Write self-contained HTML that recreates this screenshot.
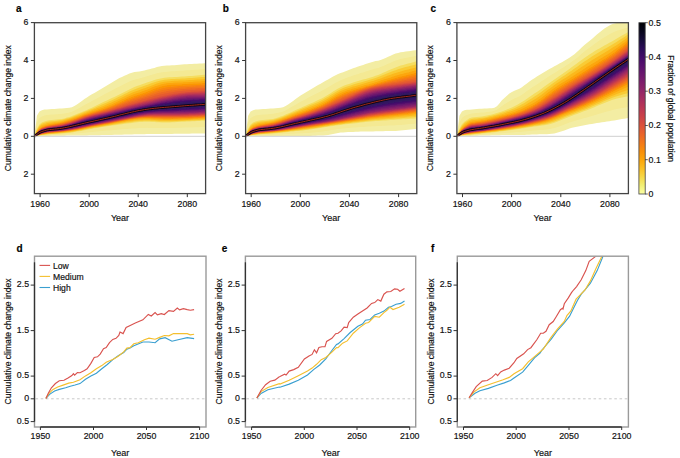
<!DOCTYPE html>
<html><head><meta charset="utf-8"><style>
html,body{margin:0;padding:0;background:#fff;width:680px;height:458px;overflow:hidden}
svg{display:block}
text{font-family:"Liberation Sans", sans-serif;stroke:#111;stroke-width:0.18px;paint-order:normal}
</style></head><body>
<svg width="680" height="458" viewBox="0 0 680 458">
<rect width="680" height="458" fill="#fff"/>
<defs><linearGradient id="cbar" x1="0" y1="1" x2="0" y2="0"><stop offset="0.000" stop-color="#fcffa4"/><stop offset="0.050" stop-color="#f1ef75"/><stop offset="0.100" stop-color="#f6d746"/><stop offset="0.150" stop-color="#fbbe23"/><stop offset="0.200" stop-color="#fca50a"/><stop offset="0.250" stop-color="#f98e09"/><stop offset="0.300" stop-color="#f37819"/><stop offset="0.350" stop-color="#ea632a"/><stop offset="0.400" stop-color="#dd513a"/><stop offset="0.450" stop-color="#cc4248"/><stop offset="0.500" stop-color="#bc3754"/><stop offset="0.550" stop-color="#a82e5f"/><stop offset="0.600" stop-color="#932667"/><stop offset="0.650" stop-color="#7f1e6c"/><stop offset="0.700" stop-color="#6a176e"/><stop offset="0.750" stop-color="#57106e"/><stop offset="0.800" stop-color="#420a68"/><stop offset="0.850" stop-color="#2b0b57"/><stop offset="0.900" stop-color="#160b39"/><stop offset="0.950" stop-color="#07051b"/><stop offset="1.000" stop-color="#000004"/></linearGradient><filter id="blur" x="-5%" y="-5%" width="110%" height="110%"><feGaussianBlur stdDeviation="0.7"/></filter><clipPath id="clipa"><rect x="34.4" y="22.7" width="171.2" height="170.9"/></clipPath><clipPath id="clipb"><rect x="245.6" y="22.7" width="171.2" height="170.9"/></clipPath><clipPath id="clipc"><rect x="456.9" y="22.7" width="171.5" height="170.9"/></clipPath><clipPath id="clipd"><rect x="34.5" y="256.2" width="171.5" height="170.8"/></clipPath><clipPath id="clipe"><rect x="245.4" y="256.2" width="170.3" height="170.8"/></clipPath><clipPath id="clipf"><rect x="457.3" y="256.2" width="171.1" height="170.8"/></clipPath></defs>
<g clip-path="url(#clipa)">
<path d="M34.4,136.3 36.9,115.8 39.4,111.6 41.9,110.3 44.4,109.6 46.9,109.4 49.4,109.2 51.9,109.1 54.4,108.9 56.9,108.8 59.4,108.6 61.9,108.4 64.4,108.2 66.9,108.1 69.4,107.8 71.9,107.2 74.4,106.1 76.9,104.4 79.4,102.7 81.9,100.9 84.4,99.1 86.9,97.4 89.4,95.8 91.9,94.3 94.4,92.9 96.9,91.4 99.4,89.9 101.9,88.4 104.4,86.9 106.9,85.4 109.4,83.9 111.9,82.4 114.4,80.9 116.9,79.5 119.4,78.1 121.9,76.9 124.4,75.8 126.9,74.7 129.4,73.6 131.9,72.7 134.4,72.1 136.9,71.7 139.4,71.4 141.9,70.9 144.4,70.4 146.9,69.8 149.4,69.2 151.9,68.6 154.4,67.9 156.9,67.1 159.4,66.4 161.9,66.0 164.4,65.8 166.9,65.6 169.4,65.5 171.9,65.3 174.4,65.2 176.9,65.0 179.4,64.7 181.9,64.5 184.4,64.3 186.9,64.2 189.4,64.0 191.9,63.9 194.4,63.8 196.9,63.7 199.4,63.6 201.9,63.5 204.4,63.3 205.6,63.3 205.6,133.5 204.4,133.5 201.9,133.5 199.4,133.6 196.9,133.6 194.4,133.6 191.9,133.6 189.4,133.7 186.9,133.7 184.4,133.7 181.9,133.8 179.4,133.8 176.9,133.8 174.4,133.8 171.9,133.9 169.4,133.9 166.9,133.9 164.4,133.9 161.9,134.0 159.4,134.0 156.9,134.0 154.4,134.0 151.9,134.1 149.4,134.1 146.9,134.1 144.4,134.2 141.9,134.2 139.4,134.2 136.9,134.3 134.4,134.3 131.9,134.4 129.4,134.5 126.9,134.5 124.4,134.6 121.9,134.7 119.4,134.7 116.9,134.8 114.4,134.8 111.9,134.9 109.4,135.0 106.9,135.0 104.4,135.1 101.9,135.1 99.4,135.2 96.9,135.2 94.4,135.3 91.9,135.3 89.4,135.3 86.9,135.4 84.4,135.4 81.9,135.4 79.4,135.5 76.9,135.5 74.4,135.5 71.9,135.6 69.4,135.6 66.9,135.6 64.4,135.7 61.9,135.7 59.4,135.7 56.9,135.8 54.4,135.8 51.9,135.8 49.4,135.9 46.9,135.9 44.4,135.9 41.9,136.0 39.4,136.0 36.9,136.2 34.4,136.3Z" fill="#f3eda3"/>
<g filter="url(#blur)"><path d="M34.4,136.3 36.9,122.4 39.4,118.1 41.9,116.4 44.4,115.6 46.9,115.1 49.4,114.8 51.9,114.6 54.4,114.5 56.9,114.3 59.4,114.0 61.9,113.7 64.4,113.4 66.9,112.9 69.4,112.4 71.9,111.7 74.4,110.6 76.9,109.3 79.4,108.0 81.9,106.6 84.4,105.1 86.9,103.8 89.4,102.4 91.9,101.1 94.4,99.8 96.9,98.4 99.4,97.0 101.9,95.7 104.4,94.3 106.9,93.0 109.4,91.7 111.9,90.4 114.4,89.1 116.9,87.8 119.4,86.5 121.9,85.2 124.4,84.0 126.9,82.8 129.4,81.6 131.9,80.6 134.4,79.7 136.9,79.0 139.4,78.4 141.9,77.7 144.4,77.0 146.9,76.3 149.4,75.5 151.9,74.8 154.4,74.1 156.9,73.3 159.4,72.7 161.9,72.2 164.4,71.9 166.9,71.7 169.4,71.5 171.9,71.3 174.4,71.2 176.9,71.0 179.4,70.8 181.9,70.7 184.4,70.5 186.9,70.3 189.4,70.2 191.9,70.0 194.4,69.8 196.9,69.7 199.4,69.5 201.9,69.3 204.4,69.1 205.6,69.1 205.6,127.0 204.4,127.0 201.9,127.1 199.4,127.2 196.9,127.2 194.4,127.3 191.9,127.4 189.4,127.5 186.9,127.5 184.4,127.6 181.9,127.7 179.4,127.8 176.9,127.8 174.4,127.9 171.9,128.0 169.4,128.0 166.9,128.1 164.4,128.1 161.9,128.1 159.4,128.1 156.9,128.0 154.4,128.0 151.9,127.9 149.4,127.9 146.9,127.8 144.4,127.9 141.9,127.9 139.4,128.1 136.9,128.2 134.4,128.4 131.9,128.6 129.4,128.7 126.9,128.9 124.4,129.1 121.9,129.3 119.4,129.5 116.9,129.7 114.4,129.9 111.9,130.2 109.4,130.4 106.9,130.6 104.4,130.8 101.9,131.0 99.4,131.3 96.9,131.5 94.4,131.7 91.9,132.0 89.4,132.2 86.9,132.5 84.4,132.8 81.9,133.0 79.4,133.3 76.9,133.5 74.4,133.8 71.9,134.0 69.4,134.1 66.9,134.3 64.4,134.4 61.9,134.6 59.4,134.7 56.9,134.8 54.4,134.9 51.9,135.0 49.4,135.1 46.9,135.2 44.4,135.3 41.9,135.5 39.4,135.7 36.9,136.0 34.4,136.3Z" fill="#f4e993"/><path d="M34.4,136.3 36.9,128.8 39.4,124.4 41.9,122.4 44.4,121.5 46.9,120.7 49.4,120.2 51.9,120.0 54.4,119.8 56.9,119.6 59.4,119.3 61.9,118.9 64.4,118.4 66.9,117.6 69.4,116.9 71.9,116.0 74.4,115.1 76.9,114.1 79.4,113.1 81.9,112.0 84.4,111.0 86.9,109.9 89.4,108.8 91.9,107.7 94.4,106.5 96.9,105.2 99.4,104.0 101.9,102.8 104.4,101.6 106.9,100.4 109.4,99.3 111.9,98.1 114.4,97.0 116.9,95.8 119.4,94.6 121.9,93.3 124.4,92.0 126.9,90.7 129.4,89.4 131.9,88.2 134.4,87.1 136.9,86.1 139.4,85.2 141.9,84.3 144.4,83.5 146.9,82.6 149.4,81.7 151.9,80.9 154.4,80.1 156.9,79.3 159.4,78.7 161.9,78.2 164.4,77.8 166.9,77.5 169.4,77.3 171.9,77.2 174.4,77.0 176.9,76.9 179.4,76.8 181.9,76.6 184.4,76.5 186.9,76.3 189.4,76.1 191.9,75.9 194.4,75.7 196.9,75.5 199.4,75.3 201.9,75.0 204.4,74.8 205.6,74.7 205.6,120.7 204.4,120.7 201.9,120.8 199.4,121.0 196.9,121.1 194.4,121.2 191.9,121.3 189.4,121.5 186.9,121.6 184.4,121.7 181.9,121.8 179.4,122.0 176.9,122.1 174.4,122.2 171.9,122.3 169.4,122.4 166.9,122.4 164.4,122.5 161.9,122.4 159.4,122.3 156.9,122.2 154.4,122.1 151.9,121.9 149.4,121.8 146.9,121.8 144.4,121.8 141.9,121.9 139.4,122.1 136.9,122.3 134.4,122.6 131.9,122.9 129.4,123.2 126.9,123.5 124.4,123.8 121.9,124.2 119.4,124.5 116.9,124.9 114.4,125.2 111.9,125.6 109.4,125.9 106.9,126.3 104.4,126.7 101.9,127.1 99.4,127.5 96.9,127.9 94.4,128.3 91.9,128.8 89.4,129.2 86.9,129.7 84.4,130.2 81.9,130.7 79.4,131.2 76.9,131.6 74.4,132.0 71.9,132.4 69.4,132.7 66.9,133.0 64.4,133.2 61.9,133.4 59.4,133.6 56.9,133.8 54.4,134.0 51.9,134.1 49.4,134.3 46.9,134.5 44.4,134.7 41.9,135.0 39.4,135.3 36.9,135.8 34.4,136.3Z" fill="#f5dd5f"/><path d="M34.4,136.3 36.9,129.9 39.4,125.8 41.9,123.8 44.4,122.8 46.9,122.0 49.4,121.5 51.9,121.2 54.4,121.0 56.9,120.7 59.4,120.3 61.9,119.9 64.4,119.3 66.9,118.6 69.4,117.9 71.9,117.0 74.4,116.1 76.9,115.1 79.4,114.1 81.9,113.1 84.4,112.1 86.9,111.1 89.4,110.0 91.9,109.0 94.4,107.9 96.9,106.8 99.4,105.7 101.9,104.6 104.4,103.5 106.9,102.4 109.4,101.3 111.9,100.2 114.4,99.0 116.9,97.8 119.4,96.6 121.9,95.4 124.4,94.1 126.9,92.9 129.4,91.6 131.9,90.5 134.4,89.5 136.9,88.5 139.4,87.6 141.9,86.7 144.4,85.8 146.9,85.0 149.4,84.0 151.9,83.1 154.4,82.3 156.9,81.5 159.4,80.8 161.9,80.2 164.4,79.8 166.9,79.5 169.4,79.2 171.9,79.1 174.4,78.9 176.9,78.8 179.4,78.7 181.9,78.6 184.4,78.4 186.9,78.3 189.4,78.1 191.9,77.9 194.4,77.7 196.9,77.5 199.4,77.3 201.9,77.1 204.4,76.9 205.6,76.8 205.6,119.9 204.4,119.9 201.9,120.1 199.4,120.2 196.9,120.3 194.4,120.4 191.9,120.5 189.4,120.7 186.9,120.8 184.4,120.9 181.9,121.0 179.4,121.1 176.9,121.2 174.4,121.3 171.9,121.4 169.4,121.5 166.9,121.5 164.4,121.5 161.9,121.5 159.4,121.4 156.9,121.3 154.4,121.1 151.9,120.9 149.4,120.8 146.9,120.8 144.4,120.8 141.9,120.9 139.4,121.1 136.9,121.3 134.4,121.6 131.9,121.9 129.4,122.2 126.9,122.6 124.4,122.9 121.9,123.3 119.4,123.7 116.9,124.1 114.4,124.5 111.9,124.9 109.4,125.3 106.9,125.7 104.4,126.1 101.9,126.5 99.4,126.9 96.9,127.3 94.4,127.7 91.9,128.2 89.4,128.6 86.9,129.1 84.4,129.6 81.9,130.2 79.4,130.6 76.9,131.1 74.4,131.5 71.9,131.9 69.4,132.2 66.9,132.5 64.4,132.7 61.9,133.0 59.4,133.2 56.9,133.4 54.4,133.6 51.9,133.7 49.4,133.9 46.9,134.2 44.4,134.5 41.9,134.8 39.4,135.2 36.9,135.7 34.4,136.3Z" fill="#f9cb35"/><path d="M34.4,136.3 36.9,131.0 39.4,127.1 41.9,125.1 44.4,124.2 46.9,123.3 49.4,122.8 51.9,122.5 54.4,122.1 56.9,121.8 59.4,121.4 61.9,120.9 64.4,120.3 66.9,119.6 69.4,118.8 71.9,118.0 74.4,117.1 76.9,116.1 79.4,115.2 81.9,114.2 84.4,113.2 86.9,112.2 89.4,111.3 91.9,110.3 94.4,109.3 96.9,108.3 99.4,107.4 101.9,106.4 104.4,105.4 106.9,104.3 109.4,103.3 111.9,102.2 114.4,101.0 116.9,99.9 119.4,98.7 121.9,97.5 124.4,96.2 126.9,95.0 129.4,93.9 131.9,92.8 134.4,91.8 136.9,90.9 139.4,90.0 141.9,89.1 144.4,88.2 146.9,87.3 149.4,86.4 151.9,85.4 154.4,84.4 156.9,83.6 159.4,82.8 161.9,82.2 164.4,81.7 166.9,81.4 169.4,81.2 171.9,81.0 174.4,80.8 176.9,80.7 179.4,80.6 181.9,80.5 184.4,80.4 186.9,80.2 189.4,80.1 191.9,79.9 194.4,79.7 196.9,79.6 199.4,79.4 201.9,79.2 204.4,79.0 205.6,79.0 205.6,119.1 204.4,119.1 201.9,119.3 199.4,119.4 196.9,119.5 194.4,119.6 191.9,119.7 189.4,119.9 186.9,120.0 184.4,120.1 181.9,120.2 179.4,120.3 176.9,120.4 174.4,120.4 171.9,120.5 169.4,120.6 166.9,120.6 164.4,120.6 161.9,120.5 159.4,120.4 156.9,120.3 154.4,120.1 151.9,120.0 149.4,119.8 146.9,119.8 144.4,119.8 141.9,119.9 139.4,120.1 136.9,120.3 134.4,120.6 131.9,120.9 129.4,121.3 126.9,121.6 124.4,122.0 121.9,122.5 119.4,122.9 116.9,123.3 114.4,123.7 111.9,124.2 109.4,124.6 106.9,125.0 104.4,125.4 101.9,125.9 99.4,126.3 96.9,126.7 94.4,127.1 91.9,127.6 89.4,128.1 86.9,128.6 84.4,129.1 81.9,129.6 79.4,130.1 76.9,130.5 74.4,131.0 71.9,131.3 69.4,131.7 66.9,132.0 64.4,132.3 61.9,132.5 59.4,132.7 56.9,133.0 54.4,133.2 51.9,133.4 49.4,133.6 46.9,133.8 44.4,134.2 41.9,134.5 39.4,135.0 36.9,135.6 34.4,136.3Z" fill="#fbb81d"/><path d="M34.4,136.3 36.9,132.0 39.4,128.4 41.9,126.5 44.4,125.6 46.9,124.7 49.4,124.1 51.9,123.7 54.4,123.3 56.9,122.9 59.4,122.4 61.9,121.9 64.4,121.3 66.9,120.6 69.4,119.8 71.9,119.0 74.4,118.1 76.9,117.2 79.4,116.2 81.9,115.2 84.4,114.3 86.9,113.4 89.4,112.5 91.9,111.6 94.4,110.7 96.9,109.9 99.4,109.0 101.9,108.2 104.4,107.2 106.9,106.3 109.4,105.3 111.9,104.2 114.4,103.1 116.9,101.9 119.4,100.8 121.9,99.6 124.4,98.4 126.9,97.2 129.4,96.1 131.9,95.1 134.4,94.1 136.9,93.2 139.4,92.4 141.9,91.5 144.4,90.6 146.9,89.7 149.4,88.7 151.9,87.6 154.4,86.6 156.9,85.7 159.4,84.9 161.9,84.2 164.4,83.7 166.9,83.3 169.4,83.1 171.9,82.9 174.4,82.8 176.9,82.6 179.4,82.5 181.9,82.4 184.4,82.3 186.9,82.2 189.4,82.0 191.9,81.9 194.4,81.7 196.9,81.6 199.4,81.5 201.9,81.3 204.4,81.2 205.6,81.1 205.6,118.3 204.4,118.3 201.9,118.5 199.4,118.6 196.9,118.7 194.4,118.8 191.9,118.9 189.4,119.1 186.9,119.2 184.4,119.3 181.9,119.3 179.4,119.4 176.9,119.5 174.4,119.6 171.9,119.6 169.4,119.7 166.9,119.7 164.4,119.7 161.9,119.6 159.4,119.5 156.9,119.3 154.4,119.2 151.9,119.0 149.4,118.8 146.9,118.8 144.4,118.8 141.9,118.9 139.4,119.0 136.9,119.3 134.4,119.6 131.9,119.9 129.4,120.3 126.9,120.7 124.4,121.2 121.9,121.6 119.4,122.1 116.9,122.5 114.4,123.0 111.9,123.5 109.4,123.9 106.9,124.4 104.4,124.8 101.9,125.2 99.4,125.7 96.9,126.1 94.4,126.5 91.9,127.0 89.4,127.5 86.9,128.0 84.4,128.5 81.9,129.0 79.4,129.5 76.9,130.0 74.4,130.4 71.9,130.8 69.4,131.2 66.9,131.5 64.4,131.8 61.9,132.0 59.4,132.3 56.9,132.5 54.4,132.8 51.9,133.0 49.4,133.2 46.9,133.5 44.4,133.9 41.9,134.3 39.4,134.8 36.9,135.6 34.4,136.3Z" fill="#fca60c"/><path d="M34.4,136.3 36.9,132.7 39.4,129.3 41.9,127.4 44.4,126.5 46.9,125.6 49.4,125.0 51.9,124.6 54.4,124.2 56.9,123.7 59.4,123.2 61.9,122.7 64.4,122.1 66.9,121.3 69.4,120.6 71.9,119.8 74.4,118.9 76.9,118.0 79.4,117.0 81.9,116.1 84.4,115.1 86.9,114.3 89.4,113.4 91.9,112.6 94.4,111.8 96.9,111.1 99.4,110.3 101.9,109.5 104.4,108.7 106.9,107.8 109.4,106.8 111.9,105.7 114.4,104.7 116.9,103.6 119.4,102.4 121.9,101.3 124.4,100.2 126.9,99.1 129.4,98.0 131.9,97.0 134.4,96.1 136.9,95.2 139.4,94.4 141.9,93.6 144.4,92.7 146.9,91.8 149.4,90.8 151.9,89.7 154.4,88.7 156.9,87.7 159.4,86.9 161.9,86.2 164.4,85.7 166.9,85.3 169.4,85.0 171.9,84.8 174.4,84.6 176.9,84.5 179.4,84.4 181.9,84.2 184.4,84.1 186.9,84.0 189.4,83.8 191.9,83.7 194.4,83.6 196.9,83.5 199.4,83.3 201.9,83.2 204.4,83.1 205.6,83.0 205.6,117.6 204.4,117.6 201.9,117.8 199.4,117.9 196.9,118.0 194.4,118.1 191.9,118.2 189.4,118.4 186.9,118.5 184.4,118.5 181.9,118.6 179.4,118.7 176.9,118.8 174.4,118.8 171.9,118.9 169.4,118.9 166.9,118.9 164.4,118.9 161.9,118.8 159.4,118.7 156.9,118.5 154.4,118.4 151.9,118.2 149.4,118.1 146.9,118.0 144.4,118.0 141.9,118.1 139.4,118.3 136.9,118.5 134.4,118.8 131.9,119.2 129.4,119.6 126.9,120.0 124.4,120.5 121.9,121.0 119.4,121.5 116.9,122.0 114.4,122.5 111.9,123.0 109.4,123.4 106.9,123.9 104.4,124.3 101.9,124.8 99.4,125.2 96.9,125.6 94.4,126.1 91.9,126.5 89.4,127.0 86.9,127.5 84.4,128.1 81.9,128.6 79.4,129.1 76.9,129.6 74.4,130.0 71.9,130.4 69.4,130.8 66.9,131.1 64.4,131.4 61.9,131.7 59.4,132.0 56.9,132.2 54.4,132.5 51.9,132.7 49.4,132.9 46.9,133.3 44.4,133.7 41.9,134.1 39.4,134.7 36.9,135.5 34.4,136.3Z" fill="#fb9606"/><path d="M34.4,136.3 36.9,132.8 39.4,129.5 41.9,127.7 44.4,126.8 46.9,126.0 49.4,125.4 51.9,125.0 54.4,124.6 56.9,124.1 59.4,123.7 61.9,123.1 64.4,122.5 66.9,121.8 69.4,121.0 71.9,120.2 74.4,119.4 76.9,118.4 79.4,117.5 81.9,116.6 84.4,115.6 86.9,114.8 89.4,113.9 91.9,113.1 94.4,112.4 96.9,111.6 99.4,110.9 101.9,110.2 104.4,109.4 106.9,108.5 109.4,107.6 111.9,106.6 114.4,105.6 116.9,104.6 119.4,103.5 121.9,102.4 124.4,101.4 126.9,100.3 129.4,99.4 131.9,98.4 134.4,97.6 136.9,96.7 139.4,95.9 141.9,95.1 144.4,94.3 146.9,93.4 149.4,92.5 151.9,91.5 154.4,90.6 156.9,89.7 159.4,88.9 161.9,88.2 164.4,87.7 166.9,87.3 169.4,87.0 171.9,86.7 174.4,86.5 176.9,86.3 179.4,86.1 181.9,85.9 184.4,85.8 186.9,85.6 189.4,85.4 191.9,85.3 194.4,85.2 196.9,85.1 199.4,84.9 201.9,84.8 204.4,84.7 205.6,84.6 205.6,117.0 204.4,117.1 201.9,117.2 199.4,117.4 196.9,117.5 194.4,117.6 191.9,117.7 189.4,117.8 186.9,117.9 184.4,118.0 181.9,118.1 179.4,118.1 176.9,118.2 174.4,118.2 171.9,118.3 169.4,118.3 166.9,118.3 164.4,118.3 161.9,118.2 159.4,118.1 156.9,118.0 154.4,117.9 151.9,117.7 149.4,117.6 146.9,117.6 144.4,117.6 141.9,117.8 139.4,118.0 136.9,118.2 134.4,118.6 131.9,118.9 129.4,119.3 126.9,119.8 124.4,120.2 121.9,120.7 119.4,121.2 116.9,121.7 114.4,122.2 111.9,122.7 109.4,123.2 106.9,123.6 104.4,124.1 101.9,124.5 99.4,125.0 96.9,125.4 94.4,125.9 91.9,126.3 89.4,126.8 86.9,127.3 84.4,127.9 81.9,128.4 79.4,128.9 76.9,129.4 74.4,129.8 71.9,130.2 69.4,130.6 66.9,130.9 64.4,131.3 61.9,131.5 59.4,131.8 56.9,132.1 54.4,132.3 51.9,132.5 49.4,132.8 46.9,133.1 44.4,133.5 41.9,134.0 39.4,134.6 36.9,135.4 34.4,136.3Z" fill="#f8850f"/><path d="M34.4,136.3 36.9,132.9 39.4,129.7 41.9,128.0 44.4,127.1 46.9,126.3 49.4,125.7 51.9,125.3 54.4,124.9 56.9,124.5 59.4,124.1 61.9,123.6 64.4,123.0 66.9,122.3 69.4,121.5 71.9,120.7 74.4,119.8 76.9,118.9 79.4,118.0 81.9,117.0 84.4,116.1 86.9,115.3 89.4,114.4 91.9,113.7 94.4,112.9 96.9,112.2 99.4,111.5 101.9,110.8 104.4,110.0 106.9,109.2 109.4,108.4 111.9,107.5 114.4,106.5 116.9,105.6 119.4,104.6 121.9,103.6 124.4,102.6 126.9,101.6 129.4,100.7 131.9,99.8 134.4,99.0 136.9,98.2 139.4,97.5 141.9,96.7 144.4,95.9 146.9,95.1 149.4,94.2 151.9,93.3 154.4,92.4 156.9,91.6 159.4,90.8 161.9,90.2 164.4,89.7 166.9,89.2 169.4,88.9 171.9,88.6 174.4,88.3 176.9,88.1 179.4,87.8 181.9,87.6 184.4,87.4 186.9,87.2 189.4,87.1 191.9,86.9 194.4,86.8 196.9,86.6 199.4,86.5 201.9,86.4 204.4,86.3 205.6,86.2 205.6,116.5 204.4,116.6 201.9,116.7 199.4,116.8 196.9,116.9 194.4,117.1 191.9,117.2 189.4,117.3 186.9,117.4 184.4,117.5 181.9,117.5 179.4,117.6 176.9,117.6 174.4,117.7 171.9,117.7 169.4,117.7 166.9,117.7 164.4,117.7 161.9,117.7 159.4,117.6 156.9,117.5 154.4,117.4 151.9,117.3 149.4,117.2 146.9,117.2 144.4,117.3 141.9,117.4 139.4,117.6 136.9,117.9 134.4,118.3 131.9,118.6 129.4,119.1 126.9,119.5 124.4,120.0 121.9,120.5 119.4,121.0 116.9,121.5 114.4,121.9 111.9,122.4 109.4,122.9 106.9,123.4 104.4,123.8 101.9,124.3 99.4,124.7 96.9,125.2 94.4,125.6 91.9,126.1 89.4,126.6 86.9,127.1 84.4,127.6 81.9,128.2 79.4,128.7 76.9,129.2 74.4,129.6 71.9,130.1 69.4,130.4 66.9,130.8 64.4,131.1 61.9,131.4 59.4,131.7 56.9,131.9 54.4,132.1 51.9,132.3 49.4,132.6 46.9,132.9 44.4,133.3 41.9,133.8 39.4,134.5 36.9,135.4 34.4,136.3Z" fill="#f3761b"/><path d="M34.4,136.3 36.9,133.1 39.4,130.0 41.9,128.3 44.4,127.4 46.9,126.6 49.4,126.1 51.9,125.7 54.4,125.3 56.9,124.9 59.4,124.5 61.9,124.0 64.4,123.4 66.9,122.7 69.4,122.0 71.9,121.2 74.4,120.3 76.9,119.4 79.4,118.5 81.9,117.5 84.4,116.6 86.9,115.8 89.4,115.0 91.9,114.2 94.4,113.5 96.9,112.8 99.4,112.1 101.9,111.5 104.4,110.7 106.9,110.0 109.4,109.2 111.9,108.3 114.4,107.4 116.9,106.6 119.4,105.6 121.9,104.7 124.4,103.8 126.9,102.9 129.4,102.1 131.9,101.2 134.4,100.5 136.9,99.7 139.4,99.0 141.9,98.2 144.4,97.5 146.9,96.7 149.4,95.9 151.9,95.1 154.4,94.3 156.9,93.5 159.4,92.8 161.9,92.2 164.4,91.7 166.9,91.2 169.4,90.8 171.9,90.5 174.4,90.2 176.9,89.9 179.4,89.6 181.9,89.3 184.4,89.1 186.9,88.8 189.4,88.7 191.9,88.5 194.4,88.4 196.9,88.2 199.4,88.1 201.9,88.0 204.4,87.9 205.6,87.8 205.6,116.0 204.4,116.0 201.9,116.2 199.4,116.3 196.9,116.4 194.4,116.5 191.9,116.6 189.4,116.7 186.9,116.8 184.4,116.9 181.9,117.0 179.4,117.0 176.9,117.1 174.4,117.1 171.9,117.1 169.4,117.1 166.9,117.1 164.4,117.1 161.9,117.1 159.4,117.0 156.9,116.9 154.4,116.9 151.9,116.8 149.4,116.8 146.9,116.8 144.4,116.9 141.9,117.1 139.4,117.3 136.9,117.6 134.4,118.0 131.9,118.4 129.4,118.8 126.9,119.2 124.4,119.7 121.9,120.2 119.4,120.7 116.9,121.2 114.4,121.7 111.9,122.2 109.4,122.7 106.9,123.1 104.4,123.6 101.9,124.1 99.4,124.5 96.9,125.0 94.4,125.4 91.9,125.9 89.4,126.4 86.9,126.9 84.4,127.4 81.9,128.0 79.4,128.5 76.9,129.0 74.4,129.5 71.9,129.9 69.4,130.3 66.9,130.6 64.4,131.0 61.9,131.2 59.4,131.5 56.9,131.7 54.4,132.0 51.9,132.2 49.4,132.4 46.9,132.7 44.4,133.2 41.9,133.7 39.4,134.4 36.9,135.3 34.4,136.3Z" fill="#ec6726"/><path d="M34.4,136.3 36.9,133.2 39.4,130.2 41.9,128.6 44.4,127.7 46.9,127.0 49.4,126.4 51.9,126.1 54.4,125.7 56.9,125.3 59.4,124.9 61.9,124.5 64.4,123.9 66.9,123.2 69.4,122.4 71.9,121.6 74.4,120.8 76.9,119.9 79.4,118.9 81.9,118.0 84.4,117.1 86.9,116.3 89.4,115.5 91.9,114.7 94.4,114.0 96.9,113.4 99.4,112.8 101.9,112.1 104.4,111.4 106.9,110.7 109.4,110.0 111.9,109.2 114.4,108.4 116.9,107.5 119.4,106.7 121.9,105.9 124.4,105.0 126.9,104.2 129.4,103.4 131.9,102.7 134.4,101.9 136.9,101.2 139.4,100.5 141.9,99.8 144.4,99.1 146.9,98.4 149.4,97.6 151.9,96.9 154.4,96.1 156.9,95.4 159.4,94.8 161.9,94.2 164.4,93.7 166.9,93.2 169.4,92.8 171.9,92.4 174.4,92.0 176.9,91.6 179.4,91.3 181.9,91.0 184.4,90.7 186.9,90.5 189.4,90.3 191.9,90.1 194.4,89.9 196.9,89.8 199.4,89.7 201.9,89.6 204.4,89.4 205.6,89.4 205.6,115.4 204.4,115.5 201.9,115.6 199.4,115.7 196.9,115.9 194.4,116.0 191.9,116.1 189.4,116.2 186.9,116.3 184.4,116.4 181.9,116.4 179.4,116.5 176.9,116.5 174.4,116.5 171.9,116.5 169.4,116.6 166.9,116.6 164.4,116.5 161.9,116.5 159.4,116.5 156.9,116.4 154.4,116.4 151.9,116.3 149.4,116.3 146.9,116.4 144.4,116.5 141.9,116.7 139.4,117.0 136.9,117.3 134.4,117.7 131.9,118.1 129.4,118.5 126.9,119.0 124.4,119.5 121.9,119.9 119.4,120.4 116.9,120.9 114.4,121.4 111.9,121.9 109.4,122.4 106.9,122.9 104.4,123.4 101.9,123.8 99.4,124.3 96.9,124.7 94.4,125.2 91.9,125.7 89.4,126.2 86.9,126.7 84.4,127.2 81.9,127.8 79.4,128.3 76.9,128.8 74.4,129.3 71.9,129.7 69.4,130.1 66.9,130.5 64.4,130.8 61.9,131.1 59.4,131.3 56.9,131.6 54.4,131.8 51.9,132.0 49.4,132.2 46.9,132.5 44.4,133.0 41.9,133.6 39.4,134.3 36.9,135.3 34.4,136.3Z" fill="#e45a31"/><path d="M34.4,136.3 36.9,133.3 39.4,130.4 41.9,128.9 44.4,128.0 46.9,127.3 49.4,126.8 51.9,126.4 54.4,126.1 56.9,125.8 59.4,125.4 61.9,124.9 64.4,124.3 66.9,123.6 69.4,122.9 71.9,122.1 74.4,121.2 76.9,120.3 79.4,119.4 81.9,118.5 84.4,117.6 86.9,116.8 89.4,116.0 91.9,115.3 94.4,114.6 96.9,114.0 99.4,113.4 101.9,112.8 104.4,112.1 106.9,111.5 109.4,110.8 111.9,110.0 114.4,109.3 116.9,108.5 119.4,107.8 121.9,107.0 124.4,106.3 126.9,105.5 129.4,104.8 131.9,104.1 134.4,103.4 136.9,102.7 139.4,102.0 141.9,101.4 144.4,100.7 146.9,100.0 149.4,99.3 151.9,98.7 154.4,98.0 156.9,97.4 159.4,96.7 161.9,96.2 164.4,95.7 166.9,95.2 169.4,94.7 171.9,94.3 174.4,93.8 176.9,93.4 179.4,93.0 181.9,92.7 184.4,92.4 186.9,92.1 189.4,91.9 191.9,91.7 194.4,91.5 196.9,91.4 199.4,91.3 201.9,91.1 204.4,91.0 205.6,91.0 205.6,114.9 204.4,115.0 201.9,115.1 199.4,115.2 196.9,115.3 194.4,115.4 191.9,115.6 189.4,115.7 186.9,115.7 184.4,115.8 181.9,115.9 179.4,115.9 176.9,115.9 174.4,115.9 171.9,116.0 169.4,116.0 166.9,116.0 164.4,116.0 161.9,115.9 159.4,115.9 156.9,115.9 154.4,115.8 151.9,115.8 149.4,115.9 146.9,116.0 144.4,116.2 141.9,116.4 139.4,116.7 136.9,117.0 134.4,117.4 131.9,117.8 129.4,118.3 126.9,118.7 124.4,119.2 121.9,119.7 119.4,120.2 116.9,120.7 114.4,121.2 111.9,121.7 109.4,122.2 106.9,122.6 104.4,123.1 101.9,123.6 99.4,124.0 96.9,124.5 94.4,125.0 91.9,125.5 89.4,126.0 86.9,126.5 84.4,127.0 81.9,127.6 79.4,128.1 76.9,128.6 74.4,129.1 71.9,129.5 69.4,129.9 66.9,130.3 64.4,130.6 61.9,130.9 59.4,131.2 56.9,131.4 54.4,131.6 51.9,131.8 49.4,132.0 46.9,132.3 44.4,132.8 41.9,133.4 39.4,134.1 36.9,135.2 34.4,136.3Z" fill="#d94d3d"/><path d="M34.4,136.3 36.9,133.4 39.4,130.6 41.9,129.1 44.4,128.3 46.9,127.5 49.4,127.0 51.9,126.7 54.4,126.4 56.9,126.0 59.4,125.6 61.9,125.2 64.4,124.6 66.9,123.9 69.4,123.2 71.9,122.4 74.4,121.6 76.9,120.7 79.4,119.8 81.9,118.9 84.4,118.0 86.9,117.2 89.4,116.4 91.9,115.7 94.4,115.0 96.9,114.4 99.4,113.8 101.9,113.2 104.4,112.6 106.9,111.9 109.4,111.3 111.9,110.6 114.4,109.9 116.9,109.1 119.4,108.4 121.9,107.7 124.4,107.0 126.9,106.2 129.4,105.5 131.9,104.9 134.4,104.2 136.9,103.5 139.4,102.9 141.9,102.2 144.4,101.6 146.9,100.9 149.4,100.3 151.9,99.6 154.4,99.0 156.9,98.4 159.4,97.8 161.9,97.2 164.4,96.7 166.9,96.2 169.4,95.7 171.9,95.2 174.4,94.8 176.9,94.4 179.4,94.0 181.9,93.6 184.4,93.3 186.9,93.0 189.4,92.8 191.9,92.6 194.4,92.5 196.9,92.4 199.4,92.2 201.9,92.1 204.4,92.0 205.6,92.0 205.6,114.4 204.4,114.4 201.9,114.6 199.4,114.7 196.9,114.8 194.4,114.9 191.9,115.0 189.4,115.1 186.9,115.2 184.4,115.3 181.9,115.3 179.4,115.4 176.9,115.4 174.4,115.4 171.9,115.5 169.4,115.5 166.9,115.5 164.4,115.5 161.9,115.5 159.4,115.4 156.9,115.4 154.4,115.4 151.9,115.4 149.4,115.5 146.9,115.6 144.4,115.8 141.9,116.1 139.4,116.4 136.9,116.7 134.4,117.1 131.9,117.5 129.4,118.0 126.9,118.5 124.4,118.9 121.9,119.4 119.4,119.9 116.9,120.4 114.4,120.9 111.9,121.4 109.4,121.9 106.9,122.4 104.4,122.9 101.9,123.4 99.4,123.8 96.9,124.3 94.4,124.8 91.9,125.2 89.4,125.8 86.9,126.3 84.4,126.8 81.9,127.4 79.4,127.9 76.9,128.4 74.4,128.9 71.9,129.3 69.4,129.8 66.9,130.1 64.4,130.5 61.9,130.8 59.4,131.0 56.9,131.3 54.4,131.5 51.9,131.6 49.4,131.8 46.9,132.2 44.4,132.7 41.9,133.3 39.4,134.1 36.9,135.2 34.4,136.3Z" fill="#ce4347"/><path d="M34.4,136.3 36.9,133.5 39.4,130.7 41.9,129.3 44.4,128.5 46.9,127.7 49.4,127.3 51.9,126.9 54.4,126.6 56.9,126.3 59.4,125.9 61.9,125.4 64.4,124.9 66.9,124.2 69.4,123.5 71.9,122.7 74.4,121.9 76.9,121.0 79.4,120.1 81.9,119.2 84.4,118.3 86.9,117.5 89.4,116.7 91.9,116.0 94.4,115.4 96.9,114.8 99.4,114.2 101.9,113.6 104.4,113.0 106.9,112.4 109.4,111.7 111.9,111.0 114.4,110.3 116.9,109.6 119.4,108.9 121.9,108.2 124.4,107.5 126.9,106.8 129.4,106.1 131.9,105.5 134.4,104.8 136.9,104.2 139.4,103.6 141.9,103.0 144.4,102.3 146.9,101.7 149.4,101.0 151.9,100.4 154.4,99.7 156.9,99.1 159.4,98.5 161.9,97.9 164.4,97.4 166.9,96.9 169.4,96.4 171.9,96.0 174.4,95.5 176.9,95.1 179.4,94.7 181.9,94.3 184.4,94.0 186.9,93.8 189.4,93.6 191.9,93.4 194.4,93.3 196.9,93.2 199.4,93.1 201.9,93.0 204.4,92.9 205.6,92.9 205.6,113.9 204.4,113.9 201.9,114.0 199.4,114.2 196.9,114.3 194.4,114.4 191.9,114.5 189.4,114.6 186.9,114.7 184.4,114.8 181.9,114.8 179.4,114.9 176.9,114.9 174.4,114.9 171.9,115.0 169.4,115.0 166.9,115.0 164.4,115.0 161.9,115.0 159.4,115.0 156.9,115.0 154.4,115.0 151.9,115.0 149.4,115.1 146.9,115.2 144.4,115.4 141.9,115.7 139.4,116.1 136.9,116.4 134.4,116.8 131.9,117.3 129.4,117.7 126.9,118.2 124.4,118.7 121.9,119.2 119.4,119.7 116.9,120.2 114.4,120.7 111.9,121.2 109.4,121.7 106.9,122.2 104.4,122.6 101.9,123.1 99.4,123.6 96.9,124.1 94.4,124.6 91.9,125.0 89.4,125.6 86.9,126.1 84.4,126.6 81.9,127.1 79.4,127.7 76.9,128.2 74.4,128.7 71.9,129.2 69.4,129.6 66.9,130.0 64.4,130.3 61.9,130.6 59.4,130.9 56.9,131.1 54.4,131.3 51.9,131.5 49.4,131.7 46.9,132.0 44.4,132.6 41.9,133.2 39.4,134.0 36.9,135.1 34.4,136.3Z" fill="#c13a50"/><path d="M34.4,136.3 36.9,133.5 39.4,130.9 41.9,129.4 44.4,128.7 46.9,127.9 49.4,127.5 51.9,127.1 54.4,126.8 56.9,126.5 59.4,126.1 61.9,125.7 64.4,125.1 66.9,124.5 69.4,123.8 71.9,123.0 74.4,122.2 76.9,121.3 79.4,120.4 81.9,119.5 84.4,118.7 86.9,117.8 89.4,117.1 91.9,116.4 94.4,115.8 96.9,115.1 99.4,114.6 101.9,114.0 104.4,113.4 106.9,112.8 109.4,112.1 111.9,111.5 114.4,110.8 116.9,110.1 119.4,109.4 121.9,108.8 124.4,108.1 126.9,107.4 129.4,106.8 131.9,106.1 134.4,105.5 136.9,104.9 139.4,104.3 141.9,103.7 144.4,103.1 146.9,102.4 149.4,101.8 151.9,101.2 154.4,100.5 156.9,99.9 159.4,99.3 161.9,98.7 164.4,98.2 166.9,97.7 169.4,97.2 171.9,96.7 174.4,96.3 176.9,95.8 179.4,95.4 181.9,95.1 184.4,94.8 186.9,94.5 189.4,94.3 191.9,94.2 194.4,94.1 196.9,94.0 199.4,93.9 201.9,93.8 204.4,93.8 205.6,93.7 205.6,113.3 204.4,113.4 201.9,113.5 199.4,113.7 196.9,113.8 194.4,113.9 191.9,114.0 189.4,114.1 186.9,114.2 184.4,114.3 181.9,114.3 179.4,114.4 176.9,114.4 174.4,114.5 171.9,114.5 169.4,114.5 166.9,114.5 164.4,114.5 161.9,114.5 159.4,114.5 156.9,114.5 154.4,114.6 151.9,114.6 149.4,114.7 146.9,114.9 144.4,115.1 141.9,115.4 139.4,115.7 136.9,116.1 134.4,116.6 131.9,117.0 129.4,117.5 126.9,117.9 124.4,118.4 121.9,118.9 119.4,119.4 116.9,119.9 114.4,120.4 111.9,120.9 109.4,121.4 106.9,121.9 104.4,122.4 101.9,122.9 99.4,123.4 96.9,123.9 94.4,124.3 91.9,124.8 89.4,125.3 86.9,125.9 84.4,126.4 81.9,126.9 79.4,127.5 76.9,128.0 74.4,128.5 71.9,129.0 69.4,129.4 66.9,129.8 64.4,130.2 61.9,130.5 59.4,130.8 56.9,131.0 54.4,131.2 51.9,131.4 49.4,131.6 46.9,131.9 44.4,132.5 41.9,133.1 39.4,133.9 36.9,135.1 34.4,136.3Z" fill="#b43359"/><path d="M34.4,136.3 36.9,133.6 39.4,131.0 41.9,129.6 44.4,128.9 46.9,128.2 49.4,127.7 51.9,127.4 54.4,127.1 56.9,126.7 59.4,126.4 61.9,125.9 64.4,125.4 66.9,124.7 69.4,124.1 71.9,123.3 74.4,122.5 76.9,121.6 79.4,120.7 81.9,119.8 84.4,119.0 86.9,118.2 89.4,117.5 91.9,116.8 94.4,116.1 96.9,115.5 99.4,114.9 101.9,114.4 104.4,113.8 106.9,113.2 109.4,112.6 111.9,111.9 114.4,111.3 116.9,110.6 119.4,109.9 121.9,109.3 124.4,108.6 126.9,108.0 129.4,107.4 131.9,106.7 134.4,106.1 136.9,105.6 139.4,105.0 141.9,104.4 144.4,103.8 146.9,103.2 149.4,102.6 151.9,101.9 154.4,101.3 156.9,100.6 159.4,100.0 161.9,99.5 164.4,98.9 166.9,98.4 169.4,97.9 171.9,97.5 174.4,97.0 176.9,96.6 179.4,96.2 181.9,95.8 184.4,95.5 186.9,95.3 189.4,95.1 191.9,94.9 194.4,94.8 196.9,94.8 199.4,94.7 201.9,94.7 204.4,94.6 205.6,94.6 205.6,112.8 204.4,112.9 201.9,113.0 199.4,113.1 196.9,113.3 194.4,113.4 191.9,113.5 189.4,113.6 186.9,113.7 184.4,113.8 181.9,113.8 179.4,113.9 176.9,113.9 174.4,114.0 171.9,114.0 169.4,114.0 166.9,114.0 164.4,114.1 161.9,114.1 159.4,114.1 156.9,114.1 154.4,114.1 151.9,114.2 149.4,114.3 146.9,114.5 144.4,114.7 141.9,115.1 139.4,115.4 136.9,115.8 134.4,116.3 131.9,116.7 129.4,117.2 126.9,117.7 124.4,118.2 121.9,118.7 119.4,119.2 116.9,119.7 114.4,120.2 111.9,120.7 109.4,121.2 106.9,121.7 104.4,122.2 101.9,122.7 99.4,123.1 96.9,123.6 94.4,124.1 91.9,124.6 89.4,125.1 86.9,125.7 84.4,126.2 81.9,126.7 79.4,127.3 76.9,127.8 74.4,128.3 71.9,128.8 69.4,129.2 66.9,129.6 64.4,130.0 61.9,130.3 59.4,130.6 56.9,130.8 54.4,131.0 51.9,131.2 49.4,131.4 46.9,131.8 44.4,132.4 41.9,133.0 39.4,133.8 36.9,135.1 34.4,136.3Z" fill="#a62d60"/><path d="M34.4,136.3 36.9,133.7 39.4,131.2 41.9,129.8 44.4,129.1 46.9,128.4 49.4,127.9 51.9,127.6 54.4,127.3 56.9,127.0 59.4,126.6 61.9,126.2 64.4,125.7 66.9,125.0 69.4,124.3 71.9,123.6 74.4,122.8 76.9,121.9 79.4,121.0 81.9,120.2 84.4,119.3 86.9,118.5 89.4,117.8 91.9,117.1 94.4,116.5 96.9,115.9 99.4,115.3 101.9,114.8 104.4,114.2 106.9,113.6 109.4,113.0 111.9,112.4 114.4,111.7 116.9,111.1 119.4,110.5 121.9,109.8 124.4,109.2 126.9,108.6 129.4,108.0 131.9,107.4 134.4,106.8 136.9,106.2 139.4,105.7 141.9,105.1 144.4,104.5 146.9,103.9 149.4,103.3 151.9,102.7 154.4,102.0 156.9,101.4 159.4,100.8 161.9,100.2 164.4,99.7 166.9,99.2 169.4,98.7 171.9,98.2 174.4,97.7 176.9,97.3 179.4,96.9 181.9,96.6 184.4,96.3 186.9,96.0 189.4,95.8 191.9,95.7 194.4,95.6 196.9,95.6 199.4,95.6 201.9,95.5 204.4,95.5 205.6,95.5 205.6,112.3 204.4,112.4 201.9,112.5 199.4,112.6 196.9,112.7 194.4,112.9 191.9,113.0 189.4,113.1 186.9,113.2 184.4,113.2 181.9,113.3 179.4,113.4 176.9,113.4 174.4,113.5 171.9,113.5 169.4,113.5 166.9,113.6 164.4,113.6 161.9,113.6 159.4,113.6 156.9,113.7 154.4,113.7 151.9,113.8 149.4,113.9 146.9,114.1 144.4,114.4 141.9,114.7 139.4,115.1 136.9,115.5 134.4,116.0 131.9,116.5 129.4,116.9 126.9,117.4 124.4,117.9 121.9,118.4 119.4,118.9 116.9,119.4 114.4,119.9 111.9,120.4 109.4,120.9 106.9,121.4 104.4,121.9 101.9,122.4 99.4,122.9 96.9,123.4 94.4,123.9 91.9,124.4 89.4,124.9 86.9,125.5 84.4,126.0 81.9,126.5 79.4,127.1 76.9,127.6 74.4,128.1 71.9,128.6 69.4,129.1 66.9,129.5 64.4,129.9 61.9,130.2 59.4,130.5 56.9,130.7 54.4,130.9 51.9,131.1 49.4,131.3 46.9,131.6 44.4,132.2 41.9,132.9 39.4,133.8 36.9,135.0 34.4,136.3Z" fill="#982766"/><path d="M34.4,136.3 36.9,133.8 39.4,131.3 41.9,130.0 44.4,129.3 46.9,128.6 49.4,128.1 51.9,127.8 54.4,127.5 56.9,127.2 59.4,126.9 61.9,126.4 64.4,125.9 66.9,125.3 69.4,124.6 71.9,123.9 74.4,123.0 76.9,122.2 79.4,121.3 81.9,120.5 84.4,119.7 86.9,118.9 89.4,118.2 91.9,117.5 94.4,116.9 96.9,116.3 99.4,115.7 101.9,115.2 104.4,114.6 106.9,114.0 109.4,113.4 111.9,112.8 114.4,112.2 116.9,111.6 119.4,111.0 121.9,110.3 124.4,109.7 126.9,109.1 129.4,108.5 131.9,108.0 134.4,107.4 136.9,106.9 139.4,106.3 141.9,105.8 144.4,105.2 146.9,104.6 149.4,104.0 151.9,103.4 154.4,102.7 156.9,102.1 159.4,101.5 161.9,101.0 164.4,100.4 166.9,99.9 169.4,99.4 171.9,98.9 174.4,98.5 176.9,98.1 179.4,97.7 181.9,97.3 184.4,97.0 186.9,96.8 189.4,96.6 191.9,96.5 194.4,96.4 196.9,96.4 199.4,96.4 201.9,96.4 204.4,96.4 205.6,96.4 205.6,111.8 204.4,111.8 201.9,111.9 199.4,112.1 196.9,112.2 194.4,112.3 191.9,112.4 189.4,112.5 186.9,112.6 184.4,112.7 181.9,112.8 179.4,112.8 176.9,112.9 174.4,112.9 171.9,113.0 169.4,113.0 166.9,113.1 164.4,113.1 161.9,113.1 159.4,113.2 156.9,113.2 154.4,113.3 151.9,113.4 149.4,113.5 146.9,113.7 144.4,114.0 141.9,114.4 139.4,114.8 136.9,115.2 134.4,115.7 131.9,116.2 129.4,116.7 126.9,117.2 124.4,117.6 121.9,118.1 119.4,118.7 116.9,119.2 114.4,119.7 111.9,120.2 109.4,120.7 106.9,121.2 104.4,121.7 101.9,122.2 99.4,122.7 96.9,123.2 94.4,123.7 91.9,124.2 89.4,124.7 86.9,125.3 84.4,125.8 81.9,126.3 79.4,126.9 76.9,127.4 74.4,127.9 71.9,128.4 69.4,128.9 66.9,129.3 64.4,129.7 61.9,130.0 59.4,130.3 56.9,130.5 54.4,130.8 51.9,130.9 49.4,131.1 46.9,131.5 44.4,132.1 41.9,132.8 39.4,133.7 36.9,135.0 34.4,136.3Z" fill="#8a226a"/><path d="M34.4,136.3 36.9,133.8 39.4,131.5 41.9,130.1 44.4,129.4 46.9,128.7 49.4,128.3 51.9,128.0 54.4,127.7 56.9,127.4 59.4,127.0 61.9,126.6 64.4,126.1 66.9,125.5 69.4,124.8 71.9,124.1 74.4,123.3 76.9,122.5 79.4,121.6 81.9,120.8 84.4,120.0 86.9,119.3 89.4,118.5 91.9,117.9 94.4,117.3 96.9,116.7 99.4,116.1 101.9,115.6 104.4,115.0 106.9,114.4 109.4,113.8 111.9,113.2 114.4,112.6 116.9,112.0 119.4,111.4 121.9,110.7 124.4,110.1 126.9,109.5 129.4,108.9 131.9,108.4 134.4,107.8 136.9,107.3 139.4,106.7 141.9,106.2 144.4,105.6 146.9,105.1 149.4,104.5 151.9,103.9 154.4,103.3 156.9,102.7 159.4,102.1 161.9,101.6 164.4,101.1 166.9,100.6 169.4,100.2 171.9,99.7 174.4,99.3 176.9,98.9 179.4,98.5 181.9,98.2 184.4,97.9 186.9,97.6 189.4,97.5 191.9,97.4 194.4,97.3 196.9,97.2 199.4,97.2 201.9,97.2 204.4,97.1 205.6,97.1 205.6,111.0 204.4,111.1 201.9,111.2 199.4,111.4 196.9,111.5 194.4,111.6 191.9,111.7 189.4,111.8 186.9,111.9 184.4,112.0 181.9,112.1 179.4,112.2 176.9,112.3 174.4,112.3 171.9,112.4 169.4,112.4 166.9,112.5 164.4,112.5 161.9,112.6 159.4,112.7 156.9,112.7 154.4,112.8 151.9,112.9 149.4,113.1 146.9,113.3 144.4,113.6 141.9,114.0 139.4,114.4 136.9,114.8 134.4,115.3 131.9,115.8 129.4,116.3 126.9,116.8 124.4,117.3 121.9,117.8 119.4,118.3 116.9,118.8 114.4,119.3 111.9,119.9 109.4,120.4 106.9,120.9 104.4,121.4 101.9,121.9 99.4,122.4 96.9,122.9 94.4,123.4 91.9,123.9 89.4,124.5 86.9,125.0 84.4,125.5 81.9,126.1 79.4,126.6 76.9,127.2 74.4,127.7 71.9,128.2 69.4,128.7 66.9,129.1 64.4,129.5 61.9,129.9 59.4,130.1 56.9,130.4 54.4,130.6 51.9,130.8 49.4,131.0 46.9,131.4 44.4,132.0 41.9,132.7 39.4,133.6 36.9,134.9 34.4,136.3Z" fill="#7a1d6d"/><path d="M34.4,136.3 36.9,133.9 39.4,131.6 41.9,130.3 44.4,129.5 46.9,128.9 49.4,128.4 51.9,128.1 54.4,127.8 56.9,127.5 59.4,127.2 61.9,126.8 64.4,126.3 66.9,125.7 69.4,125.0 71.9,124.3 74.4,123.5 76.9,122.7 79.4,121.9 81.9,121.1 84.4,120.4 86.9,119.6 89.4,118.9 91.9,118.3 94.4,117.7 96.9,117.1 99.4,116.5 101.9,116.0 104.4,115.4 106.9,114.8 109.4,114.2 111.9,113.6 114.4,113.0 116.9,112.4 119.4,111.8 121.9,111.1 124.4,110.5 126.9,109.9 129.4,109.3 131.9,108.8 134.4,108.2 136.9,107.7 139.4,107.1 141.9,106.6 144.4,106.1 146.9,105.5 149.4,105.0 151.9,104.4 154.4,103.8 156.9,103.3 159.4,102.8 161.9,102.2 164.4,101.8 166.9,101.3 169.4,100.9 171.9,100.5 174.4,100.1 176.9,99.7 179.4,99.3 181.9,99.0 184.4,98.7 186.9,98.5 189.4,98.3 191.9,98.2 194.4,98.1 196.9,98.0 199.4,98.0 201.9,98.0 204.4,97.9 205.6,97.9 205.6,110.3 204.4,110.4 201.9,110.5 199.4,110.6 196.9,110.8 194.4,110.9 191.9,111.0 189.4,111.2 186.9,111.3 184.4,111.4 181.9,111.5 179.4,111.6 176.9,111.6 174.4,111.7 171.9,111.8 169.4,111.9 166.9,111.9 164.4,112.0 161.9,112.1 159.4,112.1 156.9,112.2 154.4,112.3 151.9,112.5 149.4,112.6 146.9,112.9 144.4,113.2 141.9,113.5 139.4,114.0 136.9,114.4 134.4,114.9 131.9,115.4 129.4,115.9 126.9,116.4 124.4,116.9 121.9,117.4 119.4,118.0 116.9,118.5 114.4,119.0 111.9,119.5 109.4,120.1 106.9,120.6 104.4,121.1 101.9,121.6 99.4,122.1 96.9,122.6 94.4,123.2 91.9,123.7 89.4,124.2 86.9,124.7 84.4,125.3 81.9,125.8 79.4,126.4 76.9,126.9 74.4,127.5 71.9,128.0 69.4,128.5 66.9,128.9 64.4,129.4 61.9,129.7 59.4,130.0 56.9,130.2 54.4,130.4 51.9,130.6 49.4,130.8 46.9,131.2 44.4,131.8 41.9,132.5 39.4,133.5 36.9,134.9 34.4,136.3Z" fill="#6c186e"/><path d="M34.4,136.3 36.9,134.0 39.4,131.7 41.9,130.4 44.4,129.7 46.9,129.0 49.4,128.6 51.9,128.3 54.4,128.0 56.9,127.7 59.4,127.4 61.9,127.0 64.4,126.5 66.9,125.9 69.4,125.2 71.9,124.5 74.4,123.8 76.9,123.0 79.4,122.2 81.9,121.4 84.4,120.7 86.9,120.0 89.4,119.3 91.9,118.7 94.4,118.1 96.9,117.5 99.4,116.9 101.9,116.4 104.4,115.8 106.9,115.2 109.4,114.6 111.9,114.0 114.4,113.4 116.9,112.8 119.4,112.2 121.9,111.6 124.4,110.9 126.9,110.3 129.4,109.7 131.9,109.2 134.4,108.6 136.9,108.1 139.4,107.5 141.9,107.0 144.4,106.5 146.9,106.0 149.4,105.4 151.9,104.9 154.4,104.4 156.9,103.9 159.4,103.4 161.9,102.9 164.4,102.4 166.9,102.0 169.4,101.6 171.9,101.2 174.4,100.8 176.9,100.5 179.4,100.1 181.9,99.8 184.4,99.6 186.9,99.4 189.4,99.2 191.9,99.1 194.4,99.0 196.9,98.9 199.4,98.8 201.9,98.7 204.4,98.7 205.6,98.7 205.6,109.6 204.4,109.6 201.9,109.8 199.4,109.9 196.9,110.1 194.4,110.2 191.9,110.3 189.4,110.5 186.9,110.6 184.4,110.7 181.9,110.8 179.4,110.9 176.9,111.0 174.4,111.1 171.9,111.2 169.4,111.3 166.9,111.4 164.4,111.4 161.9,111.5 159.4,111.6 156.9,111.7 154.4,111.8 151.9,112.0 149.4,112.2 146.9,112.4 144.4,112.8 141.9,113.1 139.4,113.5 136.9,114.0 134.4,114.5 131.9,115.0 129.4,115.5 126.9,116.0 124.4,116.6 121.9,117.1 119.4,117.6 116.9,118.2 114.4,118.7 111.9,119.2 109.4,119.8 106.9,120.3 104.4,120.8 101.9,121.3 99.4,121.9 96.9,122.4 94.4,122.9 91.9,123.4 89.4,123.9 86.9,124.5 84.4,125.0 81.9,125.6 79.4,126.1 76.9,126.7 74.4,127.3 71.9,127.8 69.4,128.3 66.9,128.7 64.4,129.2 61.9,129.5 59.4,129.8 56.9,130.1 54.4,130.3 51.9,130.5 49.4,130.7 46.9,131.1 44.4,131.7 41.9,132.4 39.4,133.4 36.9,134.8 34.4,136.3Z" fill="#5c136e"/><path d="M34.4,136.3 36.9,134.0 39.4,131.8 41.9,130.6 44.4,129.8 46.9,129.1 49.4,128.7 51.9,128.4 54.4,128.2 56.9,127.9 59.4,127.5 61.9,127.1 64.4,126.7 66.9,126.1 69.4,125.5 71.9,124.8 74.4,124.1 76.9,123.3 79.4,122.5 81.9,121.8 84.4,121.0 86.9,120.3 89.4,119.7 91.9,119.0 94.4,118.4 96.9,117.9 99.4,117.3 101.9,116.8 104.4,116.2 106.9,115.6 109.4,115.0 111.9,114.4 114.4,113.8 116.9,113.2 119.4,112.6 121.9,112.0 124.4,111.3 126.9,110.7 129.4,110.2 131.9,109.6 134.4,109.0 136.9,108.5 139.4,108.0 141.9,107.4 144.4,106.9 146.9,106.4 149.4,105.9 151.9,105.4 154.4,104.9 156.9,104.4 159.4,104.0 161.9,103.5 164.4,103.1 166.9,102.7 169.4,102.4 171.9,102.0 174.4,101.6 176.9,101.3 179.4,101.0 181.9,100.7 184.4,100.4 186.9,100.2 189.4,100.0 191.9,99.9 194.4,99.8 196.9,99.7 199.4,99.6 201.9,99.5 204.4,99.5 205.6,99.4 205.6,108.9 204.4,108.9 201.9,109.1 199.4,109.2 196.9,109.4 194.4,109.5 191.9,109.6 189.4,109.8 186.9,109.9 184.4,110.0 181.9,110.1 179.4,110.3 176.9,110.4 174.4,110.5 171.9,110.6 169.4,110.7 166.9,110.8 164.4,110.9 161.9,111.0 159.4,111.1 156.9,111.2 154.4,111.4 151.9,111.5 149.4,111.7 146.9,112.0 144.4,112.3 141.9,112.7 139.4,113.1 136.9,113.6 134.4,114.1 131.9,114.6 129.4,115.1 126.9,115.7 124.4,116.2 121.9,116.7 119.4,117.3 116.9,117.8 114.4,118.4 111.9,118.9 109.4,119.5 106.9,120.0 104.4,120.5 101.9,121.1 99.4,121.6 96.9,122.1 94.4,122.6 91.9,123.1 89.4,123.7 86.9,124.2 84.4,124.8 81.9,125.3 79.4,125.9 76.9,126.5 74.4,127.0 71.9,127.6 69.4,128.1 66.9,128.5 64.4,129.0 61.9,129.3 59.4,129.6 56.9,129.9 54.4,130.1 51.9,130.3 49.4,130.6 46.9,130.9 44.4,131.6 41.9,132.3 39.4,133.3 36.9,134.8 34.4,136.3Z" fill="#4b116c"/><path d="M34.4,136.3 36.9,134.1 39.4,131.9 41.9,130.7 44.4,130.0 46.9,129.3 49.4,128.9 51.9,128.6 54.4,128.3 56.9,128.0 59.4,127.7 61.9,127.3 64.4,126.9 66.9,126.3 69.4,125.7 71.9,125.0 74.4,124.3 76.9,123.6 79.4,122.8 81.9,122.1 84.4,121.4 86.9,120.7 89.4,120.0 91.9,119.4 94.4,118.8 96.9,118.3 99.4,117.7 101.9,117.2 104.4,116.6 106.9,116.0 109.4,115.4 111.9,114.8 114.4,114.2 116.9,113.6 119.4,113.0 121.9,112.4 124.4,111.8 126.9,111.1 129.4,110.6 131.9,110.0 134.4,109.4 136.9,108.9 139.4,108.4 141.9,107.9 144.4,107.4 146.9,106.9 149.4,106.4 151.9,105.9 154.4,105.4 156.9,105.0 159.4,104.6 161.9,104.2 164.4,103.8 166.9,103.4 169.4,103.1 171.9,102.7 174.4,102.4 176.9,102.1 179.4,101.8 181.9,101.5 184.4,101.3 186.9,101.1 189.4,100.9 191.9,100.8 194.4,100.6 196.9,100.5 199.4,100.4 201.9,100.3 204.4,100.3 205.6,100.2 205.6,108.1 204.4,108.2 201.9,108.4 199.4,108.5 196.9,108.7 194.4,108.8 191.9,108.9 189.4,109.1 186.9,109.2 184.4,109.4 181.9,109.5 179.4,109.6 176.9,109.7 174.4,109.9 171.9,110.0 169.4,110.1 166.9,110.2 164.4,110.3 161.9,110.4 159.4,110.6 156.9,110.7 154.4,110.9 151.9,111.1 149.4,111.3 146.9,111.6 144.4,111.9 141.9,112.3 139.4,112.7 136.9,113.2 134.4,113.7 131.9,114.2 129.4,114.7 126.9,115.3 124.4,115.8 121.9,116.4 119.4,116.9 116.9,117.5 114.4,118.1 111.9,118.6 109.4,119.2 106.9,119.7 104.4,120.3 101.9,120.8 99.4,121.3 96.9,121.8 94.4,122.4 91.9,122.9 89.4,123.4 86.9,124.0 84.4,124.5 81.9,125.1 79.4,125.7 76.9,126.2 74.4,126.8 71.9,127.4 69.4,127.9 66.9,128.4 64.4,128.8 61.9,129.2 59.4,129.5 56.9,129.7 54.4,130.0 51.9,130.2 49.4,130.4 46.9,130.8 44.4,131.4 41.9,132.1 39.4,133.1 36.9,134.7 34.4,136.3Z" fill="#3e1169"/><path d="M34.4,136.3 36.9,134.1 39.4,132.1 41.9,130.9 44.4,130.1 46.9,129.4 49.4,129.0 51.9,128.7 54.4,128.5 56.9,128.2 59.4,127.9 61.9,127.5 64.4,127.0 66.9,126.5 69.4,125.9 71.9,125.2 74.4,124.6 76.9,123.8 79.4,123.1 81.9,122.4 84.4,121.7 86.9,121.0 89.4,120.4 91.9,119.8 94.4,119.2 96.9,118.7 99.4,118.1 101.9,117.6 104.4,117.0 106.9,116.4 109.4,115.8 111.9,115.2 114.4,114.6 116.9,114.0 119.4,113.4 121.9,112.8 124.4,112.2 126.9,111.6 129.4,111.0 131.9,110.4 134.4,109.8 136.9,109.3 139.4,108.8 141.9,108.3 144.4,107.8 146.9,107.3 149.4,106.9 151.9,106.4 154.4,106.0 156.9,105.6 159.4,105.2 161.9,104.8 164.4,104.5 166.9,104.1 169.4,103.8 171.9,103.5 174.4,103.2 176.9,102.9 179.4,102.6 181.9,102.4 184.4,102.1 186.9,101.9 189.4,101.8 191.9,101.6 194.4,101.5 196.9,101.4 199.4,101.2 201.9,101.1 204.4,101.0 205.6,101.0 205.6,107.4 204.4,107.5 201.9,107.6 199.4,107.8 196.9,107.9 194.4,108.1 191.9,108.3 189.4,108.4 186.9,108.5 184.4,108.7 181.9,108.8 179.4,109.0 176.9,109.1 174.4,109.2 171.9,109.4 169.4,109.5 166.9,109.6 164.4,109.8 161.9,109.9 159.4,110.1 156.9,110.2 154.4,110.4 151.9,110.6 149.4,110.8 146.9,111.1 144.4,111.5 141.9,111.9 139.4,112.3 136.9,112.8 134.4,113.3 131.9,113.8 129.4,114.3 126.9,114.9 124.4,115.5 121.9,116.0 119.4,116.6 116.9,117.2 114.4,117.7 111.9,118.3 109.4,118.9 106.9,119.4 104.4,120.0 101.9,120.5 99.4,121.0 96.9,121.6 94.4,122.1 91.9,122.6 89.4,123.2 86.9,123.7 84.4,124.3 81.9,124.8 79.4,125.4 76.9,126.0 74.4,126.6 71.9,127.2 69.4,127.7 66.9,128.2 64.4,128.6 61.9,129.0 59.4,129.3 56.9,129.6 54.4,129.8 51.9,130.0 49.4,130.3 46.9,130.6 44.4,131.3 41.9,132.0 39.4,133.0 36.9,134.6 34.4,136.3Z" fill="#351464"/><path d="M34.4,136.3 36.9,134.2 39.4,132.2 41.9,131.0 44.4,130.3 46.9,129.6 49.4,129.1 51.9,128.9 54.4,128.6 56.9,128.3 59.4,128.0 61.9,127.7 64.4,127.2 66.9,126.7 69.4,126.1 71.9,125.5 74.4,124.8 76.9,124.1 79.4,123.4 81.9,122.7 84.4,122.0 86.9,121.4 89.4,120.8 91.9,120.2 94.4,119.6 96.9,119.1 99.4,118.5 101.9,118.0 104.4,117.4 106.9,116.8 109.4,116.2 111.9,115.6 114.4,115.0 116.9,114.4 119.4,113.8 121.9,113.2 124.4,112.6 126.9,112.0 129.4,111.4 131.9,110.8 134.4,110.2 136.9,109.7 139.4,109.2 141.9,108.7 144.4,108.2 146.9,107.8 149.4,107.3 151.9,106.9 154.4,106.5 156.9,106.2 159.4,105.8 161.9,105.5 164.4,105.1 166.9,104.8 169.4,104.6 171.9,104.3 174.4,104.0 176.9,103.7 179.4,103.5 181.9,103.2 184.4,103.0 186.9,102.8 189.4,102.6 191.9,102.5 194.4,102.3 196.9,102.2 199.4,102.1 201.9,101.9 204.4,101.8 205.6,101.7 205.6,106.7 204.4,106.8 201.9,106.9 199.4,107.1 196.9,107.2 194.4,107.4 191.9,107.6 189.4,107.7 186.9,107.9 184.4,108.0 181.9,108.2 179.4,108.3 176.9,108.5 174.4,108.6 171.9,108.8 169.4,108.9 166.9,109.1 164.4,109.2 161.9,109.4 159.4,109.5 156.9,109.7 154.4,109.9 151.9,110.1 149.4,110.4 146.9,110.7 144.4,111.0 141.9,111.5 139.4,111.9 136.9,112.4 134.4,112.9 131.9,113.4 129.4,114.0 126.9,114.5 124.4,115.1 121.9,115.7 119.4,116.3 116.9,116.8 114.4,117.4 111.9,118.0 109.4,118.6 106.9,119.1 104.4,119.7 101.9,120.2 99.4,120.8 96.9,121.3 94.4,121.8 91.9,122.3 89.4,122.9 86.9,123.4 84.4,124.0 81.9,124.6 79.4,125.2 76.9,125.8 74.4,126.4 71.9,126.9 69.4,127.5 66.9,128.0 64.4,128.4 61.9,128.8 59.4,129.1 56.9,129.4 54.4,129.7 51.9,129.9 49.4,130.1 46.9,130.5 44.4,131.2 41.9,131.9 39.4,132.9 36.9,134.6 34.4,136.3Z" fill="#321861"/><path d="M34.4,136.3 36.9,134.3 39.4,132.3 41.9,131.1 44.4,130.4 46.9,129.7 49.4,129.3 51.9,129.0 54.4,128.8 56.9,128.5 59.4,128.2 61.9,127.8 64.4,127.4 66.9,126.9 69.4,126.3 71.9,125.7 74.4,125.1 76.9,124.4 79.4,123.7 81.9,123.0 84.4,122.4 86.9,121.8 89.4,121.2 91.9,120.6 94.4,120.0 96.9,119.5 99.4,118.9 101.9,118.4 104.4,117.8 106.9,117.2 109.4,116.6 111.9,116.0 114.4,115.4 116.9,114.8 119.4,114.2 121.9,113.6 124.4,113.0 126.9,112.4 129.4,111.8 131.9,111.2 134.4,110.6 136.9,110.1 139.4,109.6 141.9,109.1 144.4,108.7 146.9,108.2 149.4,107.8 151.9,107.4 154.4,107.1 156.9,106.7 159.4,106.4 161.9,106.1 164.4,105.8 166.9,105.6 169.4,105.3 171.9,105.0 174.4,104.8 176.9,104.5 179.4,104.3 181.9,104.1 184.4,103.8 186.9,103.7 189.4,103.5 191.9,103.3 194.4,103.2 196.9,103.0 199.4,102.9 201.9,102.7 204.4,102.6 205.6,102.5 205.6,106.0 204.4,106.0 201.9,106.2 199.4,106.4 196.9,106.5 194.4,106.7 191.9,106.9 189.4,107.0 186.9,107.2 184.4,107.4 181.9,107.5 179.4,107.7 176.9,107.8 174.4,108.0 171.9,108.2 169.4,108.3 166.9,108.5 164.4,108.7 161.9,108.8 159.4,109.0 156.9,109.2 154.4,109.4 151.9,109.7 149.4,109.9 146.9,110.3 144.4,110.6 141.9,111.0 139.4,111.5 136.9,112.0 134.4,112.5 131.9,113.0 129.4,113.6 126.9,114.2 124.4,114.7 121.9,115.3 119.4,115.9 116.9,116.5 114.4,117.1 111.9,117.7 109.4,118.3 106.9,118.8 104.4,119.4 101.9,119.9 99.4,120.5 96.9,121.0 94.4,121.5 91.9,122.1 89.4,122.6 86.9,123.2 84.4,123.8 81.9,124.3 79.4,124.9 76.9,125.5 74.4,126.2 71.9,126.7 69.4,127.3 66.9,127.8 64.4,128.3 61.9,128.7 59.4,129.0 56.9,129.3 54.4,129.5 51.9,129.7 49.4,130.0 46.9,130.4 44.4,131.0 41.9,131.8 39.4,132.8 36.9,134.5 34.4,136.3Z" fill="#2e185b"/><path d="M34.4,136.3 36.9,134.3 39.4,132.4 41.9,131.3 44.4,130.5 46.9,129.8 49.4,129.4 51.9,129.1 54.4,128.9 56.9,128.6 59.4,128.3 61.9,128.0 64.4,127.6 66.9,127.0 69.4,126.5 71.9,125.9 74.4,125.3 76.9,124.6 79.4,123.9 81.9,123.3 84.4,122.7 86.9,122.0 89.4,121.5 91.9,120.9 94.4,120.3 96.9,119.8 99.4,119.2 101.9,118.7 104.4,118.1 106.9,117.6 109.4,117.0 111.9,116.4 114.4,115.8 116.9,115.1 119.4,114.5 121.9,113.9 124.4,113.3 126.9,112.7 129.4,112.1 131.9,111.5 134.4,111.0 136.9,110.4 139.4,109.9 141.9,109.4 144.4,109.0 146.9,108.6 149.4,108.2 151.9,107.8 154.4,107.5 156.9,107.2 159.4,106.9 161.9,106.6 164.4,106.4 166.9,106.1 169.4,105.9 171.9,105.6 174.4,105.4 176.9,105.2 179.4,104.9 181.9,104.7 184.4,104.5 186.9,104.3 189.4,104.2 191.9,104.0 194.4,103.8 196.9,103.7 199.4,103.5 201.9,103.4 204.4,103.2 205.6,103.1 205.6,105.4 204.4,105.5 201.9,105.6 199.4,105.8 196.9,106.0 194.4,106.1 191.9,106.3 189.4,106.5 186.9,106.6 184.4,106.8 181.9,107.0 179.4,107.2 176.9,107.3 174.4,107.5 171.9,107.7 169.4,107.9 166.9,108.0 164.4,108.2 161.9,108.4 159.4,108.6 156.9,108.8 154.4,109.0 151.9,109.3 149.4,109.6 146.9,109.9 144.4,110.3 141.9,110.7 139.4,111.2 136.9,111.6 134.4,112.2 131.9,112.7 129.4,113.3 126.9,113.9 124.4,114.4 121.9,115.0 119.4,115.6 116.9,116.2 114.4,116.8 111.9,117.4 109.4,118.0 106.9,118.6 104.4,119.2 101.9,119.7 99.4,120.3 96.9,120.8 94.4,121.3 91.9,121.9 89.4,122.4 86.9,123.0 84.4,123.5 81.9,124.1 79.4,124.7 76.9,125.4 74.4,126.0 71.9,126.6 69.4,127.1 66.9,127.6 64.4,128.1 61.9,128.5 59.4,128.8 56.9,129.1 54.4,129.4 51.9,129.6 49.4,129.8 46.9,130.3 44.4,130.9 41.9,131.7 39.4,132.7 36.9,134.5 34.4,136.3Z" fill="#2b1754"/><path d="M34.4,136.3 36.9,134.4 39.4,132.5 41.9,131.4 44.4,130.6 46.9,129.9 49.4,129.5 51.9,129.3 54.4,129.0 56.9,128.8 59.4,128.5 61.9,128.1 64.4,127.7 66.9,127.2 69.4,126.7 71.9,126.1 74.4,125.5 76.9,124.8 79.4,124.2 81.9,123.5 84.4,122.9 86.9,122.3 89.4,121.7 91.9,121.2 94.4,120.6 96.9,120.1 99.4,119.5 101.9,119.0 104.4,118.4 106.9,117.9 109.4,117.3 111.9,116.7 114.4,116.1 116.9,115.4 119.4,114.8 121.9,114.2 124.4,113.6 126.9,113.0 129.4,112.4 131.9,111.8 134.4,111.3 136.9,110.7 139.4,110.2 141.9,109.8 144.4,109.3 146.9,108.9 149.4,108.5 151.9,108.2 154.4,107.9 156.9,107.6 159.4,107.4 161.9,107.1 164.4,106.9 166.9,106.6 169.4,106.4 171.9,106.2 174.4,106.0 176.9,105.8 179.4,105.6 181.9,105.4 184.4,105.2 186.9,105.0 189.4,104.8 191.9,104.6 194.4,104.5 196.9,104.3 199.4,104.1 201.9,104.0 204.4,103.8 205.6,103.7 205.6,104.8 204.4,104.9 201.9,105.1 199.4,105.3 196.9,105.4 194.4,105.6 191.9,105.8 189.4,106.0 186.9,106.1 184.4,106.3 181.9,106.5 179.4,106.7 176.9,106.9 174.4,107.0 171.9,107.2 169.4,107.4 166.9,107.6 164.4,107.8 161.9,108.0 159.4,108.2 156.9,108.4 154.4,108.7 151.9,108.9 149.4,109.2 146.9,109.6 144.4,110.0 141.9,110.4 139.4,110.8 136.9,111.3 134.4,111.9 131.9,112.4 129.4,113.0 126.9,113.6 124.4,114.2 121.9,114.8 119.4,115.4 116.9,116.0 114.4,116.6 111.9,117.2 109.4,117.8 106.9,118.4 104.4,119.0 101.9,119.5 99.4,120.1 96.9,120.6 94.4,121.1 91.9,121.7 89.4,122.2 86.9,122.8 84.4,123.4 81.9,124.0 79.4,124.6 76.9,125.2 74.4,125.8 71.9,126.4 69.4,127.0 66.9,127.5 64.4,128.0 61.9,128.4 59.4,128.7 56.9,129.0 54.4,129.3 51.9,129.5 49.4,129.7 46.9,130.1 44.4,130.8 41.9,131.6 39.4,132.7 36.9,134.5 34.4,136.3Z" fill="#29154f"/></g>
<path d="M34.4,136.3 36.9,134.4 39.4,132.6 41.9,131.5 44.4,130.7 46.9,130.0 49.4,129.6 51.9,129.4 54.4,129.1 56.9,128.9 59.4,128.6 61.9,128.3 64.4,127.8 66.9,127.3 69.4,126.8 71.9,126.2 74.4,125.6 76.9,125.0 79.4,124.4 81.9,123.8 84.4,123.2 86.9,122.6 89.4,122.0 91.9,121.5 94.4,120.9 96.9,120.4 99.4,119.8 101.9,119.3 104.4,118.7 106.9,118.2 109.4,117.6 111.9,117.0 114.4,116.4 116.9,115.8 119.4,115.1 121.9,114.5 124.4,113.9 126.9,113.3 129.4,112.7 131.9,112.1 134.4,111.6 136.9,111.0 139.4,110.5 141.9,110.1 144.4,109.6 146.9,109.3 149.4,108.9 151.9,108.6 154.4,108.3 156.9,108.1 159.4,107.8 161.9,107.6 164.4,107.4 166.9,107.2 169.4,107.0 171.9,106.8 174.4,106.6 176.9,106.4 179.4,106.2 181.9,106.0 184.4,105.8 186.9,105.6 189.4,105.4 191.9,105.3 194.4,105.1 196.9,104.9 199.4,104.7 201.9,104.6 204.4,104.4 205.6,104.3" fill="none" stroke="#0a0614" stroke-width="2.6"/>
<path d="M34.4,136.3 36.9,134.4 39.4,132.6 41.9,131.5 44.4,130.7 46.9,130.0 49.4,129.6 51.9,129.4 54.4,129.1 56.9,128.9 59.4,128.6 61.9,128.3 64.4,127.8 66.9,127.3 69.4,126.8 71.9,126.2 74.4,125.6 76.9,125.0 79.4,124.4 81.9,123.8 84.4,123.2 86.9,122.6 89.4,122.0 91.9,121.5 94.4,120.9 96.9,120.4 99.4,119.8 101.9,119.3 104.4,118.7 106.9,118.2 109.4,117.6 111.9,117.0 114.4,116.4 116.9,115.8 119.4,115.1 121.9,114.5 124.4,113.9 126.9,113.3 129.4,112.7 131.9,112.1 134.4,111.6 136.9,111.0 139.4,110.5 141.9,110.1 144.4,109.6 146.9,109.3 149.4,108.9 151.9,108.6 154.4,108.3 156.9,108.1 159.4,107.8 161.9,107.6 164.4,107.4 166.9,107.2 169.4,107.0 171.9,106.8 174.4,106.6 176.9,106.4 179.4,106.2 181.9,106.0 184.4,105.8 186.9,105.6 189.4,105.4 191.9,105.3 194.4,105.1 196.9,104.9 199.4,104.7 201.9,104.6 204.4,104.4 205.6,104.3" fill="none" stroke="#9e2619" stroke-width="1.0"/>
</g>
<line x1="34.4" y1="136.3" x2="205.6" y2="136.3" stroke="#cfcfcf" stroke-width="1"/>
<rect x="34.4" y="22.7" width="171.2" height="170.9" fill="none" stroke="#444" stroke-width="1.3"/>
<line x1="30.9" y1="22.6" x2="34.4" y2="22.6" stroke="#333" stroke-width="1"/>
<text x="28.4" y="24.9" font-size="8.8" text-anchor="end" font-weight="normal" fill="#111">6</text>
<line x1="30.9" y1="60.5" x2="34.4" y2="60.5" stroke="#333" stroke-width="1"/>
<text x="28.4" y="62.8" font-size="8.8" text-anchor="end" font-weight="normal" fill="#111">4</text>
<line x1="30.9" y1="98.4" x2="34.4" y2="98.4" stroke="#333" stroke-width="1"/>
<text x="28.4" y="100.7" font-size="8.8" text-anchor="end" font-weight="normal" fill="#111">2</text>
<line x1="30.9" y1="136.3" x2="34.4" y2="136.3" stroke="#333" stroke-width="1"/>
<text x="28.4" y="138.6" font-size="8.8" text-anchor="end" font-weight="normal" fill="#111">0</text>
<line x1="30.9" y1="174.2" x2="34.4" y2="174.2" stroke="#333" stroke-width="1"/>
<text x="28.4" y="176.5" font-size="8.8" text-anchor="end" font-weight="normal" fill="#111">2</text>
<line x1="40.1" y1="193.6" x2="40.1" y2="197.1" stroke="#333" stroke-width="1"/>
<text x="40.1" y="207.2" font-size="8.8" text-anchor="middle" font-weight="normal" fill="#111">1960</text>
<line x1="89.2" y1="193.6" x2="89.2" y2="197.1" stroke="#333" stroke-width="1"/>
<text x="89.2" y="207.2" font-size="8.8" text-anchor="middle" font-weight="normal" fill="#111">2000</text>
<line x1="138.2" y1="193.6" x2="138.2" y2="197.1" stroke="#333" stroke-width="1"/>
<text x="138.2" y="207.2" font-size="8.8" text-anchor="middle" font-weight="normal" fill="#111">2040</text>
<line x1="187.3" y1="193.6" x2="187.3" y2="197.1" stroke="#333" stroke-width="1"/>
<text x="187.3" y="207.2" font-size="8.8" text-anchor="middle" font-weight="normal" fill="#111">2080</text>
<text x="120.0" y="220.9" font-size="9" text-anchor="middle" font-weight="normal" fill="#111">Year</text>
<text x="10.9" y="108.2" font-size="8.6" text-anchor="middle" font-weight="normal" fill="#111" transform="rotate(-90 10.9 108.2)">Cumulative climate change index</text>
<text x="16.0" y="11.8" font-size="10" text-anchor="start" font-weight="bold" fill="#000">a</text>
<g clip-path="url(#clipb)">
<path d="M245.6,136.3 248.1,115.8 250.6,111.6 253.1,110.3 255.6,109.6 258.1,109.4 260.6,109.2 263.1,109.1 265.6,108.9 268.1,108.8 270.6,108.6 273.1,108.4 275.6,108.2 278.1,108.1 280.6,107.8 283.1,107.2 285.6,106.1 288.1,104.4 290.6,102.7 293.1,100.9 295.6,99.1 298.1,97.3 300.6,95.6 303.1,94.0 305.6,92.4 308.1,90.9 310.6,89.4 313.1,87.9 315.6,86.5 318.1,85.1 320.6,83.7 323.1,82.2 325.6,80.8 328.1,79.4 330.6,78.0 333.1,76.6 335.6,75.3 338.1,74.1 340.6,73.1 343.1,72.2 345.6,71.2 348.1,70.2 350.6,69.3 353.1,68.3 355.6,67.4 358.1,66.5 360.6,65.7 363.1,64.9 365.6,64.1 368.1,63.3 370.6,62.5 373.1,61.7 375.6,61.1 378.1,60.7 380.6,59.9 383.1,59.0 385.6,57.9 388.1,56.8 390.6,55.7 393.1,54.6 395.6,53.6 398.1,52.9 400.6,52.3 403.1,52.0 405.6,51.6 408.1,51.2 410.6,50.9 413.1,50.5 415.6,50.2 416.8,50.0 416.8,128.8 415.6,128.9 413.1,129.2 410.6,129.5 408.1,129.7 405.6,130.0 403.1,130.3 400.6,130.5 398.1,130.7 395.6,130.9 393.1,131.0 390.6,131.0 388.1,131.1 385.6,131.1 383.1,131.2 380.6,131.2 378.1,131.3 375.6,131.3 373.1,131.4 370.6,131.4 368.1,131.5 365.6,131.5 363.1,131.6 360.6,131.6 358.1,131.7 355.6,131.8 353.1,131.9 350.6,132.0 348.1,132.1 345.6,132.3 343.1,132.4 340.6,132.6 338.1,132.9 335.6,133.4 333.1,133.9 330.6,134.5 328.1,134.9 325.6,135.2 323.1,135.4 320.6,135.5 318.1,135.6 315.6,135.7 313.1,135.8 310.6,135.9 308.1,136.0 305.6,136.0 303.1,136.0 300.6,136.0 298.1,136.0 295.6,136.0 293.1,136.0 290.6,136.0 288.1,136.0 285.6,136.0 283.1,136.0 280.6,136.0 278.1,136.0 275.6,136.0 273.1,136.0 270.6,136.0 268.1,136.0 265.6,136.0 263.1,136.0 260.6,136.0 258.1,136.0 255.6,136.0 253.1,136.0 250.6,136.0 248.1,136.2 245.6,136.3Z" fill="#f3eda3"/>
<g filter="url(#blur)"><path d="M245.6,136.3 248.1,122.4 250.6,118.1 253.1,116.4 255.6,115.6 258.1,115.1 260.6,114.8 263.1,114.6 265.6,114.5 268.1,114.3 270.6,114.0 273.1,113.7 275.6,113.3 278.1,112.8 280.6,112.3 283.1,111.5 285.6,110.4 288.1,109.0 290.6,107.6 293.1,106.1 295.6,104.7 298.1,103.2 300.6,101.8 303.1,100.5 305.6,99.2 308.1,97.8 310.6,96.6 313.1,95.3 315.6,94.0 318.1,92.7 320.6,91.4 323.1,90.1 325.6,88.7 328.1,87.2 330.6,85.7 333.1,84.2 335.6,82.8 338.1,81.5 340.6,80.3 343.1,79.3 345.6,78.3 348.1,77.3 350.6,76.4 353.1,75.5 355.6,74.7 358.1,73.9 360.6,73.1 363.1,72.4 365.6,71.6 368.1,70.8 370.6,70.1 373.1,69.3 375.6,68.6 378.1,67.9 380.6,67.0 383.1,66.0 385.6,64.9 388.1,63.8 390.6,62.7 393.1,61.6 395.6,60.6 398.1,59.7 400.6,59.1 403.1,58.5 405.6,57.9 408.1,57.4 410.6,56.9 413.1,56.4 415.6,55.9 416.8,55.7 416.8,123.5 415.6,123.6 413.1,123.9 410.6,124.1 408.1,124.3 405.6,124.5 403.1,124.7 400.6,124.9 398.1,125.1 395.6,125.2 393.1,125.4 390.6,125.5 388.1,125.6 385.6,125.7 383.1,125.8 380.6,125.9 378.1,126.0 375.6,126.2 373.1,126.3 370.6,126.4 368.1,126.5 365.6,126.7 363.1,126.9 360.6,127.0 358.1,127.2 355.6,127.4 353.1,127.6 350.6,127.8 348.1,128.0 345.6,128.2 343.1,128.5 340.6,128.7 338.1,129.0 335.6,129.4 333.1,129.8 330.6,130.3 328.1,130.7 325.6,131.1 323.1,131.4 320.6,131.7 318.1,131.9 315.6,132.2 313.1,132.4 310.6,132.7 308.1,132.9 305.6,133.0 303.1,133.2 300.6,133.3 298.1,133.4 295.6,133.5 293.1,133.7 290.6,133.8 288.1,133.9 285.6,134.1 283.1,134.2 280.6,134.3 278.1,134.5 275.6,134.6 273.1,134.7 270.6,134.8 268.1,134.9 265.6,135.0 263.1,135.0 260.6,135.1 258.1,135.2 255.6,135.4 253.1,135.5 250.6,135.7 248.1,136.0 245.6,136.3Z" fill="#f4e993"/><path d="M245.6,136.3 248.1,128.8 250.6,124.4 253.1,122.4 255.6,121.5 258.1,120.7 260.6,120.2 263.1,120.0 265.6,119.8 268.1,119.6 270.6,119.3 273.1,118.9 275.6,118.3 278.1,117.5 280.6,116.6 283.1,115.7 285.6,114.6 288.1,113.5 290.6,112.4 293.1,111.2 295.6,110.1 298.1,109.0 300.6,107.9 303.1,106.8 305.6,105.7 308.1,104.6 310.6,103.5 313.1,102.4 315.6,101.3 318.1,100.1 320.6,98.9 323.1,97.7 325.6,96.3 328.1,94.8 330.6,93.2 333.1,91.6 335.6,90.1 338.1,88.6 340.6,87.3 343.1,86.1 345.6,85.1 348.1,84.2 350.6,83.4 353.1,82.6 355.6,81.8 358.1,81.0 360.6,80.3 363.1,79.6 365.6,78.9 368.1,78.2 370.6,77.4 373.1,76.7 375.6,75.8 378.1,74.9 380.6,73.9 383.1,72.8 385.6,71.7 388.1,70.6 390.6,69.4 393.1,68.4 395.6,67.4 398.1,66.5 400.6,65.6 403.1,64.9 405.6,64.2 408.1,63.5 410.6,62.9 413.1,62.2 415.6,61.6 416.8,61.3 416.8,118.4 415.6,118.5 413.1,118.7 410.6,118.8 408.1,119.0 405.6,119.2 403.1,119.3 400.6,119.5 398.1,119.6 395.6,119.8 393.1,120.0 390.6,120.1 388.1,120.3 385.6,120.5 383.1,120.6 380.6,120.8 378.1,121.0 375.6,121.1 373.1,121.3 370.6,121.6 368.1,121.8 365.6,122.0 363.1,122.3 360.6,122.6 358.1,122.9 355.6,123.2 353.1,123.5 350.6,123.7 348.1,124.0 345.6,124.3 343.1,124.6 340.6,124.9 338.1,125.2 335.6,125.6 333.1,125.9 330.6,126.3 328.1,126.7 325.6,127.1 323.1,127.5 320.6,127.9 318.1,128.3 315.6,128.8 313.1,129.1 310.6,129.5 308.1,129.8 305.6,130.1 303.1,130.4 300.6,130.7 298.1,130.9 295.6,131.1 293.1,131.4 290.6,131.6 288.1,131.9 285.6,132.2 283.1,132.5 280.6,132.7 278.1,133.0 275.6,133.2 273.1,133.4 270.6,133.6 268.1,133.8 265.6,134.0 263.1,134.1 260.6,134.3 258.1,134.5 255.6,134.7 253.1,135.0 250.6,135.3 248.1,135.8 245.6,136.3Z" fill="#f5dd5f"/><path d="M245.6,136.3 248.1,129.9 250.6,125.8 253.1,123.8 255.6,122.8 258.1,122.0 260.6,121.5 263.1,121.2 265.6,121.0 268.1,120.7 270.6,120.3 273.1,119.9 275.6,119.3 278.1,118.5 280.6,117.7 283.1,116.7 285.6,115.7 288.1,114.7 290.6,113.6 293.1,112.5 295.6,111.4 298.1,110.4 300.6,109.3 303.1,108.3 305.6,107.2 308.1,106.2 310.6,105.1 313.1,104.1 315.6,103.0 318.1,101.9 320.6,100.7 323.1,99.5 325.6,98.1 328.1,96.7 330.6,95.1 333.1,93.5 335.6,91.9 338.1,90.5 340.6,89.2 343.1,88.1 345.6,87.1 348.1,86.2 350.6,85.4 353.1,84.6 355.6,83.8 358.1,83.1 360.6,82.4 363.1,81.7 365.6,81.0 368.1,80.3 370.6,79.5 373.1,78.8 375.6,77.9 378.1,77.1 380.6,76.1 383.1,75.1 385.6,74.1 388.1,73.1 390.6,72.1 393.1,71.1 395.6,70.2 398.1,69.3 400.6,68.5 403.1,67.8 405.6,67.1 408.1,66.5 410.6,65.8 413.1,65.2 415.6,64.6 416.8,64.3 416.8,116.9 415.6,117.0 413.1,117.2 410.6,117.4 408.1,117.6 405.6,117.8 403.1,118.0 400.6,118.2 398.1,118.4 395.6,118.5 393.1,118.7 390.6,118.9 388.1,119.1 385.6,119.3 383.1,119.5 380.6,119.7 378.1,119.9 375.6,120.1 373.1,120.3 370.6,120.6 368.1,120.8 365.6,121.1 363.1,121.4 360.6,121.7 358.1,122.0 355.6,122.3 353.1,122.6 350.6,123.0 348.1,123.3 345.6,123.6 343.1,123.9 340.6,124.2 338.1,124.6 335.6,124.9 333.1,125.3 330.6,125.6 328.1,126.0 325.6,126.4 323.1,126.8 320.6,127.2 318.1,127.7 315.6,128.1 313.1,128.5 310.6,128.8 308.1,129.2 305.6,129.5 303.1,129.8 300.6,130.0 298.1,130.3 295.6,130.6 293.1,130.8 290.6,131.1 288.1,131.4 285.6,131.7 283.1,132.0 280.6,132.2 278.1,132.5 275.6,132.7 273.1,133.0 270.6,133.2 268.1,133.4 265.6,133.6 263.1,133.7 260.6,133.9 258.1,134.2 255.6,134.5 253.1,134.8 250.6,135.2 248.1,135.7 245.6,136.3Z" fill="#f9cb35"/><path d="M245.6,136.3 248.1,131.0 250.6,127.1 253.1,125.1 255.6,124.2 258.1,123.3 260.6,122.8 263.1,122.5 265.6,122.1 268.1,121.8 270.6,121.4 273.1,120.9 275.6,120.3 278.1,119.5 280.6,118.7 283.1,117.8 285.6,116.8 288.1,115.8 290.6,114.8 293.1,113.8 295.6,112.8 298.1,111.8 300.6,110.8 303.1,109.8 305.6,108.8 308.1,107.8 310.6,106.8 313.1,105.8 315.6,104.7 318.1,103.7 320.6,102.5 323.1,101.3 325.6,100.0 328.1,98.5 330.6,97.0 333.1,95.4 335.6,93.8 338.1,92.4 340.6,91.1 343.1,90.0 345.6,89.0 348.1,88.2 350.6,87.4 353.1,86.6 355.6,85.9 358.1,85.2 360.6,84.4 363.1,83.7 365.6,83.0 368.1,82.3 370.6,81.6 373.1,80.9 375.6,80.1 378.1,79.2 380.6,78.4 383.1,77.5 385.6,76.6 388.1,75.6 390.6,74.7 393.1,73.8 395.6,73.0 398.1,72.2 400.6,71.4 403.1,70.7 405.6,70.1 408.1,69.4 410.6,68.8 413.1,68.2 415.6,67.5 416.8,67.3 416.8,115.4 415.6,115.5 413.1,115.7 410.6,116.0 408.1,116.2 405.6,116.4 403.1,116.6 400.6,116.8 398.1,117.1 395.6,117.3 393.1,117.5 390.6,117.7 388.1,117.9 385.6,118.2 383.1,118.4 380.6,118.6 378.1,118.8 375.6,119.1 373.1,119.3 370.6,119.6 368.1,119.9 365.6,120.2 363.1,120.5 360.6,120.8 358.1,121.2 355.6,121.5 353.1,121.8 350.6,122.2 348.1,122.5 345.6,122.9 343.1,123.2 340.6,123.5 338.1,123.9 335.6,124.2 333.1,124.6 330.6,125.0 328.1,125.4 325.6,125.8 323.1,126.2 320.6,126.6 318.1,127.0 315.6,127.4 313.1,127.8 310.6,128.1 308.1,128.5 305.6,128.8 303.1,129.1 300.6,129.4 298.1,129.7 295.6,130.0 293.1,130.3 290.6,130.6 288.1,130.9 285.6,131.2 283.1,131.5 280.6,131.7 278.1,132.0 275.6,132.3 273.1,132.5 270.6,132.7 268.1,133.0 265.6,133.2 263.1,133.4 260.6,133.6 258.1,133.8 255.6,134.2 253.1,134.5 250.6,135.0 248.1,135.6 245.6,136.3Z" fill="#fbb81d"/><path d="M245.6,136.3 248.1,132.0 250.6,128.4 253.1,126.5 255.6,125.6 258.1,124.7 260.6,124.1 263.1,123.7 265.6,123.3 268.1,122.9 270.6,122.4 273.1,121.9 275.6,121.3 278.1,120.5 280.6,119.7 283.1,118.8 285.6,117.9 288.1,117.0 290.6,116.0 293.1,115.0 295.6,114.1 298.1,113.1 300.6,112.2 303.1,111.3 305.6,110.4 308.1,109.4 310.6,108.5 313.1,107.5 315.6,106.5 318.1,105.4 320.6,104.3 323.1,103.1 325.6,101.8 328.1,100.4 330.6,98.8 333.1,97.2 335.6,95.7 338.1,94.3 340.6,93.0 343.1,91.9 345.6,91.0 348.1,90.1 350.6,89.4 353.1,88.6 355.6,87.9 358.1,87.2 360.6,86.5 363.1,85.8 365.6,85.1 368.1,84.4 370.6,83.7 373.1,83.0 375.6,82.2 378.1,81.4 380.6,80.6 383.1,79.8 385.6,79.0 388.1,78.2 390.6,77.4 393.1,76.6 395.6,75.8 398.1,75.0 400.6,74.3 403.1,73.7 405.6,73.0 408.1,72.4 410.6,71.7 413.1,71.1 415.6,70.5 416.8,70.2 416.8,113.9 415.6,114.0 413.1,114.3 410.6,114.5 408.1,114.8 405.6,115.0 403.1,115.3 400.6,115.5 398.1,115.8 395.6,116.0 393.1,116.3 390.6,116.5 388.1,116.8 385.6,117.0 383.1,117.3 380.6,117.5 378.1,117.8 375.6,118.1 373.1,118.3 370.6,118.6 368.1,118.9 365.6,119.3 363.1,119.6 360.6,119.9 358.1,120.3 355.6,120.7 353.1,121.0 350.6,121.4 348.1,121.7 345.6,122.1 343.1,122.5 340.6,122.8 338.1,123.2 335.6,123.6 333.1,123.9 330.6,124.3 328.1,124.7 325.6,125.1 323.1,125.5 320.6,125.9 318.1,126.3 315.6,126.7 313.1,127.1 310.6,127.5 308.1,127.8 305.6,128.2 303.1,128.5 300.6,128.8 298.1,129.1 295.6,129.5 293.1,129.8 290.6,130.1 288.1,130.4 285.6,130.7 283.1,131.0 280.6,131.2 278.1,131.5 275.6,131.8 273.1,132.0 270.6,132.3 268.1,132.5 265.6,132.8 263.1,133.0 260.6,133.2 258.1,133.5 255.6,133.9 253.1,134.3 250.6,134.8 248.1,135.6 245.6,136.3Z" fill="#fca60c"/><path d="M245.6,136.3 248.1,132.7 250.6,129.3 253.1,127.4 255.6,126.5 258.1,125.6 260.6,125.0 263.1,124.6 265.6,124.2 268.1,123.7 270.6,123.2 273.1,122.7 275.6,122.0 278.1,121.3 280.6,120.5 283.1,119.7 285.6,118.8 288.1,117.9 290.6,116.9 293.1,116.0 295.6,115.1 298.1,114.2 300.6,113.3 303.1,112.5 305.6,111.6 308.1,110.7 310.6,109.7 313.1,108.8 315.6,107.8 318.1,106.8 320.6,105.7 323.1,104.5 325.6,103.3 328.1,101.8 330.6,100.3 333.1,98.8 335.6,97.3 338.1,95.9 340.6,94.7 343.1,93.6 345.6,92.6 348.1,91.8 350.6,91.0 353.1,90.3 355.6,89.5 358.1,88.8 360.6,88.1 363.1,87.4 365.6,86.6 368.1,85.9 370.6,85.2 373.1,84.5 375.6,83.8 378.1,83.1 380.6,82.3 383.1,81.6 385.6,80.9 388.1,80.1 390.6,79.4 393.1,78.7 395.6,78.0 398.1,77.3 400.6,76.6 403.1,76.0 405.6,75.4 408.1,74.8 410.6,74.2 413.1,73.6 415.6,73.0 416.8,72.7 416.8,112.7 415.6,112.8 413.1,113.1 410.6,113.4 408.1,113.7 405.6,113.9 403.1,114.2 400.6,114.5 398.1,114.7 395.6,115.0 393.1,115.3 390.6,115.6 388.1,115.8 385.6,116.1 383.1,116.4 380.6,116.6 378.1,116.9 375.6,117.2 373.1,117.5 370.6,117.8 368.1,118.2 365.6,118.5 363.1,118.9 360.6,119.2 358.1,119.6 355.6,120.0 353.1,120.4 350.6,120.7 348.1,121.1 345.6,121.5 343.1,121.9 340.6,122.3 338.1,122.6 335.6,123.0 333.1,123.4 330.6,123.8 328.1,124.2 325.6,124.6 323.1,125.0 320.6,125.4 318.1,125.8 315.6,126.1 313.1,126.5 310.6,126.9 308.1,127.3 305.6,127.6 303.1,128.0 300.6,128.3 298.1,128.7 295.6,129.0 293.1,129.3 290.6,129.7 288.1,130.0 285.6,130.3 283.1,130.6 280.6,130.9 278.1,131.2 275.6,131.4 273.1,131.7 270.6,132.0 268.1,132.2 265.6,132.5 263.1,132.7 260.6,132.9 258.1,133.3 255.6,133.7 253.1,134.1 250.6,134.7 248.1,135.5 245.6,136.3Z" fill="#fb9606"/><path d="M245.6,136.3 248.1,132.8 250.6,129.5 253.1,127.7 255.6,126.8 258.1,126.0 260.6,125.4 263.1,125.0 265.6,124.6 268.1,124.1 270.6,123.6 273.1,123.1 275.6,122.5 278.1,121.7 280.6,121.0 283.1,120.1 285.6,119.3 288.1,118.4 290.6,117.4 293.1,116.6 295.6,115.7 298.1,114.8 300.6,114.0 303.1,113.1 305.6,112.2 308.1,111.4 310.6,110.5 313.1,109.5 315.6,108.6 318.1,107.6 320.6,106.5 323.1,105.3 325.6,104.1 328.1,102.8 330.6,101.4 333.1,99.9 335.6,98.5 338.1,97.1 340.6,95.9 343.1,94.8 345.6,93.9 348.1,93.0 350.6,92.1 353.1,91.3 355.6,90.5 358.1,89.7 360.6,88.9 363.1,88.1 365.6,87.3 368.1,86.6 370.6,85.9 373.1,85.2 375.6,84.5 378.1,83.8 380.6,83.2 383.1,82.5 385.6,81.9 388.1,81.2 390.6,80.5 393.1,79.9 395.6,79.3 398.1,78.7 400.6,78.1 403.1,77.5 405.6,76.9 408.1,76.4 410.6,75.8 413.1,75.3 415.6,74.8 416.8,74.5 416.8,112.0 415.6,112.1 413.1,112.4 410.6,112.7 408.1,113.0 405.6,113.3 403.1,113.5 400.6,113.8 398.1,114.1 395.6,114.4 393.1,114.7 390.6,114.9 388.1,115.2 385.6,115.5 383.1,115.8 380.6,116.1 378.1,116.4 375.6,116.7 373.1,117.0 370.6,117.3 368.1,117.6 365.6,118.0 363.1,118.4 360.6,118.7 358.1,119.1 355.6,119.5 353.1,119.9 350.6,120.3 348.1,120.7 345.6,121.1 343.1,121.5 340.6,121.9 338.1,122.3 335.6,122.7 333.1,123.1 330.6,123.5 328.1,123.9 325.6,124.2 323.1,124.6 320.6,125.0 318.1,125.4 315.6,125.8 313.1,126.2 310.6,126.5 308.1,126.9 305.6,127.3 303.1,127.6 300.6,128.0 298.1,128.4 295.6,128.7 293.1,129.1 290.6,129.4 288.1,129.8 285.6,130.1 283.1,130.4 280.6,130.7 278.1,131.0 275.6,131.3 273.1,131.6 270.6,131.8 268.1,132.1 265.6,132.3 263.1,132.5 260.6,132.8 258.1,133.1 255.6,133.5 253.1,134.0 250.6,134.6 248.1,135.4 245.6,136.3Z" fill="#f8850f"/><path d="M245.6,136.3 248.1,132.9 250.6,129.7 253.1,128.0 255.6,127.1 258.1,126.3 260.6,125.7 263.1,125.3 265.6,124.9 268.1,124.5 270.6,124.1 273.1,123.6 275.6,122.9 278.1,122.2 280.6,121.4 283.1,120.6 285.6,119.7 288.1,118.8 290.6,118.0 293.1,117.1 295.6,116.2 298.1,115.4 300.6,114.6 303.1,113.8 305.6,112.9 308.1,112.1 310.6,111.2 313.1,110.3 315.6,109.3 318.1,108.3 320.6,107.3 323.1,106.2 325.6,105.0 328.1,103.7 330.6,102.4 333.1,101.0 335.6,99.7 338.1,98.4 340.6,97.2 343.1,96.1 345.6,95.1 348.1,94.1 350.6,93.2 353.1,92.3 355.6,91.4 358.1,90.6 360.6,89.7 363.1,88.9 365.6,88.1 368.1,87.3 370.6,86.6 373.1,85.9 375.6,85.2 378.1,84.6 380.6,84.0 383.1,83.4 385.6,82.8 388.1,82.3 390.6,81.7 393.1,81.1 395.6,80.6 398.1,80.0 400.6,79.5 403.1,79.0 405.6,78.5 408.1,78.0 410.6,77.5 413.1,77.0 415.6,76.5 416.8,76.3 416.8,111.3 415.6,111.4 413.1,111.7 410.6,112.0 408.1,112.3 405.6,112.6 403.1,112.9 400.6,113.2 398.1,113.5 395.6,113.7 393.1,114.0 390.6,114.3 388.1,114.6 385.6,114.9 383.1,115.2 380.6,115.5 378.1,115.8 375.6,116.1 373.1,116.4 370.6,116.8 368.1,117.1 365.6,117.5 363.1,117.9 360.6,118.3 358.1,118.7 355.6,119.1 353.1,119.5 350.6,119.9 348.1,120.3 345.6,120.7 343.1,121.1 340.6,121.5 338.1,121.9 335.6,122.3 333.1,122.7 330.6,123.1 328.1,123.5 325.6,123.9 323.1,124.3 320.6,124.7 318.1,125.0 315.6,125.4 313.1,125.8 310.6,126.2 308.1,126.6 305.6,126.9 303.1,127.3 300.6,127.7 298.1,128.1 295.6,128.4 293.1,128.8 290.6,129.2 288.1,129.5 285.6,129.9 283.1,130.2 280.6,130.5 278.1,130.8 275.6,131.1 273.1,131.4 270.6,131.7 268.1,131.9 265.6,132.1 263.1,132.3 260.6,132.6 258.1,132.9 255.6,133.3 253.1,133.8 250.6,134.5 248.1,135.4 245.6,136.3Z" fill="#f3761b"/><path d="M245.6,136.3 248.1,133.1 250.6,130.0 253.1,128.3 255.6,127.4 258.1,126.6 260.6,126.1 263.1,125.7 265.6,125.3 268.1,124.9 270.6,124.5 273.1,124.0 275.6,123.4 278.1,122.7 280.6,121.9 283.1,121.1 285.6,120.2 288.1,119.3 290.6,118.5 293.1,117.6 295.6,116.8 298.1,116.0 300.6,115.2 303.1,114.4 305.6,113.6 308.1,112.8 310.6,111.9 313.1,111.0 315.6,110.1 318.1,109.1 320.6,108.0 323.1,107.0 325.6,105.8 328.1,104.6 330.6,103.4 333.1,102.1 335.6,100.8 338.1,99.6 340.6,98.4 343.1,97.3 345.6,96.3 348.1,95.3 350.6,94.3 353.1,93.3 355.6,92.4 358.1,91.4 360.6,90.5 363.1,89.6 365.6,88.8 368.1,88.0 370.6,87.2 373.1,86.6 375.6,86.0 378.1,85.4 380.6,84.9 383.1,84.3 385.6,83.8 388.1,83.3 390.6,82.8 393.1,82.3 395.6,81.9 398.1,81.4 400.6,80.9 403.1,80.5 405.6,80.0 408.1,79.6 410.6,79.2 413.1,78.7 415.6,78.3 416.8,78.1 416.8,110.6 415.6,110.7 413.1,111.0 410.6,111.3 408.1,111.6 405.6,111.9 403.1,112.2 400.6,112.5 398.1,112.8 395.6,113.1 393.1,113.4 390.6,113.7 388.1,114.0 385.6,114.3 383.1,114.6 380.6,114.9 378.1,115.2 375.6,115.5 373.1,115.9 370.6,116.2 368.1,116.6 365.6,117.0 363.1,117.4 360.6,117.8 358.1,118.2 355.6,118.6 353.1,119.0 350.6,119.5 348.1,119.9 345.6,120.3 343.1,120.7 340.6,121.2 338.1,121.6 335.6,122.0 333.1,122.4 330.6,122.8 328.1,123.2 325.6,123.6 323.1,124.0 320.6,124.3 318.1,124.7 315.6,125.1 313.1,125.4 310.6,125.8 308.1,126.2 305.6,126.6 303.1,127.0 300.6,127.4 298.1,127.8 295.6,128.2 293.1,128.5 290.6,128.9 288.1,129.3 285.6,129.7 283.1,130.0 280.6,130.4 278.1,130.7 275.6,131.0 273.1,131.3 270.6,131.5 268.1,131.7 265.6,132.0 263.1,132.2 260.6,132.4 258.1,132.7 255.6,133.2 253.1,133.7 250.6,134.4 248.1,135.3 245.6,136.3Z" fill="#ec6726"/><path d="M245.6,136.3 248.1,133.2 250.6,130.2 253.1,128.6 255.6,127.7 258.1,127.0 260.6,126.4 263.1,126.1 265.6,125.7 268.1,125.3 270.6,124.9 273.1,124.4 275.6,123.8 278.1,123.1 280.6,122.4 283.1,121.6 285.6,120.7 288.1,119.8 290.6,119.0 293.1,118.2 295.6,117.4 298.1,116.6 300.6,115.8 303.1,115.1 305.6,114.3 308.1,113.5 310.6,112.6 313.1,111.7 315.6,110.8 318.1,109.8 320.6,108.8 323.1,107.8 325.6,106.7 328.1,105.6 330.6,104.4 333.1,103.2 335.6,102.0 338.1,100.9 340.6,99.7 343.1,98.6 345.6,97.5 348.1,96.5 350.6,95.4 353.1,94.4 355.6,93.3 358.1,92.3 360.6,91.3 363.1,90.4 365.6,89.5 368.1,88.7 370.6,87.9 373.1,87.3 375.6,86.7 378.1,86.2 380.6,85.7 383.1,85.3 385.6,84.8 388.1,84.4 390.6,84.0 393.1,83.6 395.6,83.2 398.1,82.8 400.6,82.4 403.1,82.0 405.6,81.6 408.1,81.2 410.6,80.8 413.1,80.4 415.6,80.0 416.8,79.9 416.8,109.9 415.6,110.0 413.1,110.3 410.6,110.6 408.1,110.9 405.6,111.2 403.1,111.6 400.6,111.9 398.1,112.2 395.6,112.5 393.1,112.8 390.6,113.1 388.1,113.4 385.6,113.7 383.1,114.0 380.6,114.3 378.1,114.7 375.6,115.0 373.1,115.3 370.6,115.7 368.1,116.1 365.6,116.5 363.1,116.9 360.6,117.3 358.1,117.7 355.6,118.2 353.1,118.6 350.6,119.0 348.1,119.5 345.6,119.9 343.1,120.4 340.6,120.8 338.1,121.2 335.6,121.7 333.1,122.1 330.6,122.5 328.1,122.9 325.6,123.2 323.1,123.6 320.6,124.0 318.1,124.3 315.6,124.7 313.1,125.1 310.6,125.5 308.1,125.8 305.6,126.2 303.1,126.6 300.6,127.0 298.1,127.5 295.6,127.9 293.1,128.3 290.6,128.7 288.1,129.1 285.6,129.5 283.1,129.8 280.6,130.2 278.1,130.5 275.6,130.8 273.1,131.1 270.6,131.3 268.1,131.6 265.6,131.8 263.1,132.0 260.6,132.2 258.1,132.5 255.6,133.0 253.1,133.6 250.6,134.3 248.1,135.3 245.6,136.3Z" fill="#e45a31"/><path d="M245.6,136.3 248.1,133.3 250.6,130.4 253.1,128.9 255.6,128.0 258.1,127.3 260.6,126.8 263.1,126.4 265.6,126.1 268.1,125.8 270.6,125.3 273.1,124.9 275.6,124.3 278.1,123.6 280.6,122.8 283.1,122.0 285.6,121.2 288.1,120.3 290.6,119.5 293.1,118.7 295.6,117.9 298.1,117.2 300.6,116.5 303.1,115.7 305.6,115.0 308.1,114.2 310.6,113.4 313.1,112.5 315.6,111.6 318.1,110.6 320.6,109.6 323.1,108.6 325.6,107.6 328.1,106.5 330.6,105.4 333.1,104.3 335.6,103.2 338.1,102.1 340.6,101.0 343.1,99.9 345.6,98.7 348.1,97.6 350.6,96.5 353.1,95.4 355.6,94.3 358.1,93.2 360.6,92.2 363.1,91.1 365.6,90.2 368.1,89.3 370.6,88.6 373.1,88.0 375.6,87.4 378.1,86.9 380.6,86.5 383.1,86.2 385.6,85.8 388.1,85.5 390.6,85.1 393.1,84.8 395.6,84.5 398.1,84.1 400.6,83.8 403.1,83.5 405.6,83.1 408.1,82.8 410.6,82.5 413.1,82.1 415.6,81.8 416.8,81.6 416.8,109.1 415.6,109.3 413.1,109.6 410.6,109.9 408.1,110.3 405.6,110.6 403.1,110.9 400.6,111.2 398.1,111.5 395.6,111.8 393.1,112.2 390.6,112.5 388.1,112.8 385.6,113.1 383.1,113.4 380.6,113.8 378.1,114.1 375.6,114.4 373.1,114.8 370.6,115.2 368.1,115.6 365.6,116.0 363.1,116.4 360.6,116.8 358.1,117.3 355.6,117.7 353.1,118.2 350.6,118.6 348.1,119.1 345.6,119.5 343.1,120.0 340.6,120.4 338.1,120.9 335.6,121.3 333.1,121.7 330.6,122.1 328.1,122.5 325.6,122.9 323.1,123.3 320.6,123.6 318.1,124.0 315.6,124.3 313.1,124.7 310.6,125.1 308.1,125.5 305.6,125.9 303.1,126.3 300.6,126.7 298.1,127.1 295.6,127.6 293.1,128.0 290.6,128.4 288.1,128.9 285.6,129.3 283.1,129.6 280.6,130.0 278.1,130.3 275.6,130.7 273.1,130.9 270.6,131.2 268.1,131.4 265.6,131.6 263.1,131.8 260.6,132.0 258.1,132.3 255.6,132.8 253.1,133.4 250.6,134.1 248.1,135.2 245.6,136.3Z" fill="#d94d3d"/><path d="M245.6,136.3 248.1,133.4 250.6,130.6 253.1,129.1 255.6,128.3 258.1,127.5 260.6,127.0 263.1,126.7 265.6,126.4 268.1,126.0 270.6,125.6 273.1,125.2 275.6,124.6 278.1,123.9 280.6,123.2 283.1,122.4 285.6,121.5 288.1,120.7 290.6,119.9 293.1,119.1 295.6,118.3 298.1,117.6 300.6,116.9 303.1,116.1 305.6,115.4 308.1,114.6 310.6,113.8 313.1,113.0 315.6,112.1 318.1,111.1 320.6,110.2 323.1,109.2 325.6,108.2 328.1,107.1 330.6,106.1 333.1,105.0 335.6,104.0 338.1,102.9 340.6,101.8 343.1,100.6 345.6,99.5 348.1,98.4 350.6,97.3 353.1,96.2 355.6,95.1 358.1,94.0 360.6,92.9 363.1,91.9 365.6,91.0 368.1,90.1 370.6,89.4 373.1,88.7 375.6,88.2 378.1,87.7 380.6,87.3 383.1,87.0 385.6,86.6 388.1,86.3 390.6,86.0 393.1,85.6 395.6,85.3 398.1,85.0 400.6,84.7 403.1,84.3 405.6,84.0 408.1,83.7 410.6,83.4 413.1,83.1 415.6,82.7 416.8,82.6 416.8,108.6 415.6,108.7 413.1,109.0 410.6,109.4 408.1,109.7 405.6,110.0 403.1,110.3 400.6,110.6 398.1,111.0 395.6,111.3 393.1,111.6 390.6,111.9 388.1,112.3 385.6,112.6 383.1,112.9 380.6,113.2 378.1,113.6 375.6,113.9 373.1,114.3 370.6,114.6 368.1,115.0 365.6,115.5 363.1,115.9 360.6,116.4 358.1,116.8 355.6,117.3 353.1,117.8 350.6,118.2 348.1,118.7 345.6,119.2 343.1,119.6 340.6,120.1 338.1,120.6 335.6,121.0 333.1,121.4 330.6,121.9 328.1,122.3 325.6,122.7 323.1,123.0 320.6,123.4 318.1,123.7 315.6,124.1 313.1,124.5 310.6,124.8 308.1,125.2 305.6,125.6 303.1,126.1 300.6,126.5 298.1,126.9 295.6,127.3 293.1,127.8 290.6,128.2 288.1,128.6 285.6,129.1 283.1,129.5 280.6,129.8 278.1,130.2 275.6,130.5 273.1,130.8 270.6,131.0 268.1,131.3 265.6,131.5 263.1,131.6 260.6,131.8 258.1,132.2 255.6,132.7 253.1,133.3 250.6,134.1 248.1,135.2 245.6,136.3Z" fill="#ce4347"/><path d="M245.6,136.3 248.1,133.5 250.6,130.7 253.1,129.3 255.6,128.5 258.1,127.7 260.6,127.3 263.1,126.9 265.6,126.6 268.1,126.3 270.6,125.9 273.1,125.4 275.6,124.9 278.1,124.2 280.6,123.4 283.1,122.6 285.6,121.8 288.1,121.0 290.6,120.2 293.1,119.4 295.6,118.6 298.1,117.9 300.6,117.2 303.1,116.5 305.6,115.8 308.1,115.0 310.6,114.2 313.1,113.4 315.6,112.5 318.1,111.6 320.6,110.7 323.1,109.7 325.6,108.7 328.1,107.7 330.6,106.7 333.1,105.7 335.6,104.6 338.1,103.5 340.6,102.4 343.1,101.3 345.6,100.2 348.1,99.1 350.6,98.0 353.1,96.9 355.6,95.8 358.1,94.7 360.6,93.7 363.1,92.7 365.6,91.7 368.1,90.9 370.6,90.1 373.1,89.5 375.6,89.0 378.1,88.5 380.6,88.1 383.1,87.7 385.6,87.4 388.1,87.1 390.6,86.7 393.1,86.4 395.6,86.1 398.1,85.7 400.6,85.4 403.1,85.1 405.6,84.8 408.1,84.4 410.6,84.1 413.1,83.8 415.6,83.4 416.8,83.3 416.8,108.0 415.6,108.2 413.1,108.5 410.6,108.8 408.1,109.2 405.6,109.5 403.1,109.8 400.6,110.1 398.1,110.4 395.6,110.8 393.1,111.1 390.6,111.4 388.1,111.7 385.6,112.0 383.1,112.4 380.6,112.7 378.1,113.0 375.6,113.4 373.1,113.7 370.6,114.1 368.1,114.5 365.6,115.0 363.1,115.4 360.6,115.9 358.1,116.4 355.6,116.9 353.1,117.4 350.6,117.8 348.1,118.3 345.6,118.8 343.1,119.3 340.6,119.8 338.1,120.3 335.6,120.7 333.1,121.2 330.6,121.6 328.1,122.0 325.6,122.4 323.1,122.8 320.6,123.2 318.1,123.5 315.6,123.9 313.1,124.2 310.6,124.6 308.1,125.0 305.6,125.4 303.1,125.8 300.6,126.3 298.1,126.7 295.6,127.1 293.1,127.6 290.6,128.0 288.1,128.4 285.6,128.9 283.1,129.3 280.6,129.7 278.1,130.0 275.6,130.4 273.1,130.7 270.6,130.9 268.1,131.1 265.6,131.3 263.1,131.5 260.6,131.7 258.1,132.0 255.6,132.6 253.1,133.2 250.6,134.0 248.1,135.1 245.6,136.3Z" fill="#c13a50"/><path d="M245.6,136.3 248.1,133.5 250.6,130.9 253.1,129.4 255.6,128.7 258.1,127.9 260.6,127.5 263.1,127.1 265.6,126.8 268.1,126.5 270.6,126.1 273.1,125.7 275.6,125.1 278.1,124.4 280.6,123.7 283.1,122.9 285.6,122.1 288.1,121.3 290.6,120.5 293.1,119.7 295.6,118.9 298.1,118.2 300.6,117.5 303.1,116.9 305.6,116.1 308.1,115.4 310.6,114.6 313.1,113.8 315.6,113.0 318.1,112.1 320.6,111.2 323.1,110.3 325.6,109.3 328.1,108.3 330.6,107.3 333.1,106.3 335.6,105.2 338.1,104.2 340.6,103.1 343.1,102.0 345.6,100.9 348.1,99.8 350.6,98.7 353.1,97.6 355.6,96.6 358.1,95.5 360.6,94.5 363.1,93.5 365.6,92.5 368.1,91.7 370.6,90.9 373.1,90.3 375.6,89.8 378.1,89.3 380.6,88.9 383.1,88.5 385.6,88.2 388.1,87.8 390.6,87.5 393.1,87.2 395.6,86.8 398.1,86.5 400.6,86.2 403.1,85.8 405.6,85.5 408.1,85.2 410.6,84.8 413.1,84.5 415.6,84.2 416.8,84.0 416.8,107.5 415.6,107.7 413.1,108.0 410.6,108.3 408.1,108.6 405.6,108.9 403.1,109.3 400.6,109.6 398.1,109.9 395.6,110.2 393.1,110.5 390.6,110.9 388.1,111.2 385.6,111.5 383.1,111.8 380.6,112.2 378.1,112.5 375.6,112.8 373.1,113.2 370.6,113.6 368.1,114.0 365.6,114.5 363.1,115.0 360.6,115.4 358.1,115.9 355.6,116.4 353.1,116.9 350.6,117.5 348.1,118.0 345.6,118.5 343.1,119.0 340.6,119.5 338.1,120.0 335.6,120.5 333.1,120.9 330.6,121.4 328.1,121.8 325.6,122.2 323.1,122.6 320.6,122.9 318.1,123.3 315.6,123.7 313.1,124.0 310.6,124.4 308.1,124.8 305.6,125.2 303.1,125.6 300.6,126.0 298.1,126.5 295.6,126.9 293.1,127.3 290.6,127.8 288.1,128.2 285.6,128.7 283.1,129.1 280.6,129.5 278.1,129.9 275.6,130.2 273.1,130.5 270.6,130.8 268.1,131.0 265.6,131.2 263.1,131.4 260.6,131.6 258.1,131.9 255.6,132.5 253.1,133.1 250.6,133.9 248.1,135.1 245.6,136.3Z" fill="#b43359"/><path d="M245.6,136.3 248.1,133.6 250.6,131.0 253.1,129.6 255.6,128.9 258.1,128.2 260.6,127.7 263.1,127.4 265.6,127.1 268.1,126.7 270.6,126.4 273.1,125.9 275.6,125.4 278.1,124.7 280.6,124.0 283.1,123.2 285.6,122.4 288.1,121.6 290.6,120.8 293.1,120.0 295.6,119.3 298.1,118.6 300.6,117.9 303.1,117.2 305.6,116.5 308.1,115.8 310.6,115.0 313.1,114.3 315.6,113.4 318.1,112.6 320.6,111.7 323.1,110.8 325.6,109.9 328.1,108.9 330.6,107.9 333.1,106.9 335.6,105.9 338.1,104.8 340.6,103.8 343.1,102.7 345.6,101.6 348.1,100.5 350.6,99.5 353.1,98.4 355.6,97.3 358.1,96.2 360.6,95.2 363.1,94.2 365.6,93.3 368.1,92.5 370.6,91.7 373.1,91.1 375.6,90.5 378.1,90.1 380.6,89.7 383.1,89.3 385.6,88.9 388.1,88.6 390.6,88.3 393.1,87.9 395.6,87.6 398.1,87.2 400.6,86.9 403.1,86.6 405.6,86.2 408.1,85.9 410.6,85.6 413.1,85.2 415.6,84.9 416.8,84.7 416.8,107.0 415.6,107.1 413.1,107.4 410.6,107.8 408.1,108.1 405.6,108.4 403.1,108.7 400.6,109.0 398.1,109.4 395.6,109.7 393.1,110.0 390.6,110.3 388.1,110.6 385.6,111.0 383.1,111.3 380.6,111.6 378.1,112.0 375.6,112.3 373.1,112.7 370.6,113.1 368.1,113.5 365.6,114.0 363.1,114.5 360.6,115.0 358.1,115.5 355.6,116.0 353.1,116.5 350.6,117.1 348.1,117.6 345.6,118.1 343.1,118.6 340.6,119.2 338.1,119.7 335.6,120.2 333.1,120.7 330.6,121.1 328.1,121.5 325.6,121.9 323.1,122.3 320.6,122.7 318.1,123.1 315.6,123.4 313.1,123.8 310.6,124.2 308.1,124.6 305.6,125.0 303.1,125.4 300.6,125.8 298.1,126.2 295.6,126.7 293.1,127.1 290.6,127.6 288.1,128.0 285.6,128.5 283.1,128.9 280.6,129.3 278.1,129.7 275.6,130.1 273.1,130.4 270.6,130.6 268.1,130.8 265.6,131.0 263.1,131.2 260.6,131.4 258.1,131.8 255.6,132.4 253.1,133.0 250.6,133.8 248.1,135.1 245.6,136.3Z" fill="#a62d60"/><path d="M245.6,136.3 248.1,133.7 250.6,131.2 253.1,129.8 255.6,129.1 258.1,128.4 260.6,127.9 263.1,127.6 265.6,127.3 268.1,127.0 270.6,126.6 273.1,126.2 275.6,125.6 278.1,125.0 280.6,124.3 283.1,123.5 285.6,122.7 288.1,121.9 290.6,121.1 293.1,120.3 295.6,119.6 298.1,118.9 300.6,118.2 303.1,117.6 305.6,116.9 308.1,116.2 310.6,115.4 313.1,114.7 315.6,113.9 318.1,113.1 320.6,112.2 323.1,111.3 325.6,110.4 328.1,109.5 330.6,108.5 333.1,107.5 335.6,106.5 338.1,105.5 340.6,104.4 343.1,103.4 345.6,102.3 348.1,101.2 350.6,100.2 353.1,99.1 355.6,98.0 358.1,97.0 360.6,96.0 363.1,95.0 365.6,94.1 368.1,93.2 370.6,92.5 373.1,91.9 375.6,91.3 378.1,90.9 380.6,90.5 383.1,90.1 385.6,89.7 388.1,89.4 390.6,89.0 393.1,88.7 395.6,88.3 398.1,88.0 400.6,87.7 403.1,87.3 405.6,87.0 408.1,86.6 410.6,86.3 413.1,85.9 415.6,85.6 416.8,85.4 416.8,106.4 415.6,106.6 413.1,106.9 410.6,107.2 408.1,107.5 405.6,107.9 403.1,108.2 400.6,108.5 398.1,108.8 395.6,109.1 393.1,109.5 390.6,109.8 388.1,110.1 385.6,110.4 383.1,110.8 380.6,111.1 378.1,111.4 375.6,111.8 373.1,112.2 370.6,112.6 368.1,113.0 365.6,113.5 363.1,114.0 360.6,114.5 358.1,115.0 355.6,115.6 353.1,116.1 350.6,116.7 348.1,117.2 345.6,117.8 343.1,118.3 340.6,118.8 338.1,119.4 335.6,119.9 333.1,120.4 330.6,120.9 328.1,121.3 325.6,121.7 323.1,122.1 320.6,122.5 318.1,122.8 315.6,123.2 313.1,123.6 310.6,124.0 308.1,124.4 305.6,124.8 303.1,125.2 300.6,125.6 298.1,126.0 295.6,126.5 293.1,126.9 290.6,127.4 288.1,127.8 285.6,128.3 283.1,128.7 280.6,129.1 278.1,129.5 275.6,129.9 273.1,130.2 270.6,130.5 268.1,130.7 265.6,130.9 263.1,131.1 260.6,131.3 258.1,131.6 255.6,132.2 253.1,132.9 250.6,133.8 248.1,135.0 245.6,136.3Z" fill="#982766"/><path d="M245.6,136.3 248.1,133.8 250.6,131.3 253.1,130.0 255.6,129.3 258.1,128.6 260.6,128.1 263.1,127.8 265.6,127.5 268.1,127.2 270.6,126.9 273.1,126.4 275.6,125.9 278.1,125.2 280.6,124.5 283.1,123.8 285.6,123.0 288.1,122.2 290.6,121.4 293.1,120.6 295.6,119.9 298.1,119.2 300.6,118.6 303.1,117.9 305.6,117.3 308.1,116.6 310.6,115.9 313.1,115.1 315.6,114.3 318.1,113.5 320.6,112.7 323.1,111.9 325.6,111.0 328.1,110.1 330.6,109.1 333.1,108.2 335.6,107.2 338.1,106.1 340.6,105.1 343.1,104.1 345.6,103.0 348.1,102.0 350.6,100.9 353.1,99.8 355.6,98.8 358.1,97.8 360.6,96.8 363.1,95.8 365.6,94.9 368.1,94.1 370.6,93.3 373.1,92.7 375.6,92.2 378.1,91.7 380.6,91.3 383.1,90.9 385.6,90.5 388.1,90.2 390.6,89.8 393.1,89.5 395.6,89.1 398.1,88.8 400.6,88.4 403.1,88.1 405.6,87.7 408.1,87.4 410.6,87.0 413.1,86.7 415.6,86.3 416.8,86.2 416.8,105.8 415.6,105.9 413.1,106.3 410.6,106.6 408.1,106.9 405.6,107.2 403.1,107.5 400.6,107.9 398.1,108.2 395.6,108.5 393.1,108.8 390.6,109.2 388.1,109.5 385.6,109.8 383.1,110.1 380.6,110.5 378.1,110.8 375.6,111.2 373.1,111.6 370.6,112.0 368.1,112.4 365.6,112.9 363.1,113.4 360.6,114.0 358.1,114.5 355.6,115.1 353.1,115.7 350.6,116.2 348.1,116.8 345.6,117.3 343.1,117.9 340.6,118.5 338.1,119.0 335.6,119.6 333.1,120.1 330.6,120.5 328.1,121.0 325.6,121.4 323.1,121.8 320.6,122.2 318.1,122.6 315.6,123.0 313.1,123.3 310.6,123.7 308.1,124.1 305.6,124.5 303.1,124.9 300.6,125.4 298.1,125.8 295.6,126.2 293.1,126.7 290.6,127.1 288.1,127.6 285.6,128.1 283.1,128.5 280.6,129.0 278.1,129.4 275.6,129.7 273.1,130.1 270.6,130.3 268.1,130.5 265.6,130.8 263.1,130.9 260.6,131.1 258.1,131.5 255.6,132.1 253.1,132.8 250.6,133.7 248.1,135.0 245.6,136.3Z" fill="#8a226a"/><path d="M245.6,136.3 248.1,133.8 250.6,131.5 253.1,130.1 255.6,129.4 258.1,128.7 260.6,128.3 263.1,128.0 265.6,127.7 268.1,127.4 270.6,127.0 273.1,126.6 275.6,126.1 278.1,125.4 280.6,124.8 283.1,124.0 285.6,123.3 288.1,122.5 290.6,121.7 293.1,121.0 295.6,120.3 298.1,119.6 300.6,118.9 303.1,118.3 305.6,117.6 308.1,117.0 310.6,116.3 313.1,115.5 315.6,114.8 318.1,114.0 320.6,113.2 323.1,112.4 325.6,111.5 328.1,110.6 330.6,109.7 333.1,108.8 335.6,107.8 338.1,106.8 340.6,105.8 343.1,104.7 345.6,103.7 348.1,102.7 350.6,101.6 353.1,100.6 355.6,99.6 358.1,98.6 360.6,97.6 363.1,96.7 365.6,95.8 368.1,95.0 370.6,94.3 373.1,93.6 375.6,93.1 378.1,92.6 380.6,92.2 383.1,91.8 385.6,91.4 388.1,91.0 390.6,90.7 393.1,90.3 395.6,90.0 398.1,89.6 400.6,89.3 403.1,88.9 405.6,88.6 408.1,88.2 410.6,87.9 413.1,87.6 415.6,87.2 416.8,87.1 416.8,104.8 415.6,104.9 413.1,105.2 410.6,105.6 408.1,105.9 405.6,106.2 403.1,106.5 400.6,106.8 398.1,107.2 395.6,107.5 393.1,107.8 390.6,108.1 388.1,108.5 385.6,108.8 383.1,109.2 380.6,109.5 378.1,109.9 375.6,110.3 373.1,110.7 370.6,111.1 368.1,111.6 365.6,112.1 363.1,112.6 360.6,113.2 358.1,113.7 355.6,114.3 353.1,114.9 350.6,115.5 348.1,116.1 345.6,116.7 343.1,117.2 340.6,117.8 338.1,118.4 335.6,119.0 333.1,119.5 330.6,120.0 328.1,120.5 325.6,121.0 323.1,121.4 320.6,121.8 318.1,122.2 315.6,122.6 313.1,123.0 310.6,123.4 308.1,123.8 305.6,124.2 303.1,124.6 300.6,125.1 298.1,125.5 295.6,126.0 293.1,126.4 290.6,126.9 288.1,127.4 285.6,127.9 283.1,128.3 280.6,128.8 278.1,129.2 275.6,129.6 273.1,129.9 270.6,130.1 268.1,130.4 265.6,130.6 263.1,130.8 260.6,131.0 258.1,131.4 255.6,132.0 253.1,132.7 250.6,133.6 248.1,134.9 245.6,136.3Z" fill="#7a1d6d"/><path d="M245.6,136.3 248.1,133.9 250.6,131.6 253.1,130.3 255.6,129.5 258.1,128.9 260.6,128.4 263.1,128.1 265.6,127.8 268.1,127.5 270.6,127.2 273.1,126.8 275.6,126.3 278.1,125.6 280.6,125.0 283.1,124.3 285.6,123.5 288.1,122.8 290.6,122.0 293.1,121.3 295.6,120.6 298.1,119.9 300.6,119.3 303.1,118.7 305.6,118.0 308.1,117.4 310.6,116.7 313.1,116.0 315.6,115.2 318.1,114.5 320.6,113.7 323.1,112.9 325.6,112.1 328.1,111.2 330.6,110.3 333.1,109.4 335.6,108.4 338.1,107.4 340.6,106.4 343.1,105.4 345.6,104.4 348.1,103.4 350.6,102.4 353.1,101.4 355.6,100.4 358.1,99.4 360.6,98.5 363.1,97.6 365.6,96.7 368.1,95.9 370.6,95.2 373.1,94.6 375.6,94.0 378.1,93.5 380.6,93.1 383.1,92.7 385.6,92.3 388.1,91.9 390.6,91.5 393.1,91.2 395.6,90.8 398.1,90.5 400.6,90.1 403.1,89.8 405.6,89.4 408.1,89.1 410.6,88.8 413.1,88.4 415.6,88.1 416.8,87.9 416.8,103.7 415.6,103.9 413.1,104.2 410.6,104.5 408.1,104.8 405.6,105.2 403.1,105.5 400.6,105.8 398.1,106.1 395.6,106.4 393.1,106.8 390.6,107.1 388.1,107.5 385.6,107.8 383.1,108.2 380.6,108.6 378.1,109.0 375.6,109.4 373.1,109.8 370.6,110.3 368.1,110.7 365.6,111.3 363.1,111.8 360.6,112.4 358.1,112.9 355.6,113.5 353.1,114.1 350.6,114.7 348.1,115.3 345.6,116.0 343.1,116.6 340.6,117.2 338.1,117.8 335.6,118.4 333.1,119.0 330.6,119.5 328.1,120.0 325.6,120.5 323.1,120.9 320.6,121.4 318.1,121.8 315.6,122.2 313.1,122.6 310.6,123.0 308.1,123.4 305.6,123.9 303.1,124.3 300.6,124.8 298.1,125.2 295.6,125.7 293.1,126.2 290.6,126.7 288.1,127.1 285.6,127.6 283.1,128.1 280.6,128.6 278.1,129.0 275.6,129.4 273.1,129.7 270.6,130.0 268.1,130.2 265.6,130.4 263.1,130.6 260.6,130.8 258.1,131.2 255.6,131.8 253.1,132.5 250.6,133.5 248.1,134.9 245.6,136.3Z" fill="#6c186e"/><path d="M245.6,136.3 248.1,134.0 250.6,131.7 253.1,130.4 255.6,129.7 258.1,129.0 260.6,128.6 263.1,128.3 265.6,128.0 268.1,127.7 270.6,127.4 273.1,127.0 275.6,126.5 278.1,125.8 280.6,125.2 283.1,124.5 285.6,123.8 288.1,123.1 290.6,122.3 293.1,121.6 295.6,120.9 298.1,120.3 300.6,119.7 303.1,119.0 305.6,118.4 308.1,117.8 310.6,117.1 313.1,116.4 315.6,115.7 318.1,115.0 320.6,114.2 323.1,113.4 325.6,112.6 328.1,111.8 330.6,110.9 333.1,110.0 335.6,109.1 338.1,108.1 340.6,107.1 343.1,106.1 345.6,105.1 348.1,104.1 350.6,103.1 353.1,102.2 355.6,101.2 358.1,100.3 360.6,99.3 363.1,98.5 365.6,97.6 368.1,96.9 370.6,96.2 373.1,95.5 375.6,95.0 378.1,94.5 380.6,94.0 383.1,93.6 385.6,93.2 388.1,92.8 390.6,92.4 393.1,92.0 395.6,91.7 398.1,91.3 400.6,91.0 403.1,90.6 405.6,90.3 408.1,90.0 410.6,89.6 413.1,89.3 415.6,89.0 416.8,88.8 416.8,102.7 415.6,102.9 413.1,103.2 410.6,103.5 408.1,103.8 405.6,104.1 403.1,104.4 400.6,104.8 398.1,105.1 395.6,105.4 393.1,105.7 390.6,106.1 388.1,106.5 385.6,106.8 383.1,107.2 380.6,107.6 378.1,108.0 375.6,108.5 373.1,108.9 370.6,109.4 368.1,109.9 365.6,110.4 363.1,111.0 360.6,111.6 358.1,112.1 355.6,112.7 353.1,113.4 350.6,114.0 348.1,114.6 345.6,115.3 343.1,115.9 340.6,116.6 338.1,117.2 335.6,117.8 333.1,118.4 330.6,119.0 328.1,119.5 325.6,120.0 323.1,120.5 320.6,120.9 318.1,121.4 315.6,121.8 313.1,122.2 310.6,122.7 308.1,123.1 305.6,123.6 303.1,124.0 300.6,124.5 298.1,124.9 295.6,125.4 293.1,125.9 290.6,126.4 288.1,126.9 285.6,127.4 283.1,127.9 280.6,128.4 278.1,128.8 275.6,129.2 273.1,129.5 270.6,129.8 268.1,130.1 265.6,130.3 263.1,130.5 260.6,130.7 258.1,131.1 255.6,131.7 253.1,132.4 250.6,133.4 248.1,134.8 245.6,136.3Z" fill="#5c136e"/><path d="M245.6,136.3 248.1,134.0 250.6,131.8 253.1,130.6 255.6,129.8 258.1,129.1 260.6,128.7 263.1,128.4 265.6,128.2 268.1,127.9 270.6,127.5 273.1,127.1 275.6,126.7 278.1,126.1 280.6,125.4 283.1,124.8 285.6,124.1 288.1,123.3 290.6,122.6 293.1,121.9 295.6,121.3 298.1,120.7 300.6,120.0 303.1,119.4 305.6,118.8 308.1,118.2 310.6,117.5 313.1,116.8 315.6,116.2 318.1,115.4 320.6,114.7 323.1,114.0 325.6,113.2 328.1,112.4 330.6,111.5 333.1,110.6 335.6,109.7 338.1,108.7 340.6,107.8 343.1,106.8 345.6,105.8 348.1,104.8 350.6,103.9 353.1,102.9 355.6,102.0 358.1,101.1 360.6,100.2 363.1,99.4 365.6,98.6 368.1,97.8 370.6,97.1 373.1,96.5 375.6,95.9 378.1,95.4 380.6,94.9 383.1,94.5 385.6,94.0 388.1,93.6 390.6,93.2 393.1,92.9 395.6,92.5 398.1,92.2 400.6,91.8 403.1,91.5 405.6,91.2 408.1,90.8 410.6,90.5 413.1,90.2 415.6,89.8 416.8,89.7 416.8,101.7 415.6,101.8 413.1,102.1 410.6,102.5 408.1,102.8 405.6,103.1 403.1,103.4 400.6,103.7 398.1,104.0 395.6,104.4 393.1,104.7 390.6,105.1 388.1,105.4 385.6,105.8 383.1,106.2 380.6,106.7 378.1,107.1 375.6,107.6 373.1,108.0 370.6,108.5 368.1,109.0 365.6,109.6 363.1,110.2 360.6,110.8 358.1,111.4 355.6,112.0 353.1,112.6 350.6,113.2 348.1,113.9 345.6,114.6 343.1,115.2 340.6,115.9 338.1,116.6 335.6,117.3 333.1,117.9 330.6,118.5 328.1,119.0 325.6,119.6 323.1,120.1 320.6,120.5 318.1,121.0 315.6,121.4 313.1,121.9 310.6,122.3 308.1,122.8 305.6,123.2 303.1,123.7 300.6,124.2 298.1,124.7 295.6,125.1 293.1,125.6 290.6,126.2 288.1,126.7 285.6,127.2 283.1,127.7 280.6,128.2 278.1,128.6 275.6,129.0 273.1,129.4 270.6,129.6 268.1,129.9 265.6,130.1 263.1,130.3 260.6,130.6 258.1,130.9 255.6,131.6 253.1,132.3 250.6,133.3 248.1,134.8 245.6,136.3Z" fill="#4b116c"/><path d="M245.6,136.3 248.1,134.1 250.6,131.9 253.1,130.7 255.6,130.0 258.1,129.3 260.6,128.9 263.1,128.6 265.6,128.3 268.1,128.0 270.6,127.7 273.1,127.3 275.6,126.8 278.1,126.3 280.6,125.7 283.1,125.0 285.6,124.3 288.1,123.6 290.6,122.9 293.1,122.3 295.6,121.6 298.1,121.0 300.6,120.4 303.1,119.8 305.6,119.2 308.1,118.6 310.6,117.9 313.1,117.3 315.6,116.6 318.1,115.9 320.6,115.2 323.1,114.5 325.6,113.7 328.1,112.9 330.6,112.1 333.1,111.2 335.6,110.3 338.1,109.4 340.6,108.4 343.1,107.5 345.6,106.5 348.1,105.5 350.6,104.6 353.1,103.7 355.6,102.8 358.1,101.9 360.6,101.1 363.1,100.3 365.6,99.5 368.1,98.7 370.6,98.1 373.1,97.4 375.6,96.9 378.1,96.3 380.6,95.8 383.1,95.4 385.6,94.9 388.1,94.5 390.6,94.1 393.1,93.7 395.6,93.4 398.1,93.0 400.6,92.7 403.1,92.3 405.6,92.0 408.1,91.7 410.6,91.4 413.1,91.0 415.6,90.7 416.8,90.6 416.8,100.7 415.6,100.8 413.1,101.1 410.6,101.4 408.1,101.7 405.6,102.1 403.1,102.4 400.6,102.7 398.1,103.0 395.6,103.3 393.1,103.7 390.6,104.1 388.1,104.4 385.6,104.8 383.1,105.3 380.6,105.7 378.1,106.2 375.6,106.6 373.1,107.1 370.6,107.7 368.1,108.2 365.6,108.8 363.1,109.3 360.6,109.9 358.1,110.6 355.6,111.2 353.1,111.8 350.6,112.5 348.1,113.2 345.6,113.9 343.1,114.6 340.6,115.3 338.1,116.0 335.6,116.7 333.1,117.3 330.6,118.0 328.1,118.6 325.6,119.1 323.1,119.6 320.6,120.1 318.1,120.6 315.6,121.0 313.1,121.5 310.6,122.0 308.1,122.5 305.6,122.9 303.1,123.4 300.6,123.9 298.1,124.4 295.6,124.9 293.1,125.4 290.6,125.9 288.1,126.4 285.6,127.0 283.1,127.5 280.6,128.0 278.1,128.4 275.6,128.8 273.1,129.2 270.6,129.5 268.1,129.7 265.6,130.0 263.1,130.2 260.6,130.4 258.1,130.8 255.6,131.4 253.1,132.1 250.6,133.1 248.1,134.7 245.6,136.3Z" fill="#3e1169"/><path d="M245.6,136.3 248.1,134.1 250.6,132.1 253.1,130.9 255.6,130.1 258.1,129.4 260.6,129.0 263.1,128.7 265.6,128.5 268.1,128.2 270.6,127.9 273.1,127.5 275.6,127.0 278.1,126.5 280.6,125.9 283.1,125.3 285.6,124.6 288.1,123.9 290.6,123.3 293.1,122.6 295.6,122.0 298.1,121.4 300.6,120.8 303.1,120.2 305.6,119.6 308.1,119.0 310.6,118.4 313.1,117.7 315.6,117.1 318.1,116.4 320.6,115.7 323.1,115.0 325.6,114.3 328.1,113.5 330.6,112.7 333.1,111.8 335.6,110.9 338.1,110.0 340.6,109.1 343.1,108.1 345.6,107.2 348.1,106.3 350.6,105.4 353.1,104.5 355.6,103.6 358.1,102.8 360.6,101.9 363.1,101.1 365.6,100.4 368.1,99.7 370.6,99.0 373.1,98.4 375.6,97.8 378.1,97.3 380.6,96.7 383.1,96.3 385.6,95.8 388.1,95.4 390.6,95.0 393.1,94.6 395.6,94.2 398.1,93.9 400.6,93.5 403.1,93.2 405.6,92.9 408.1,92.6 410.6,92.2 413.1,91.9 415.6,91.6 416.8,91.4 416.8,99.6 415.6,99.8 413.1,100.1 410.6,100.4 408.1,100.7 405.6,101.0 403.1,101.3 400.6,101.6 398.1,102.0 395.6,102.3 393.1,102.7 390.6,103.0 388.1,103.4 385.6,103.9 383.1,104.3 380.6,104.8 378.1,105.2 375.6,105.7 373.1,106.3 370.6,106.8 368.1,107.3 365.6,107.9 363.1,108.5 360.6,109.1 358.1,109.8 355.6,110.4 353.1,111.1 350.6,111.8 348.1,112.5 345.6,113.2 343.1,113.9 340.6,114.7 338.1,115.4 335.6,116.1 333.1,116.8 330.6,117.4 328.1,118.1 325.6,118.6 323.1,119.2 320.6,119.7 318.1,120.2 315.6,120.7 313.1,121.2 310.6,121.6 308.1,122.1 305.6,122.6 303.1,123.1 300.6,123.6 298.1,124.1 295.6,124.6 293.1,125.1 290.6,125.7 288.1,126.2 285.6,126.7 283.1,127.3 280.6,127.8 278.1,128.2 275.6,128.6 273.1,129.0 270.6,129.3 268.1,129.6 265.6,129.8 263.1,130.0 260.6,130.3 258.1,130.6 255.6,131.3 253.1,132.0 250.6,133.0 248.1,134.6 245.6,136.3Z" fill="#351464"/><path d="M245.6,136.3 248.1,134.2 250.6,132.2 253.1,131.0 255.6,130.3 258.1,129.6 260.6,129.1 263.1,128.9 265.6,128.6 268.1,128.3 270.6,128.0 273.1,127.7 275.6,127.2 278.1,126.7 280.6,126.1 283.1,125.5 285.6,124.9 288.1,124.2 290.6,123.6 293.1,122.9 295.6,122.3 298.1,121.7 300.6,121.1 303.1,120.5 305.6,120.0 308.1,119.4 310.6,118.8 313.1,118.2 315.6,117.5 318.1,116.9 320.6,116.2 323.1,115.5 325.6,114.8 328.1,114.1 330.6,113.3 333.1,112.4 335.6,111.6 338.1,110.7 340.6,109.7 343.1,108.8 345.6,107.9 348.1,107.0 350.6,106.1 353.1,105.2 355.6,104.4 358.1,103.6 360.6,102.8 363.1,102.0 365.6,101.3 368.1,100.6 370.6,99.9 373.1,99.3 375.6,98.7 378.1,98.2 380.6,97.7 383.1,97.2 385.6,96.7 388.1,96.2 390.6,95.8 393.1,95.4 395.6,95.1 398.1,94.7 400.6,94.4 403.1,94.1 405.6,93.7 408.1,93.4 410.6,93.1 413.1,92.8 415.6,92.5 416.8,92.3 416.8,98.6 415.6,98.7 413.1,99.1 410.6,99.4 408.1,99.7 405.6,100.0 403.1,100.3 400.6,100.6 398.1,100.9 395.6,101.3 393.1,101.6 390.6,102.0 388.1,102.4 385.6,102.9 383.1,103.3 380.6,103.8 378.1,104.3 375.6,104.8 373.1,105.4 370.6,105.9 368.1,106.5 365.6,107.1 363.1,107.7 360.6,108.3 358.1,109.0 355.6,109.6 353.1,110.3 350.6,111.0 348.1,111.7 345.6,112.5 343.1,113.2 340.6,114.0 338.1,114.8 335.6,115.5 333.1,116.2 330.6,116.9 328.1,117.6 325.6,118.2 323.1,118.7 320.6,119.3 318.1,119.8 315.6,120.3 313.1,120.8 310.6,121.3 308.1,121.8 305.6,122.3 303.1,122.8 300.6,123.3 298.1,123.8 295.6,124.3 293.1,124.9 290.6,125.4 288.1,126.0 285.6,126.5 283.1,127.1 280.6,127.6 278.1,128.0 275.6,128.5 273.1,128.8 270.6,129.1 268.1,129.4 265.6,129.7 263.1,129.9 260.6,130.1 258.1,130.5 255.6,131.2 253.1,131.9 250.6,132.9 248.1,134.6 245.6,136.3Z" fill="#321861"/><path d="M245.6,136.3 248.1,134.3 250.6,132.3 253.1,131.1 255.6,130.4 258.1,129.7 260.6,129.3 263.1,129.0 265.6,128.8 268.1,128.5 270.6,128.2 273.1,127.9 275.6,127.4 278.1,126.9 280.6,126.4 283.1,125.8 285.6,125.2 288.1,124.5 290.6,123.9 293.1,123.3 295.6,122.7 298.1,122.1 300.6,121.5 303.1,120.9 305.6,120.3 308.1,119.8 310.6,119.2 313.1,118.6 315.6,118.0 318.1,117.4 320.6,116.7 323.1,116.1 325.6,115.4 328.1,114.6 330.6,113.9 333.1,113.0 335.6,112.2 338.1,111.3 340.6,110.4 343.1,109.5 345.6,108.6 348.1,107.7 350.6,106.8 353.1,106.0 355.6,105.2 358.1,104.4 360.6,103.7 363.1,102.9 365.6,102.2 368.1,101.5 370.6,100.9 373.1,100.3 375.6,99.7 378.1,99.1 380.6,98.6 383.1,98.1 385.6,97.6 388.1,97.1 390.6,96.7 393.1,96.3 395.6,95.9 398.1,95.6 400.6,95.2 403.1,94.9 405.6,94.6 408.1,94.3 410.6,94.0 413.1,93.6 415.6,93.3 416.8,93.2 416.8,97.6 415.6,97.7 413.1,98.0 410.6,98.3 408.1,98.6 405.6,98.9 403.1,99.3 400.6,99.6 398.1,99.9 395.6,100.2 393.1,100.6 390.6,101.0 388.1,101.4 385.6,101.9 383.1,102.4 380.6,102.9 378.1,103.4 375.6,103.9 373.1,104.5 370.6,105.1 368.1,105.6 365.6,106.3 363.1,106.9 360.6,107.5 358.1,108.2 355.6,108.9 353.1,109.5 350.6,110.3 348.1,111.0 345.6,111.8 343.1,112.6 340.6,113.4 338.1,114.2 335.6,115.0 333.1,115.7 330.6,116.4 328.1,117.1 325.6,117.7 323.1,118.3 320.6,118.8 318.1,119.4 315.6,119.9 313.1,120.4 310.6,120.9 308.1,121.5 305.6,122.0 303.1,122.5 300.6,123.0 298.1,123.5 295.6,124.1 293.1,124.6 290.6,125.2 288.1,125.7 285.6,126.3 283.1,126.8 280.6,127.4 278.1,127.8 275.6,128.3 273.1,128.7 270.6,129.0 268.1,129.3 265.6,129.5 263.1,129.7 260.6,130.0 258.1,130.4 255.6,131.0 253.1,131.8 250.6,132.8 248.1,134.5 245.6,136.3Z" fill="#2e185b"/><path d="M245.6,136.3 248.1,134.3 250.6,132.4 253.1,131.3 255.6,130.5 258.1,129.8 260.6,129.4 263.1,129.1 265.6,128.9 268.1,128.6 270.6,128.3 273.1,128.0 275.6,127.6 278.1,127.1 280.6,126.6 283.1,126.0 285.6,125.4 288.1,124.8 290.6,124.1 293.1,123.5 295.6,122.9 298.1,122.4 300.6,121.8 303.1,121.2 305.6,120.7 308.1,120.1 310.6,119.5 313.1,118.9 315.6,118.3 318.1,117.7 320.6,117.1 323.1,116.5 325.6,115.8 328.1,115.1 330.6,114.3 333.1,113.5 335.6,112.7 338.1,111.8 340.6,110.9 343.1,110.0 345.6,109.1 348.1,108.3 350.6,107.4 353.1,106.6 355.6,105.9 358.1,105.1 360.6,104.4 363.1,103.7 365.6,103.0 368.1,102.3 370.6,101.6 373.1,101.0 375.6,100.4 378.1,99.9 380.6,99.3 383.1,98.8 385.6,98.3 388.1,97.8 390.6,97.4 393.1,97.0 395.6,96.6 398.1,96.2 400.6,95.9 403.1,95.6 405.6,95.3 408.1,95.0 410.6,94.7 413.1,94.3 415.6,94.0 416.8,93.9 416.8,96.7 415.6,96.9 413.1,97.2 410.6,97.5 408.1,97.8 405.6,98.1 403.1,98.4 400.6,98.7 398.1,99.1 395.6,99.4 393.1,99.8 390.6,100.2 388.1,100.6 385.6,101.1 383.1,101.6 380.6,102.1 378.1,102.6 375.6,103.2 373.1,103.8 370.6,104.4 368.1,105.0 365.6,105.6 363.1,106.2 360.6,106.9 358.1,107.5 355.6,108.2 353.1,108.9 350.6,109.7 348.1,110.4 345.6,111.2 343.1,112.0 340.6,112.9 338.1,113.7 335.6,114.5 333.1,115.3 330.6,116.0 328.1,116.7 325.6,117.3 323.1,117.9 320.6,118.5 318.1,119.1 315.6,119.6 313.1,120.1 310.6,120.7 308.1,121.2 305.6,121.7 303.1,122.2 300.6,122.8 298.1,123.3 295.6,123.8 293.1,124.4 290.6,125.0 288.1,125.5 285.6,126.1 283.1,126.7 280.6,127.2 278.1,127.7 275.6,128.1 273.1,128.5 270.6,128.8 268.1,129.1 265.6,129.4 263.1,129.6 260.6,129.8 258.1,130.3 255.6,130.9 253.1,131.7 250.6,132.7 248.1,134.5 245.6,136.3Z" fill="#2b1754"/><path d="M245.6,136.3 248.1,134.4 250.6,132.5 253.1,131.4 255.6,130.6 258.1,129.9 260.6,129.5 263.1,129.3 265.6,129.0 268.1,128.8 270.6,128.5 273.1,128.1 275.6,127.7 278.1,127.2 280.6,126.7 283.1,126.2 285.6,125.6 288.1,125.0 290.6,124.4 293.1,123.8 295.6,123.2 298.1,122.6 300.6,122.1 303.1,121.5 305.6,120.9 308.1,120.4 310.6,119.8 313.1,119.3 315.6,118.7 318.1,118.1 320.6,117.5 323.1,116.9 325.6,116.2 328.1,115.5 330.6,114.8 333.1,114.0 335.6,113.2 338.1,112.3 340.6,111.4 343.1,110.5 345.6,109.7 348.1,108.8 350.6,108.0 353.1,107.2 355.6,106.5 358.1,105.7 360.6,105.0 363.1,104.3 365.6,103.6 368.1,103.0 370.6,102.4 373.1,101.7 375.6,101.1 378.1,100.5 380.6,100.0 383.1,99.4 385.6,98.9 388.1,98.4 390.6,98.0 393.1,97.6 395.6,97.2 398.1,96.9 400.6,96.5 403.1,96.2 405.6,95.9 408.1,95.6 410.6,95.3 413.1,95.0 415.6,94.7 416.8,94.5 416.8,96.0 415.6,96.1 413.1,96.4 410.6,96.7 408.1,97.0 405.6,97.3 403.1,97.6 400.6,98.0 398.1,98.3 395.6,98.6 393.1,99.0 390.6,99.4 388.1,99.9 385.6,100.3 383.1,100.8 380.6,101.4 378.1,101.9 375.6,102.5 373.1,103.1 370.6,103.7 368.1,104.3 365.6,105.0 363.1,105.6 360.6,106.3 358.1,106.9 355.6,107.6 353.1,108.4 350.6,109.1 348.1,109.9 345.6,110.7 343.1,111.5 340.6,112.4 338.1,113.2 335.6,114.1 333.1,114.9 330.6,115.6 328.1,116.3 325.6,117.0 323.1,117.6 320.6,118.2 318.1,118.8 315.6,119.3 313.1,119.9 310.6,120.4 308.1,120.9 305.6,121.5 303.1,122.0 300.6,122.5 298.1,123.1 295.6,123.6 293.1,124.2 290.6,124.8 288.1,125.4 285.6,125.9 283.1,126.5 280.6,127.0 278.1,127.5 275.6,128.0 273.1,128.4 270.6,128.7 268.1,129.0 265.6,129.3 263.1,129.5 260.6,129.7 258.1,130.1 255.6,130.8 253.1,131.6 250.6,132.7 248.1,134.5 245.6,136.3Z" fill="#29154f"/></g>
<path d="M245.6,136.3 248.1,134.4 250.6,132.6 253.1,131.5 255.6,130.7 258.1,130.0 260.6,129.6 263.1,129.4 265.6,129.1 268.1,128.9 270.6,128.6 273.1,128.3 275.6,127.9 278.1,127.4 280.6,126.9 283.1,126.4 285.6,125.8 288.1,125.2 290.6,124.6 293.1,124.0 295.6,123.4 298.1,122.9 300.6,122.3 303.1,121.8 305.6,121.2 308.1,120.7 310.6,120.1 313.1,119.6 315.6,119.0 318.1,118.5 320.6,117.9 323.1,117.3 325.6,116.6 328.1,116.0 330.6,115.2 333.1,114.5 335.6,113.6 338.1,112.8 340.6,111.9 343.1,111.0 345.6,110.2 348.1,109.4 350.6,108.6 353.1,107.8 355.6,107.1 358.1,106.4 360.6,105.7 363.1,105.0 365.6,104.3 368.1,103.7 370.6,103.1 373.1,102.4 375.6,101.8 378.1,101.2 380.6,100.7 383.1,100.1 385.6,99.6 388.1,99.1 390.6,98.6 393.1,98.2 395.6,97.9 398.1,97.5 400.6,97.2 403.1,96.9 405.6,96.6 408.1,96.3 410.6,96.0 413.1,95.6 415.6,95.3 416.8,95.2" fill="none" stroke="#0a0614" stroke-width="2.6"/>
<path d="M245.6,136.3 248.1,134.4 250.6,132.6 253.1,131.5 255.6,130.7 258.1,130.0 260.6,129.6 263.1,129.4 265.6,129.1 268.1,128.9 270.6,128.6 273.1,128.3 275.6,127.9 278.1,127.4 280.6,126.9 283.1,126.4 285.6,125.8 288.1,125.2 290.6,124.6 293.1,124.0 295.6,123.4 298.1,122.9 300.6,122.3 303.1,121.8 305.6,121.2 308.1,120.7 310.6,120.1 313.1,119.6 315.6,119.0 318.1,118.5 320.6,117.9 323.1,117.3 325.6,116.6 328.1,116.0 330.6,115.2 333.1,114.5 335.6,113.6 338.1,112.8 340.6,111.9 343.1,111.0 345.6,110.2 348.1,109.4 350.6,108.6 353.1,107.8 355.6,107.1 358.1,106.4 360.6,105.7 363.1,105.0 365.6,104.3 368.1,103.7 370.6,103.1 373.1,102.4 375.6,101.8 378.1,101.2 380.6,100.7 383.1,100.1 385.6,99.6 388.1,99.1 390.6,98.6 393.1,98.2 395.6,97.9 398.1,97.5 400.6,97.2 403.1,96.9 405.6,96.6 408.1,96.3 410.6,96.0 413.1,95.6 415.6,95.3 416.8,95.2" fill="none" stroke="#9e2619" stroke-width="1.0"/>
</g>
<line x1="245.6" y1="136.3" x2="416.8" y2="136.3" stroke="#cfcfcf" stroke-width="1"/>
<rect x="245.6" y="22.7" width="171.2" height="170.9" fill="none" stroke="#444" stroke-width="1.3"/>
<line x1="242.1" y1="22.6" x2="245.6" y2="22.6" stroke="#333" stroke-width="1"/>
<text x="239.6" y="24.9" font-size="8.8" text-anchor="end" font-weight="normal" fill="#111">6</text>
<line x1="242.1" y1="60.5" x2="245.6" y2="60.5" stroke="#333" stroke-width="1"/>
<text x="239.6" y="62.8" font-size="8.8" text-anchor="end" font-weight="normal" fill="#111">4</text>
<line x1="242.1" y1="98.4" x2="245.6" y2="98.4" stroke="#333" stroke-width="1"/>
<text x="239.6" y="100.7" font-size="8.8" text-anchor="end" font-weight="normal" fill="#111">2</text>
<line x1="242.1" y1="136.3" x2="245.6" y2="136.3" stroke="#333" stroke-width="1"/>
<text x="239.6" y="138.6" font-size="8.8" text-anchor="end" font-weight="normal" fill="#111">0</text>
<line x1="242.1" y1="174.2" x2="245.6" y2="174.2" stroke="#333" stroke-width="1"/>
<text x="239.6" y="176.5" font-size="8.8" text-anchor="end" font-weight="normal" fill="#111">2</text>
<line x1="251.2" y1="193.6" x2="251.2" y2="197.1" stroke="#333" stroke-width="1"/>
<text x="251.2" y="207.2" font-size="8.8" text-anchor="middle" font-weight="normal" fill="#111">1960</text>
<line x1="300.3" y1="193.6" x2="300.3" y2="197.1" stroke="#333" stroke-width="1"/>
<text x="300.3" y="207.2" font-size="8.8" text-anchor="middle" font-weight="normal" fill="#111">2000</text>
<line x1="349.4" y1="193.6" x2="349.4" y2="197.1" stroke="#333" stroke-width="1"/>
<text x="349.4" y="207.2" font-size="8.8" text-anchor="middle" font-weight="normal" fill="#111">2040</text>
<line x1="398.6" y1="193.6" x2="398.6" y2="197.1" stroke="#333" stroke-width="1"/>
<text x="398.6" y="207.2" font-size="8.8" text-anchor="middle" font-weight="normal" fill="#111">2080</text>
<text x="331.2" y="220.9" font-size="9" text-anchor="middle" font-weight="normal" fill="#111">Year</text>
<text x="222.1" y="108.2" font-size="8.6" text-anchor="middle" font-weight="normal" fill="#111" transform="rotate(-90 222.1 108.2)">Cumulative climate change index</text>
<text x="222.8" y="11.8" font-size="10" text-anchor="start" font-weight="bold" fill="#000">b</text>
<g clip-path="url(#clipc)">
<path d="M456.9,136.3 459.4,115.8 461.9,111.6 464.4,110.3 466.9,109.7 469.4,109.7 471.9,109.6 474.4,109.3 476.9,109.0 479.4,108.8 481.9,108.7 484.4,108.5 486.9,108.4 489.4,108.3 491.9,108.2 494.4,107.8 496.9,106.3 499.4,103.4 501.9,100.3 504.4,97.9 506.9,95.7 509.4,93.6 511.9,91.9 514.4,90.7 516.9,89.7 519.4,88.7 521.9,87.2 524.4,85.3 526.9,83.4 529.4,81.5 531.9,79.7 534.4,78.2 536.9,76.6 539.4,75.1 541.9,73.6 544.4,72.1 546.9,70.6 549.4,69.1 551.9,67.7 554.4,66.3 556.9,64.9 559.4,63.6 561.9,62.2 564.4,60.8 566.9,59.3 569.4,57.7 571.9,56.0 574.4,54.2 576.9,52.1 579.4,49.7 581.9,47.3 584.4,44.9 586.9,42.9 589.4,41.0 591.9,38.9 594.4,36.8 596.9,34.6 599.4,32.4 601.9,30.4 604.4,28.6 606.9,27.1 609.4,25.6 611.9,24.3 614.4,23.4 616.9,23.0 619.4,22.8 621.9,22.7 624.4,22.7 626.9,22.7 628.4,22.7 628.4,118.0 626.9,118.3 624.4,118.7 621.9,119.1 619.4,119.5 616.9,120.0 614.4,120.4 611.9,120.8 609.4,121.2 606.9,121.5 604.4,121.9 601.9,122.3 599.4,122.7 596.9,123.1 594.4,123.5 591.9,123.9 589.4,124.3 586.9,124.8 584.4,125.3 581.9,125.7 579.4,126.2 576.9,126.7 574.4,127.3 571.9,127.8 569.4,128.5 566.9,129.4 564.4,130.4 561.9,131.3 559.4,132.1 556.9,132.8 554.4,133.4 551.9,133.8 549.4,134.1 546.9,134.3 544.4,134.3 541.9,134.3 539.4,134.3 536.9,134.4 534.4,134.5 531.9,134.6 529.4,134.7 526.9,134.8 524.4,134.9 521.9,135.0 519.4,135.0 516.9,135.1 514.4,135.1 511.9,135.1 509.4,135.1 506.9,135.1 504.4,135.1 501.9,135.1 499.4,135.2 496.9,135.2 494.4,135.3 491.9,135.3 489.4,135.4 486.9,135.4 484.4,135.5 481.9,135.6 479.4,135.6 476.9,135.7 474.4,135.8 471.9,135.8 469.4,135.9 466.9,135.9 464.4,136.0 461.9,136.0 459.4,136.2 456.9,136.3Z" fill="#f3eda3"/>
<g filter="url(#blur)"><path d="M456.9,136.3 459.4,122.4 461.9,118.1 464.4,116.1 466.9,114.9 469.4,114.0 471.9,113.6 474.4,113.3 476.9,113.1 479.4,112.8 481.9,112.6 484.4,112.4 486.9,112.1 489.4,111.7 491.9,111.4 494.4,110.8 496.9,109.7 499.4,107.9 501.9,106.0 504.4,104.3 506.9,102.8 509.4,101.2 511.9,99.8 514.4,98.6 516.9,97.5 519.4,96.2 521.9,94.7 524.4,93.0 526.9,91.1 529.4,89.4 531.9,87.6 534.4,86.0 536.9,84.4 539.4,82.8 541.9,81.1 544.4,79.5 546.9,77.8 549.4,76.1 551.9,74.5 554.4,72.9 556.9,71.4 559.4,69.8 561.9,68.3 564.4,66.7 566.9,65.1 569.4,63.4 571.9,61.6 574.4,59.8 576.9,57.9 579.4,55.7 581.9,53.6 584.4,51.5 586.9,49.6 589.4,47.8 591.9,46.0 594.4,44.1 596.9,42.3 599.4,40.5 601.9,38.8 604.4,37.2 606.9,35.7 609.4,34.3 611.9,32.9 614.4,31.8 616.9,30.8 619.4,30.0 621.9,29.3 624.4,28.5 626.9,27.8 628.4,27.3 628.4,107.0 626.9,107.2 624.4,107.7 621.9,108.1 619.4,108.6 616.9,109.1 614.4,109.6 611.9,110.2 609.4,110.9 606.9,111.5 604.4,112.2 601.9,113.0 599.4,113.7 596.9,114.5 594.4,115.2 591.9,115.9 589.4,116.7 586.9,117.4 584.4,118.1 581.9,118.8 579.4,119.5 576.9,120.2 574.4,120.9 571.9,121.7 569.4,122.5 566.9,123.5 564.4,124.4 561.9,125.4 559.4,126.4 556.9,127.2 554.4,128.0 551.9,128.6 549.4,129.1 546.9,129.5 544.4,129.7 541.9,129.9 539.4,130.0 536.9,130.2 534.4,130.5 531.9,130.7 529.4,131.0 526.9,131.2 524.4,131.5 521.9,131.7 519.4,131.9 516.9,132.1 514.4,132.3 511.9,132.5 509.4,132.7 506.9,132.8 504.4,133.0 501.9,133.2 499.4,133.3 496.9,133.5 494.4,133.7 491.9,133.9 489.4,134.0 486.9,134.2 484.4,134.4 481.9,134.5 479.4,134.7 476.9,134.9 474.4,135.0 471.9,135.2 469.4,135.4 466.9,135.4 464.4,135.5 461.9,135.7 459.4,136.0 456.9,136.3Z" fill="#f4e993"/><path d="M456.9,136.3 459.4,128.8 461.9,124.3 464.4,121.7 466.9,119.9 469.4,118.2 471.9,117.5 474.4,117.2 476.9,117.0 479.4,116.8 481.9,116.5 484.4,116.1 486.9,115.6 489.4,115.0 491.9,114.5 494.4,113.8 496.9,113.1 499.4,112.3 501.9,111.5 504.4,110.6 506.9,109.6 509.4,108.6 511.9,107.5 514.4,106.3 516.9,105.0 519.4,103.6 521.9,102.0 524.4,100.4 526.9,98.7 529.4,97.0 531.9,95.3 534.4,93.6 536.9,92.0 539.4,90.2 541.9,88.5 544.4,86.6 546.9,84.8 549.4,83.0 551.9,81.2 554.4,79.4 556.9,77.7 559.4,76.0 561.9,74.2 564.4,72.5 566.9,70.7 569.4,69.0 571.9,67.1 574.4,65.3 576.9,63.5 579.4,61.6 581.9,59.8 584.4,58.0 586.9,56.2 589.4,54.5 591.9,52.9 594.4,51.3 596.9,49.8 599.4,48.4 601.9,47.0 604.4,45.6 606.9,44.2 609.4,42.8 611.9,41.4 614.4,40.0 616.9,38.5 619.4,37.1 621.9,35.6 624.4,34.2 626.9,32.7 628.4,31.9 628.4,96.2 626.9,96.5 624.4,96.9 621.9,97.4 619.4,97.9 616.9,98.5 614.4,99.2 611.9,100.0 609.4,100.9 606.9,101.9 604.4,102.9 601.9,104.0 599.4,105.0 596.9,106.1 594.4,107.2 591.9,108.2 589.4,109.2 586.9,110.2 584.4,111.1 581.9,112.1 579.4,113.0 576.9,113.9 574.4,114.8 571.9,115.7 569.4,116.7 566.9,117.7 564.4,118.7 561.9,119.8 559.4,120.8 556.9,121.8 554.4,122.8 551.9,123.6 549.4,124.3 546.9,124.8 544.4,125.2 541.9,125.6 539.4,125.9 536.9,126.2 534.4,126.6 531.9,127.0 529.4,127.3 526.9,127.8 524.4,128.2 521.9,128.6 519.4,128.9 516.9,129.3 514.4,129.7 511.9,130.0 509.4,130.3 506.9,130.7 504.4,131.0 501.9,131.3 499.4,131.6 496.9,131.9 494.4,132.2 491.9,132.4 489.4,132.7 486.9,133.0 484.4,133.2 481.9,133.5 479.4,133.8 476.9,134.0 474.4,134.3 471.9,134.6 469.4,134.8 466.9,135.0 464.4,135.1 461.9,135.3 459.4,135.8 456.9,136.3Z" fill="#f5dd5f"/><path d="M456.9,136.3 459.4,129.9 461.9,125.7 464.4,123.1 466.9,121.3 469.4,119.7 471.9,118.9 474.4,118.6 476.9,118.4 479.4,118.1 481.9,117.8 484.4,117.4 486.9,116.9 489.4,116.3 491.9,115.7 494.4,115.1 496.9,114.4 499.4,113.6 501.9,112.8 504.4,112.0 506.9,111.1 509.4,110.2 511.9,109.2 514.4,108.2 516.9,107.0 519.4,105.7 521.9,104.3 524.4,102.9 526.9,101.3 529.4,99.8 531.9,98.2 534.4,96.6 536.9,94.9 539.4,93.2 541.9,91.4 544.4,89.6 546.9,87.7 549.4,85.9 551.9,84.0 554.4,82.2 556.9,80.5 559.4,78.8 561.9,77.1 564.4,75.5 566.9,73.8 569.4,72.1 571.9,70.4 574.4,68.6 576.9,66.9 579.4,65.1 581.9,63.3 584.4,61.6 586.9,59.9 589.4,58.2 591.9,56.6 594.4,55.0 596.9,53.5 599.4,52.0 601.9,50.6 604.4,49.1 606.9,47.7 609.4,46.2 611.9,44.7 614.4,43.2 616.9,41.7 619.4,40.1 621.9,38.5 624.4,36.9 626.9,35.3 628.4,34.3 628.4,93.0 626.9,93.4 624.4,94.0 621.9,94.7 619.4,95.5 616.9,96.2 614.4,97.1 611.9,98.0 609.4,99.0 606.9,100.0 604.4,101.1 601.9,102.2 599.4,103.4 596.9,104.5 594.4,105.6 591.9,106.6 589.4,107.7 586.9,108.7 584.4,109.7 581.9,110.6 579.4,111.5 576.9,112.5 574.4,113.4 571.9,114.4 569.4,115.3 566.9,116.3 564.4,117.3 561.9,118.4 559.4,119.4 556.9,120.5 554.4,121.4 551.9,122.3 549.4,123.1 546.9,123.7 544.4,124.2 541.9,124.6 539.4,125.0 536.9,125.4 534.4,125.8 531.9,126.2 529.4,126.7 526.9,127.1 524.4,127.5 521.9,127.9 519.4,128.3 516.9,128.7 514.4,129.1 511.9,129.4 509.4,129.8 506.9,130.1 504.4,130.5 501.9,130.8 499.4,131.1 496.9,131.4 494.4,131.7 491.9,132.0 489.4,132.3 486.9,132.5 484.4,132.8 481.9,133.1 479.4,133.4 476.9,133.6 474.4,133.9 471.9,134.2 469.4,134.4 466.9,134.6 464.4,134.9 461.9,135.2 459.4,135.7 456.9,136.3Z" fill="#f9cb35"/><path d="M456.9,136.3 459.4,131.0 461.9,127.0 464.4,124.5 466.9,122.7 469.4,121.1 471.9,120.3 474.4,120.0 476.9,119.8 479.4,119.4 481.9,119.0 484.4,118.6 486.9,118.1 489.4,117.5 491.9,116.9 494.4,116.3 496.9,115.6 499.4,114.9 501.9,114.2 504.4,113.4 506.9,112.6 509.4,111.8 511.9,111.0 514.4,110.0 516.9,109.0 519.4,107.9 521.9,106.7 524.4,105.4 526.9,104.0 529.4,102.5 531.9,101.1 534.4,99.5 536.9,97.9 539.4,96.2 541.9,94.4 544.4,92.6 546.9,90.6 549.4,88.7 551.9,86.9 554.4,85.1 556.9,83.3 559.4,81.7 561.9,80.1 564.4,78.5 566.9,76.9 569.4,75.2 571.9,73.6 574.4,71.9 576.9,70.3 579.4,68.6 581.9,66.8 584.4,65.2 586.9,63.5 589.4,61.9 591.9,60.3 594.4,58.7 596.9,57.2 599.4,55.7 601.9,54.2 604.4,52.7 606.9,51.2 609.4,49.7 611.9,48.1 614.4,46.5 616.9,44.9 619.4,43.2 621.9,41.4 624.4,39.7 626.9,37.9 628.4,36.8 628.4,89.7 626.9,90.3 624.4,91.2 621.9,92.1 619.4,93.0 616.9,94.0 614.4,95.0 611.9,96.0 609.4,97.1 606.9,98.2 604.4,99.4 601.9,100.5 599.4,101.7 596.9,102.8 594.4,104.0 591.9,105.1 589.4,106.1 586.9,107.2 584.4,108.2 581.9,109.2 579.4,110.1 576.9,111.1 574.4,112.0 571.9,113.0 569.4,114.0 566.9,114.9 564.4,116.0 561.9,117.0 559.4,118.0 556.9,119.1 554.4,120.1 551.9,121.0 549.4,121.8 546.9,122.5 544.4,123.2 541.9,123.7 539.4,124.2 536.9,124.6 534.4,125.1 531.9,125.5 529.4,126.0 526.9,126.4 524.4,126.9 521.9,127.3 519.4,127.7 516.9,128.1 514.4,128.5 511.9,128.9 509.4,129.2 506.9,129.6 504.4,130.0 501.9,130.3 499.4,130.6 496.9,130.9 494.4,131.2 491.9,131.5 489.4,131.8 486.9,132.1 484.4,132.4 481.9,132.7 479.4,133.0 476.9,133.2 474.4,133.5 471.9,133.8 469.4,134.1 466.9,134.3 464.4,134.6 461.9,135.0 459.4,135.6 456.9,136.3Z" fill="#fbb81d"/><path d="M456.9,136.3 459.4,132.0 461.9,128.3 464.4,125.9 466.9,124.2 469.4,122.6 471.9,121.8 474.4,121.4 476.9,121.1 479.4,120.7 481.9,120.3 484.4,119.9 486.9,119.4 489.4,118.8 491.9,118.2 494.4,117.6 496.9,116.9 499.4,116.2 501.9,115.6 504.4,114.9 506.9,114.2 509.4,113.4 511.9,112.7 514.4,111.9 516.9,111.0 519.4,110.0 521.9,109.0 524.4,107.8 526.9,106.6 529.4,105.3 531.9,103.9 534.4,102.5 536.9,100.9 539.4,99.2 541.9,97.4 544.4,95.5 546.9,93.6 549.4,91.6 551.9,89.7 554.4,87.9 556.9,86.2 559.4,84.5 561.9,83.0 564.4,81.4 566.9,79.9 569.4,78.4 571.9,76.8 574.4,75.3 576.9,73.6 579.4,72.0 581.9,70.4 584.4,68.7 586.9,67.1 589.4,65.5 591.9,63.9 594.4,62.4 596.9,60.9 599.4,59.3 601.9,57.8 604.4,56.3 606.9,54.7 609.4,53.2 611.9,51.5 614.4,49.8 616.9,48.0 619.4,46.2 621.9,44.3 624.4,42.4 626.9,40.4 628.4,39.3 628.4,86.5 626.9,87.2 624.4,88.3 621.9,89.4 619.4,90.5 616.9,91.7 614.4,92.8 611.9,94.0 609.4,95.2 606.9,96.4 604.4,97.6 601.9,98.8 599.4,100.0 596.9,101.2 594.4,102.3 591.9,103.5 589.4,104.6 586.9,105.7 584.4,106.7 581.9,107.7 579.4,108.7 576.9,109.7 574.4,110.7 571.9,111.6 569.4,112.6 566.9,113.6 564.4,114.6 561.9,115.6 559.4,116.7 556.9,117.7 554.4,118.7 551.9,119.7 549.4,120.6 546.9,121.4 544.4,122.1 541.9,122.7 539.4,123.3 536.9,123.8 534.4,124.3 531.9,124.8 529.4,125.3 526.9,125.8 524.4,126.2 521.9,126.7 519.4,127.1 516.9,127.5 514.4,127.9 511.9,128.3 509.4,128.7 506.9,129.1 504.4,129.5 501.9,129.8 499.4,130.1 496.9,130.5 494.4,130.8 491.9,131.1 489.4,131.4 486.9,131.7 484.4,132.0 481.9,132.3 479.4,132.6 476.9,132.8 474.4,133.1 471.9,133.4 469.4,133.7 466.9,134.0 464.4,134.4 461.9,134.8 459.4,135.6 456.9,136.3Z" fill="#fca60c"/><path d="M456.9,136.3 459.4,132.7 461.9,129.2 464.4,126.9 466.9,125.2 469.4,123.6 471.9,122.8 474.4,122.4 476.9,122.1 479.4,121.7 481.9,121.3 484.4,120.9 486.9,120.3 489.4,119.7 491.9,119.2 494.4,118.6 496.9,117.9 499.4,117.3 501.9,116.6 504.4,116.0 506.9,115.3 509.4,114.7 511.9,114.0 514.4,113.3 516.9,112.5 519.4,111.6 521.9,110.7 524.4,109.7 526.9,108.5 529.4,107.3 531.9,106.0 534.4,104.7 536.9,103.1 539.4,101.5 541.9,99.7 544.4,97.8 546.9,95.8 549.4,93.9 551.9,92.0 554.4,90.2 556.9,88.5 559.4,86.9 561.9,85.3 564.4,83.8 566.9,82.3 569.4,80.8 571.9,79.3 574.4,77.8 576.9,76.2 579.4,74.7 581.9,73.1 584.4,71.5 586.9,69.9 589.4,68.3 591.9,66.8 594.4,65.2 596.9,63.7 599.4,62.1 601.9,60.6 604.4,59.0 606.9,57.5 609.4,55.8 611.9,54.1 614.4,52.4 616.9,50.5 619.4,48.6 621.9,46.7 624.4,44.7 626.9,42.6 628.4,41.4 628.4,84.0 626.9,84.7 624.4,86.0 621.9,87.3 619.4,88.5 616.9,89.8 614.4,91.1 611.9,92.3 609.4,93.6 606.9,94.8 604.4,96.1 601.9,97.3 599.4,98.6 596.9,99.8 594.4,101.0 591.9,102.2 589.4,103.3 586.9,104.4 584.4,105.5 581.9,106.5 579.4,107.6 576.9,108.6 574.4,109.6 571.9,110.6 569.4,111.5 566.9,112.5 564.4,113.5 561.9,114.6 559.4,115.6 556.9,116.7 554.4,117.7 551.9,118.7 549.4,119.7 546.9,120.5 544.4,121.3 541.9,122.0 539.4,122.6 536.9,123.2 534.4,123.7 531.9,124.2 529.4,124.7 526.9,125.2 524.4,125.7 521.9,126.1 519.4,126.6 516.9,127.0 514.4,127.5 511.9,127.9 509.4,128.3 506.9,128.7 504.4,129.0 501.9,129.4 499.4,129.8 496.9,130.1 494.4,130.4 491.9,130.7 489.4,131.0 486.9,131.3 484.4,131.6 481.9,131.9 479.4,132.2 476.9,132.5 474.4,132.8 471.9,133.1 469.4,133.4 466.9,133.8 464.4,134.2 461.9,134.7 459.4,135.5 456.9,136.3Z" fill="#fb9606"/><path d="M456.9,136.3 459.4,132.8 461.9,129.4 464.4,127.2 466.9,125.5 469.4,124.1 471.9,123.3 474.4,122.9 476.9,122.6 479.4,122.3 481.9,121.8 484.4,121.4 486.9,120.9 489.4,120.3 491.9,119.7 494.4,119.1 496.9,118.5 499.4,117.9 501.9,117.3 504.4,116.6 506.9,116.0 509.4,115.3 511.9,114.7 514.4,114.0 516.9,113.2 519.4,112.4 521.9,111.4 524.4,110.5 526.9,109.4 529.4,108.2 531.9,107.0 534.4,105.6 536.9,104.2 539.4,102.6 541.9,100.8 544.4,99.0 546.9,97.1 549.4,95.2 551.9,93.4 554.4,91.6 556.9,90.0 559.4,88.4 561.9,86.8 564.4,85.3 566.9,83.8 569.4,82.2 571.9,80.7 574.4,79.2 576.9,77.6 579.4,76.1 581.9,74.5 584.4,73.0 586.9,71.4 589.4,69.9 591.9,68.3 594.4,66.8 596.9,65.2 599.4,63.7 601.9,62.1 604.4,60.6 606.9,59.0 609.4,57.3 611.9,55.6 614.4,53.9 616.9,52.0 619.4,50.1 621.9,48.2 624.4,46.2 626.9,44.2 628.4,43.0 628.4,82.5 626.9,83.3 624.4,84.6 621.9,85.9 619.4,87.2 616.9,88.5 614.4,89.8 611.9,91.1 609.4,92.4 606.9,93.7 604.4,95.0 601.9,96.3 599.4,97.6 596.9,98.9 594.4,100.1 591.9,101.3 589.4,102.5 586.9,103.6 584.4,104.7 581.9,105.8 579.4,106.8 576.9,107.9 574.4,108.9 571.9,109.9 569.4,110.9 566.9,112.0 564.4,113.0 561.9,114.1 559.4,115.1 556.9,116.2 554.4,117.3 551.9,118.3 549.4,119.2 546.9,120.1 544.4,120.8 541.9,121.5 539.4,122.2 536.9,122.8 534.4,123.3 531.9,123.8 529.4,124.4 526.9,124.9 524.4,125.3 521.9,125.8 519.4,126.3 516.9,126.7 514.4,127.2 511.9,127.6 509.4,128.0 506.9,128.4 504.4,128.8 501.9,129.2 499.4,129.5 496.9,129.9 494.4,130.2 491.9,130.5 489.4,130.8 486.9,131.1 484.4,131.4 481.9,131.7 479.4,132.0 476.9,132.3 474.4,132.6 471.9,132.9 469.4,133.3 466.9,133.7 464.4,134.0 461.9,134.6 459.4,135.4 456.9,136.3Z" fill="#f8850f"/><path d="M456.9,136.3 459.4,132.9 461.9,129.7 464.4,127.5 466.9,125.9 469.4,124.5 471.9,123.8 474.4,123.4 476.9,123.1 479.4,122.8 481.9,122.4 484.4,121.9 486.9,121.4 489.4,120.9 491.9,120.3 494.4,119.7 496.9,119.1 499.4,118.5 501.9,117.9 504.4,117.3 506.9,116.6 509.4,116.0 511.9,115.3 514.4,114.7 516.9,113.9 519.4,113.1 521.9,112.2 524.4,111.3 526.9,110.2 529.4,109.1 531.9,107.9 534.4,106.6 536.9,105.2 539.4,103.7 541.9,102.0 544.4,100.3 546.9,98.4 549.4,96.6 551.9,94.8 554.4,93.1 556.9,91.5 559.4,89.8 561.9,88.3 564.4,86.7 566.9,85.2 569.4,83.6 571.9,82.1 574.4,80.6 576.9,79.1 579.4,77.5 581.9,76.0 584.4,74.5 586.9,73.0 589.4,71.4 591.9,69.9 594.4,68.3 596.9,66.8 599.4,65.2 601.9,63.7 604.4,62.1 606.9,60.5 609.4,58.8 611.9,57.1 614.4,55.4 616.9,53.5 619.4,51.7 621.9,49.8 624.4,47.8 626.9,45.9 628.4,44.7 628.4,81.1 626.9,81.9 624.4,83.2 621.9,84.6 619.4,85.9 616.9,87.2 614.4,88.6 611.9,89.9 609.4,91.3 606.9,92.6 604.4,94.0 601.9,95.3 599.4,96.6 596.9,97.9 594.4,99.2 591.9,100.5 589.4,101.7 586.9,102.8 584.4,103.9 581.9,105.0 579.4,106.1 576.9,107.2 574.4,108.2 571.9,109.3 569.4,110.3 566.9,111.4 564.4,112.4 561.9,113.5 559.4,114.6 556.9,115.7 554.4,116.8 551.9,117.8 549.4,118.7 546.9,119.6 544.4,120.4 541.9,121.1 539.4,121.7 536.9,122.3 534.4,122.9 531.9,123.4 529.4,124.0 526.9,124.5 524.4,125.0 521.9,125.5 519.4,126.0 516.9,126.4 514.4,126.9 511.9,127.3 509.4,127.7 506.9,128.1 504.4,128.5 501.9,128.9 499.4,129.3 496.9,129.6 494.4,130.0 491.9,130.3 489.4,130.6 486.9,130.9 484.4,131.2 481.9,131.5 479.4,131.9 476.9,132.2 474.4,132.5 471.9,132.8 469.4,133.1 466.9,133.5 464.4,133.9 461.9,134.5 459.4,135.4 456.9,136.3Z" fill="#f3761b"/><path d="M456.9,136.3 459.4,133.1 461.9,129.9 464.4,127.8 466.9,126.3 469.4,124.9 471.9,124.2 474.4,123.9 476.9,123.6 479.4,123.3 481.9,122.9 484.4,122.5 486.9,122.0 489.4,121.4 491.9,120.9 494.4,120.3 496.9,119.7 499.4,119.1 501.9,118.5 504.4,117.9 506.9,117.3 509.4,116.7 511.9,116.0 514.4,115.3 516.9,114.6 519.4,113.8 521.9,113.0 524.4,112.1 526.9,111.1 529.4,110.0 531.9,108.9 534.4,107.6 536.9,106.3 539.4,104.8 541.9,103.2 544.4,101.5 546.9,99.7 549.4,98.0 551.9,96.3 554.4,94.6 556.9,92.9 559.4,91.3 561.9,89.8 564.4,88.2 566.9,86.6 569.4,85.0 571.9,83.5 574.4,82.0 576.9,80.5 579.4,79.0 581.9,77.5 584.4,76.0 586.9,74.5 589.4,73.0 591.9,71.4 594.4,69.9 596.9,68.3 599.4,66.8 601.9,65.2 604.4,63.6 606.9,62.0 609.4,60.3 611.9,58.6 614.4,56.9 616.9,55.1 619.4,53.2 621.9,51.3 624.4,49.4 626.9,47.5 628.4,46.3 628.4,79.7 626.9,80.5 624.4,81.8 621.9,83.2 619.4,84.6 616.9,86.0 614.4,87.4 611.9,88.7 609.4,90.1 606.9,91.5 604.4,92.9 601.9,94.3 599.4,95.7 596.9,97.0 594.4,98.3 591.9,99.6 589.4,100.8 586.9,102.0 584.4,103.2 581.9,104.3 579.4,105.4 576.9,106.5 574.4,107.6 571.9,108.6 569.4,109.7 566.9,110.8 564.4,111.9 561.9,113.0 559.4,114.1 556.9,115.2 554.4,116.3 551.9,117.3 549.4,118.3 546.9,119.1 544.4,119.9 541.9,120.6 539.4,121.3 536.9,121.9 534.4,122.5 531.9,123.1 529.4,123.6 526.9,124.1 524.4,124.7 521.9,125.2 519.4,125.6 516.9,126.1 514.4,126.6 511.9,127.0 509.4,127.4 506.9,127.9 504.4,128.3 501.9,128.6 499.4,129.0 496.9,129.4 494.4,129.7 491.9,130.1 489.4,130.4 486.9,130.7 484.4,131.0 481.9,131.3 479.4,131.7 476.9,132.0 474.4,132.3 471.9,132.6 469.4,133.0 466.9,133.4 464.4,133.8 461.9,134.4 459.4,135.3 456.9,136.3Z" fill="#ec6726"/><path d="M456.9,136.3 459.4,133.2 461.9,130.1 464.4,128.1 466.9,126.7 469.4,125.4 471.9,124.7 474.4,124.4 476.9,124.1 479.4,123.8 481.9,123.4 484.4,123.0 486.9,122.5 489.4,122.0 491.9,121.5 494.4,120.9 496.9,120.3 499.4,119.7 501.9,119.1 504.4,118.5 506.9,117.9 509.4,117.3 511.9,116.7 514.4,116.0 516.9,115.3 519.4,114.6 521.9,113.7 524.4,112.9 526.9,111.9 529.4,110.9 531.9,109.8 534.4,108.6 536.9,107.3 539.4,105.9 541.9,104.4 544.4,102.7 546.9,101.1 549.4,99.4 551.9,97.7 554.4,96.0 556.9,94.4 559.4,92.8 561.9,91.2 564.4,89.6 566.9,88.0 569.4,86.4 571.9,84.9 574.4,83.4 576.9,81.9 579.4,80.4 581.9,78.9 584.4,77.5 586.9,76.0 589.4,74.5 591.9,73.0 594.4,71.5 596.9,69.9 599.4,68.3 601.9,66.7 604.4,65.1 606.9,63.5 609.4,61.8 611.9,60.1 614.4,58.3 616.9,56.6 619.4,54.7 621.9,52.9 624.4,51.0 626.9,49.1 628.4,48.0 628.4,78.2 626.9,79.1 624.4,80.5 621.9,81.9 619.4,83.3 616.9,84.7 614.4,86.1 611.9,87.5 609.4,89.0 606.9,90.4 604.4,91.8 601.9,93.3 599.4,94.7 596.9,96.1 594.4,97.4 591.9,98.7 589.4,100.0 586.9,101.2 584.4,102.4 581.9,103.6 579.4,104.7 576.9,105.8 574.4,106.9 571.9,108.0 569.4,109.1 566.9,110.2 564.4,111.3 561.9,112.5 559.4,113.6 556.9,114.7 554.4,115.8 551.9,116.8 549.4,117.8 546.9,118.7 544.4,119.4 541.9,120.2 539.4,120.8 536.9,121.5 534.4,122.1 531.9,122.7 529.4,123.2 526.9,123.8 524.4,124.3 521.9,124.8 519.4,125.3 516.9,125.8 514.4,126.3 511.9,126.7 509.4,127.2 506.9,127.6 504.4,128.0 501.9,128.4 499.4,128.8 496.9,129.1 494.4,129.5 491.9,129.8 489.4,130.2 486.9,130.5 484.4,130.8 481.9,131.2 479.4,131.5 476.9,131.8 474.4,132.1 471.9,132.4 469.4,132.8 466.9,133.2 464.4,133.6 461.9,134.3 459.4,135.3 456.9,136.3Z" fill="#e45a31"/><path d="M456.9,136.3 459.4,133.3 461.9,130.4 464.4,128.4 466.9,127.1 469.4,125.8 471.9,125.2 474.4,124.9 476.9,124.6 479.4,124.3 481.9,123.9 484.4,123.5 486.9,123.1 489.4,122.6 491.9,122.1 494.4,121.5 496.9,120.9 499.4,120.4 501.9,119.8 504.4,119.2 506.9,118.6 509.4,118.0 511.9,117.4 514.4,116.7 516.9,116.0 519.4,115.3 521.9,114.5 524.4,113.7 526.9,112.7 529.4,111.8 531.9,110.7 534.4,109.6 536.9,108.4 539.4,107.0 541.9,105.5 544.4,104.0 546.9,102.4 549.4,100.7 551.9,99.1 554.4,97.5 556.9,95.9 559.4,94.3 561.9,92.7 564.4,91.1 566.9,89.5 569.4,87.8 571.9,86.3 574.4,84.7 576.9,83.3 579.4,81.8 581.9,80.4 584.4,79.0 586.9,77.5 589.4,76.0 591.9,74.5 594.4,73.0 596.9,71.4 599.4,69.9 601.9,68.2 604.4,66.6 606.9,65.0 609.4,63.3 611.9,61.6 614.4,59.8 616.9,58.1 619.4,56.3 621.9,54.4 624.4,52.6 626.9,50.7 628.4,49.6 628.4,76.8 626.9,77.6 624.4,79.1 621.9,80.5 619.4,82.0 616.9,83.4 614.4,84.9 611.9,86.4 609.4,87.8 606.9,89.3 604.4,90.8 601.9,92.2 599.4,93.7 596.9,95.1 594.4,96.5 591.9,97.9 589.4,99.2 586.9,100.4 584.4,101.6 581.9,102.8 579.4,104.0 576.9,105.1 574.4,106.2 571.9,107.4 569.4,108.5 566.9,109.6 564.4,110.8 561.9,112.0 559.4,113.1 556.9,114.2 554.4,115.3 551.9,116.4 549.4,117.3 546.9,118.2 544.4,119.0 541.9,119.7 539.4,120.4 536.9,121.0 534.4,121.7 531.9,122.3 529.4,122.8 526.9,123.4 524.4,124.0 521.9,124.5 519.4,125.0 516.9,125.5 514.4,126.0 511.9,126.4 509.4,126.9 506.9,127.3 504.4,127.7 501.9,128.1 499.4,128.5 496.9,128.9 494.4,129.3 491.9,129.6 489.4,129.9 486.9,130.3 484.4,130.6 481.9,131.0 479.4,131.3 476.9,131.6 474.4,131.9 471.9,132.3 469.4,132.6 466.9,133.1 464.4,133.5 461.9,134.2 459.4,135.2 456.9,136.3Z" fill="#d94d3d"/><path d="M456.9,136.3 459.4,133.4 461.9,130.5 464.4,128.7 466.9,127.4 469.4,126.2 471.9,125.5 474.4,125.2 476.9,125.0 479.4,124.7 481.9,124.3 484.4,123.9 486.9,123.5 489.4,123.0 491.9,122.4 494.4,121.9 496.9,121.3 499.4,120.7 501.9,120.1 504.4,119.6 506.9,119.0 509.4,118.4 511.9,117.8 514.4,117.1 516.9,116.5 519.4,115.7 521.9,115.0 524.4,114.1 526.9,113.3 529.4,112.3 531.9,111.3 534.4,110.2 536.9,109.0 539.4,107.7 541.9,106.3 544.4,104.8 546.9,103.2 549.4,101.6 551.9,100.0 554.4,98.4 556.9,96.9 559.4,95.3 561.9,93.7 564.4,92.0 566.9,90.4 569.4,88.7 571.9,87.2 574.4,85.6 576.9,84.1 579.4,82.7 581.9,81.2 584.4,79.8 586.9,78.4 589.4,76.9 591.9,75.4 594.4,73.8 596.9,72.3 599.4,70.7 601.9,69.1 604.4,67.4 606.9,65.8 609.4,64.1 611.9,62.4 614.4,60.7 616.9,58.9 619.4,57.1 621.9,55.3 624.4,53.5 626.9,51.7 628.4,50.6 628.4,75.5 626.9,76.4 624.4,77.9 621.9,79.3 619.4,80.8 616.9,82.3 614.4,83.8 611.9,85.3 609.4,86.8 606.9,88.3 604.4,89.8 601.9,91.3 599.4,92.8 596.9,94.3 594.4,95.7 591.9,97.1 589.4,98.4 586.9,99.6 584.4,100.9 581.9,102.1 579.4,103.2 576.9,104.4 574.4,105.6 571.9,106.7 569.4,107.9 566.9,109.1 564.4,110.3 561.9,111.4 559.4,112.6 556.9,113.8 554.4,114.9 551.9,115.9 549.4,116.9 546.9,117.8 544.4,118.6 541.9,119.3 539.4,120.0 536.9,120.7 534.4,121.3 531.9,122.0 529.4,122.6 526.9,123.1 524.4,123.7 521.9,124.2 519.4,124.8 516.9,125.3 514.4,125.7 511.9,126.2 509.4,126.7 506.9,127.1 504.4,127.5 501.9,127.9 499.4,128.3 496.9,128.7 494.4,129.1 491.9,129.5 489.4,129.8 486.9,130.2 484.4,130.5 481.9,130.8 479.4,131.2 476.9,131.5 474.4,131.8 471.9,132.1 469.4,132.5 466.9,132.9 464.4,133.4 461.9,134.1 459.4,135.2 456.9,136.3Z" fill="#ce4347"/><path d="M456.9,136.3 459.4,133.5 461.9,130.7 464.4,128.9 466.9,127.6 469.4,126.4 471.9,125.8 474.4,125.6 476.9,125.3 479.4,125.0 481.9,124.7 484.4,124.3 486.9,123.8 489.4,123.3 491.9,122.8 494.4,122.2 496.9,121.7 499.4,121.1 501.9,120.5 504.4,119.9 506.9,119.3 509.4,118.7 511.9,118.1 514.4,117.5 516.9,116.8 519.4,116.1 521.9,115.3 524.4,114.5 526.9,113.7 529.4,112.8 531.9,111.8 534.4,110.7 536.9,109.6 539.4,108.3 541.9,106.9 544.4,105.5 546.9,103.9 549.4,102.4 551.9,100.8 554.4,99.2 556.9,97.7 559.4,96.1 561.9,94.4 564.4,92.8 566.9,91.2 569.4,89.5 571.9,87.9 574.4,86.4 576.9,84.9 579.4,83.4 581.9,81.9 584.4,80.5 586.9,79.0 589.4,77.5 591.9,76.0 594.4,74.5 596.9,72.9 599.4,71.3 601.9,69.7 604.4,68.0 606.9,66.4 609.4,64.7 611.9,63.1 614.4,61.3 616.9,59.6 619.4,57.9 621.9,56.1 624.4,54.3 626.9,52.5 628.4,51.4 628.4,74.2 626.9,75.1 624.4,76.7 621.9,78.2 619.4,79.7 616.9,81.2 614.4,82.8 611.9,84.3 609.4,85.8 606.9,87.4 604.4,88.9 601.9,90.4 599.4,91.9 596.9,93.4 594.4,94.8 591.9,96.2 589.4,97.6 586.9,98.9 584.4,100.1 581.9,101.3 579.4,102.5 576.9,103.7 574.4,104.9 571.9,106.1 569.4,107.3 566.9,108.5 564.4,109.7 561.9,110.9 559.4,112.1 556.9,113.3 554.4,114.4 551.9,115.5 549.4,116.5 546.9,117.4 544.4,118.2 541.9,119.0 539.4,119.7 536.9,120.4 534.4,121.0 531.9,121.7 529.4,122.3 526.9,122.9 524.4,123.5 521.9,124.0 519.4,124.5 516.9,125.0 514.4,125.5 511.9,126.0 509.4,126.4 506.9,126.9 504.4,127.3 501.9,127.7 499.4,128.1 496.9,128.5 494.4,128.9 491.9,129.3 489.4,129.7 486.9,130.1 484.4,130.4 481.9,130.8 479.4,131.1 476.9,131.4 474.4,131.7 471.9,132.0 469.4,132.3 466.9,132.8 464.4,133.3 461.9,134.0 459.4,135.1 456.9,136.3Z" fill="#c13a50"/><path d="M456.9,136.3 459.4,133.5 461.9,130.8 464.4,129.1 466.9,127.9 469.4,126.7 471.9,126.2 474.4,125.9 476.9,125.6 479.4,125.3 481.9,125.0 484.4,124.6 486.9,124.2 489.4,123.7 491.9,123.1 494.4,122.6 496.9,122.0 499.4,121.4 501.9,120.8 504.4,120.2 506.9,119.6 509.4,119.0 511.9,118.4 514.4,117.8 516.9,117.2 519.4,116.5 521.9,115.7 524.4,114.9 526.9,114.1 529.4,113.2 531.9,112.3 534.4,111.2 536.9,110.1 539.4,108.9 541.9,107.6 544.4,106.2 546.9,104.7 549.4,103.1 551.9,101.6 554.4,100.0 556.9,98.5 559.4,96.9 561.9,95.2 564.4,93.6 566.9,91.9 569.4,90.3 571.9,88.7 574.4,87.1 576.9,85.6 579.4,84.1 581.9,82.7 584.4,81.2 586.9,79.7 589.4,78.2 591.9,76.7 594.4,75.1 596.9,73.5 599.4,71.9 601.9,70.3 604.4,68.7 606.9,67.0 609.4,65.4 611.9,63.7 614.4,62.0 616.9,60.3 619.4,58.6 621.9,56.8 624.4,55.1 626.9,53.3 628.4,52.3 628.4,73.0 626.9,73.9 624.4,75.5 621.9,77.0 619.4,78.6 616.9,80.2 614.4,81.7 611.9,83.3 609.4,84.8 606.9,86.4 604.4,87.9 601.9,89.5 599.4,91.0 596.9,92.5 594.4,94.0 591.9,95.4 589.4,96.8 586.9,98.1 584.4,99.4 581.9,100.6 579.4,101.8 576.9,103.0 574.4,104.3 571.9,105.5 569.4,106.7 566.9,107.9 564.4,109.2 561.9,110.4 559.4,111.6 556.9,112.8 554.4,113.9 551.9,115.0 549.4,116.0 546.9,117.0 544.4,117.8 541.9,118.6 539.4,119.4 536.9,120.1 534.4,120.7 531.9,121.4 529.4,122.0 526.9,122.6 524.4,123.2 521.9,123.8 519.4,124.3 516.9,124.8 514.4,125.3 511.9,125.8 509.4,126.2 506.9,126.7 504.4,127.1 501.9,127.5 499.4,128.0 496.9,128.4 494.4,128.8 491.9,129.2 489.4,129.6 486.9,130.0 484.4,130.3 481.9,130.7 479.4,131.0 476.9,131.3 474.4,131.5 471.9,131.8 469.4,132.2 466.9,132.7 464.4,133.2 461.9,133.9 459.4,135.1 456.9,136.3Z" fill="#b43359"/><path d="M456.9,136.3 459.4,133.6 461.9,131.0 464.4,129.3 466.9,128.1 469.4,127.0 471.9,126.5 474.4,126.2 476.9,126.0 479.4,125.7 481.9,125.4 484.4,125.0 486.9,124.5 489.4,124.0 491.9,123.5 494.4,122.9 496.9,122.3 499.4,121.7 501.9,121.1 504.4,120.5 506.9,119.9 509.4,119.3 511.9,118.8 514.4,118.1 516.9,117.5 519.4,116.8 521.9,116.1 524.4,115.3 526.9,114.5 529.4,113.7 531.9,112.7 534.4,111.8 536.9,110.7 539.4,109.5 541.9,108.2 544.4,106.9 546.9,105.4 549.4,103.9 551.9,102.4 554.4,100.8 556.9,99.2 559.4,97.7 561.9,96.0 564.4,94.4 566.9,92.7 569.4,91.1 571.9,89.5 574.4,87.9 576.9,86.4 579.4,84.8 581.9,83.4 584.4,81.9 586.9,80.4 589.4,78.8 591.9,77.3 594.4,75.7 596.9,74.2 599.4,72.6 601.9,70.9 604.4,69.3 606.9,67.7 609.4,66.0 611.9,64.4 614.4,62.7 616.9,61.0 619.4,59.3 621.9,57.6 624.4,55.9 626.9,54.1 628.4,53.1 628.4,71.7 626.9,72.7 624.4,74.3 621.9,75.9 619.4,77.5 616.9,79.1 614.4,80.7 611.9,82.3 609.4,83.9 606.9,85.4 604.4,87.0 601.9,88.6 599.4,90.1 596.9,91.7 594.4,93.2 591.9,94.6 589.4,96.0 586.9,97.3 584.4,98.6 581.9,99.9 579.4,101.1 576.9,102.4 574.4,103.6 571.9,104.9 569.4,106.1 566.9,107.4 564.4,108.6 561.9,109.9 559.4,111.1 556.9,112.3 554.4,113.5 551.9,114.6 549.4,115.6 546.9,116.6 544.4,117.4 541.9,118.3 539.4,119.0 536.9,119.8 534.4,120.4 531.9,121.1 529.4,121.7 526.9,122.4 524.4,123.0 521.9,123.5 519.4,124.1 516.9,124.6 514.4,125.1 511.9,125.5 509.4,126.0 506.9,126.4 504.4,126.9 501.9,127.3 499.4,127.8 496.9,128.2 494.4,128.6 491.9,129.1 489.4,129.5 486.9,129.9 484.4,130.2 481.9,130.6 479.4,130.9 476.9,131.1 474.4,131.4 471.9,131.7 469.4,132.0 466.9,132.5 464.4,133.1 461.9,133.8 459.4,135.1 456.9,136.3Z" fill="#a62d60"/><path d="M456.9,136.3 459.4,133.7 461.9,131.2 464.4,129.5 466.9,128.4 469.4,127.3 471.9,126.8 474.4,126.5 476.9,126.3 479.4,126.0 481.9,125.7 484.4,125.3 486.9,124.9 489.4,124.3 491.9,123.8 494.4,123.2 496.9,122.6 499.4,122.0 501.9,121.4 504.4,120.8 506.9,120.3 509.4,119.7 511.9,119.1 514.4,118.5 516.9,117.8 519.4,117.2 521.9,116.5 524.4,115.7 526.9,114.9 529.4,114.1 531.9,113.2 534.4,112.3 536.9,111.2 539.4,110.1 541.9,108.9 544.4,107.5 546.9,106.1 549.4,104.7 551.9,103.2 554.4,101.6 556.9,100.0 559.4,98.4 561.9,96.8 564.4,95.2 566.9,93.5 569.4,91.8 571.9,90.2 574.4,88.6 576.9,87.1 579.4,85.6 581.9,84.1 584.4,82.5 586.9,81.0 589.4,79.5 591.9,77.9 594.4,76.4 596.9,74.8 599.4,73.2 601.9,71.6 604.4,69.9 606.9,68.3 609.4,66.7 611.9,65.0 614.4,63.4 616.9,61.7 619.4,60.0 621.9,58.3 624.4,56.6 626.9,54.9 628.4,53.9 628.4,70.5 626.9,71.5 624.4,73.1 621.9,74.7 619.4,76.4 616.9,78.0 614.4,79.6 611.9,81.2 609.4,82.9 606.9,84.5 604.4,86.1 601.9,87.7 599.4,89.3 596.9,90.8 594.4,92.3 591.9,93.8 589.4,95.2 586.9,96.6 584.4,97.9 581.9,99.2 579.4,100.4 576.9,101.7 574.4,103.0 571.9,104.2 569.4,105.5 566.9,106.8 564.4,108.1 561.9,109.4 559.4,110.7 556.9,111.9 554.4,113.0 551.9,114.1 549.4,115.2 546.9,116.2 544.4,117.1 541.9,117.9 539.4,118.7 536.9,119.4 534.4,120.1 531.9,120.8 529.4,121.5 526.9,122.1 524.4,122.7 521.9,123.3 519.4,123.8 516.9,124.4 514.4,124.9 511.9,125.3 509.4,125.8 506.9,126.2 504.4,126.7 501.9,127.1 499.4,127.6 496.9,128.0 494.4,128.5 491.9,128.9 489.4,129.4 486.9,129.8 484.4,130.2 481.9,130.5 479.4,130.8 476.9,131.0 474.4,131.3 471.9,131.5 469.4,131.9 466.9,132.4 464.4,133.0 461.9,133.8 459.4,135.0 456.9,136.3Z" fill="#982766"/><path d="M456.9,136.3 459.4,133.8 461.9,131.3 464.4,129.7 466.9,128.6 469.4,127.6 471.9,127.1 474.4,126.8 476.9,126.6 479.4,126.3 481.9,126.0 484.4,125.7 486.9,125.2 489.4,124.7 491.9,124.1 494.4,123.6 496.9,123.0 499.4,122.3 501.9,121.7 504.4,121.2 506.9,120.6 509.4,120.0 511.9,119.4 514.4,118.8 516.9,118.2 519.4,117.5 521.9,116.8 524.4,116.1 526.9,115.3 529.4,114.5 531.9,113.7 534.4,112.7 536.9,111.8 539.4,110.7 541.9,109.5 544.4,108.2 546.9,106.8 549.4,105.4 551.9,103.9 554.4,102.4 556.9,100.8 559.4,99.2 561.9,97.6 564.4,95.9 566.9,94.2 569.4,92.6 571.9,91.0 574.4,89.4 576.9,87.8 579.4,86.3 581.9,84.7 584.4,83.2 586.9,81.7 589.4,80.1 591.9,78.6 594.4,77.0 596.9,75.4 599.4,73.8 601.9,72.2 604.4,70.5 606.9,68.9 609.4,67.3 611.9,65.6 614.4,64.0 616.9,62.3 619.4,60.7 621.9,59.0 624.4,57.4 626.9,55.7 628.4,54.7 628.4,69.3 626.9,70.3 624.4,72.0 621.9,73.6 619.4,75.3 616.9,76.9 614.4,78.6 611.9,80.2 609.4,81.9 606.9,83.5 604.4,85.1 601.9,86.8 599.4,88.4 596.9,89.9 594.4,91.5 591.9,93.0 589.4,94.4 586.9,95.8 584.4,97.1 581.9,98.4 579.4,99.7 576.9,101.0 574.4,102.3 571.9,103.6 569.4,104.9 566.9,106.3 564.4,107.6 561.9,108.9 559.4,110.2 556.9,111.4 554.4,112.6 551.9,113.7 549.4,114.8 546.9,115.8 544.4,116.7 541.9,117.5 539.4,118.4 536.9,119.1 534.4,119.8 531.9,120.5 529.4,121.2 526.9,121.9 524.4,122.5 521.9,123.1 519.4,123.6 516.9,124.1 514.4,124.6 511.9,125.1 509.4,125.5 506.9,126.0 504.4,126.5 501.9,126.9 499.4,127.4 496.9,127.9 494.4,128.3 491.9,128.8 489.4,129.2 486.9,129.7 484.4,130.0 481.9,130.4 479.4,130.6 476.9,130.9 474.4,131.1 471.9,131.4 469.4,131.7 466.9,132.3 464.4,132.9 461.9,133.7 459.4,135.0 456.9,136.3Z" fill="#8a226a"/><path d="M456.9,136.3 459.4,133.8 461.9,131.4 464.4,129.9 466.9,128.8 469.4,127.8 471.9,127.3 474.4,127.1 476.9,126.8 479.4,126.5 481.9,126.2 484.4,125.9 486.9,125.4 489.4,124.9 491.9,124.4 494.4,123.8 496.9,123.2 499.4,122.6 501.9,122.0 504.4,121.4 506.9,120.9 509.4,120.3 511.9,119.7 514.4,119.1 516.9,118.5 519.4,117.9 521.9,117.2 524.4,116.5 526.9,115.7 529.4,114.9 531.9,114.0 534.4,113.1 536.9,112.1 539.4,111.1 541.9,109.9 544.4,108.6 546.9,107.3 549.4,105.9 551.9,104.4 554.4,102.9 556.9,101.4 559.4,99.8 561.9,98.2 564.4,96.6 566.9,94.9 569.4,93.3 571.9,91.7 574.4,90.1 576.9,88.5 579.4,86.9 581.9,85.4 584.4,83.8 586.9,82.3 589.4,80.7 591.9,79.1 594.4,77.5 596.9,75.9 599.4,74.3 601.9,72.7 604.4,71.0 606.9,69.4 609.4,67.7 611.9,66.1 614.4,64.4 616.9,62.8 619.4,61.1 621.9,59.5 624.4,57.8 626.9,56.1 628.4,55.1 628.4,68.3 626.9,69.3 624.4,71.0 621.9,72.7 619.4,74.3 616.9,76.0 614.4,77.6 611.9,79.3 609.4,80.9 606.9,82.6 604.4,84.2 601.9,85.8 599.4,87.5 596.9,89.0 594.4,90.6 591.9,92.1 589.4,93.6 586.9,95.0 584.4,96.4 581.9,97.7 579.4,99.1 576.9,100.4 574.4,101.7 571.9,103.1 569.4,104.4 566.9,105.8 564.4,107.1 561.9,108.4 559.4,109.7 556.9,111.0 554.4,112.2 551.9,113.3 549.4,114.4 546.9,115.4 544.4,116.3 541.9,117.2 539.4,118.0 536.9,118.8 534.4,119.5 531.9,120.2 529.4,120.9 526.9,121.6 524.4,122.2 521.9,122.8 519.4,123.4 516.9,123.9 514.4,124.4 511.9,124.9 509.4,125.3 506.9,125.8 504.4,126.2 501.9,126.7 499.4,127.2 496.9,127.6 494.4,128.1 491.9,128.6 489.4,129.0 486.9,129.4 484.4,129.8 481.9,130.1 479.4,130.4 476.9,130.7 474.4,130.9 471.9,131.2 469.4,131.6 466.9,132.1 464.4,132.7 461.9,133.6 459.4,134.9 456.9,136.3Z" fill="#7a1d6d"/><path d="M456.9,136.3 459.4,133.9 461.9,131.6 464.4,130.1 466.9,129.0 469.4,128.1 471.9,127.6 474.4,127.3 476.9,127.0 479.4,126.8 481.9,126.4 484.4,126.1 486.9,125.6 489.4,125.1 491.9,124.6 494.4,124.0 496.9,123.5 499.4,122.9 501.9,122.3 504.4,121.7 506.9,121.2 509.4,120.6 511.9,120.0 514.4,119.4 516.9,118.8 519.4,118.2 521.9,117.5 524.4,116.8 526.9,116.0 529.4,115.2 531.9,114.4 534.4,113.5 536.9,112.5 539.4,111.5 541.9,110.3 544.4,109.1 546.9,107.8 549.4,106.4 551.9,105.0 554.4,103.5 556.9,102.0 559.4,100.4 561.9,98.8 564.4,97.2 566.9,95.6 569.4,94.0 571.9,92.3 574.4,90.7 576.9,89.1 579.4,87.6 581.9,86.0 584.4,84.4 586.9,82.9 589.4,81.3 591.9,79.7 594.4,78.1 596.9,76.4 599.4,74.8 601.9,73.2 604.4,71.5 606.9,69.9 609.4,68.2 611.9,66.5 614.4,64.9 616.9,63.2 619.4,61.6 621.9,59.9 624.4,58.2 626.9,56.6 628.4,55.6 628.4,67.3 626.9,68.3 624.4,70.0 621.9,71.7 619.4,73.3 616.9,75.0 614.4,76.7 611.9,78.3 609.4,80.0 606.9,81.6 604.4,83.3 601.9,84.9 599.4,86.5 596.9,88.2 594.4,89.7 591.9,91.3 589.4,92.8 586.9,94.2 584.4,95.6 581.9,97.0 579.4,98.4 576.9,99.8 574.4,101.2 571.9,102.5 569.4,103.9 566.9,105.3 564.4,106.6 561.9,108.0 559.4,109.3 556.9,110.5 554.4,111.7 551.9,112.9 549.4,114.0 546.9,115.0 544.4,115.9 541.9,116.8 539.4,117.7 536.9,118.5 534.4,119.2 531.9,119.9 529.4,120.6 526.9,121.3 524.4,121.9 521.9,122.5 519.4,123.1 516.9,123.6 514.4,124.1 511.9,124.6 509.4,125.1 506.9,125.5 504.4,126.0 501.9,126.5 499.4,126.9 496.9,127.4 494.4,127.9 491.9,128.3 489.4,128.8 486.9,129.2 484.4,129.6 481.9,129.9 479.4,130.2 476.9,130.5 474.4,130.8 471.9,131.0 469.4,131.4 466.9,132.0 464.4,132.6 461.9,133.5 459.4,134.9 456.9,136.3Z" fill="#6c186e"/><path d="M456.9,136.3 459.4,134.0 461.9,131.7 464.4,130.2 466.9,129.2 469.4,128.3 471.9,127.8 474.4,127.5 476.9,127.3 479.4,127.0 481.9,126.6 484.4,126.2 486.9,125.8 489.4,125.3 491.9,124.8 494.4,124.3 496.9,123.7 499.4,123.1 501.9,122.6 504.4,122.0 506.9,121.5 509.4,120.9 511.9,120.3 514.4,119.8 516.9,119.2 519.4,118.5 521.9,117.9 524.4,117.1 526.9,116.4 529.4,115.6 531.9,114.8 534.4,113.9 536.9,112.9 539.4,111.9 541.9,110.8 544.4,109.6 546.9,108.3 549.4,106.9 551.9,105.5 554.4,104.1 556.9,102.6 559.4,101.0 561.9,99.5 564.4,97.9 566.9,96.3 569.4,94.6 571.9,93.0 574.4,91.4 576.9,89.8 579.4,88.2 581.9,86.6 584.4,85.0 586.9,83.4 589.4,81.8 591.9,80.2 594.4,78.6 596.9,77.0 599.4,75.3 601.9,73.6 604.4,72.0 606.9,70.3 609.4,68.7 611.9,67.0 614.4,65.3 616.9,63.7 619.4,62.0 621.9,60.3 624.4,58.7 626.9,57.0 628.4,56.0 628.4,66.4 626.9,67.4 624.4,69.0 621.9,70.7 619.4,72.4 616.9,74.0 614.4,75.7 611.9,77.4 609.4,79.0 606.9,80.7 604.4,82.3 601.9,84.0 599.4,85.6 596.9,87.3 594.4,88.9 591.9,90.4 589.4,92.0 586.9,93.4 584.4,94.9 581.9,96.3 579.4,97.8 576.9,99.2 574.4,100.6 571.9,102.0 569.4,103.4 566.9,104.8 564.4,106.1 561.9,107.5 559.4,108.8 556.9,110.1 554.4,111.3 551.9,112.5 549.4,113.6 546.9,114.6 544.4,115.6 541.9,116.5 539.4,117.3 536.9,118.1 534.4,118.9 531.9,119.6 529.4,120.3 526.9,121.0 524.4,121.6 521.9,122.3 519.4,122.8 516.9,123.4 514.4,123.9 511.9,124.4 509.4,124.8 506.9,125.3 504.4,125.8 501.9,126.2 499.4,126.7 496.9,127.2 494.4,127.6 491.9,128.1 489.4,128.5 486.9,129.0 484.4,129.3 481.9,129.7 479.4,130.0 476.9,130.3 474.4,130.6 471.9,130.9 469.4,131.3 466.9,131.8 464.4,132.5 461.9,133.4 459.4,134.8 456.9,136.3Z" fill="#5c136e"/><path d="M456.9,136.3 459.4,134.0 461.9,131.8 464.4,130.4 466.9,129.4 469.4,128.6 471.9,128.1 474.4,127.8 476.9,127.5 479.4,127.2 481.9,126.8 484.4,126.4 486.9,126.0 489.4,125.5 491.9,125.0 494.4,124.5 496.9,123.9 499.4,123.4 501.9,122.8 504.4,122.3 506.9,121.8 509.4,121.2 511.9,120.7 514.4,120.1 516.9,119.5 519.4,118.9 521.9,118.2 524.4,117.5 526.9,116.7 529.4,115.9 531.9,115.1 534.4,114.2 536.9,113.3 539.4,112.3 541.9,111.2 544.4,110.0 546.9,108.7 549.4,107.4 551.9,106.0 554.4,104.6 556.9,103.2 559.4,101.6 561.9,100.1 564.4,98.5 566.9,96.9 569.4,95.3 571.9,93.7 574.4,92.1 576.9,90.5 579.4,88.9 581.9,87.3 584.4,85.6 586.9,84.0 589.4,82.4 591.9,80.8 594.4,79.1 596.9,77.5 599.4,75.8 601.9,74.1 604.4,72.5 606.9,70.8 609.4,69.1 611.9,67.5 614.4,65.8 616.9,64.1 619.4,62.4 621.9,60.8 624.4,59.1 626.9,57.4 628.4,56.4 628.4,65.4 626.9,66.4 624.4,68.0 621.9,69.7 619.4,71.4 616.9,73.1 614.4,74.7 611.9,76.4 609.4,78.1 606.9,79.7 604.4,81.4 601.9,83.1 599.4,84.7 596.9,86.4 594.4,88.0 591.9,89.6 589.4,91.1 586.9,92.7 584.4,94.2 581.9,95.6 579.4,97.1 576.9,98.6 574.4,100.0 571.9,101.4 569.4,102.9 566.9,104.3 564.4,105.7 561.9,107.0 559.4,108.4 556.9,109.6 554.4,110.9 551.9,112.0 549.4,113.2 546.9,114.2 544.4,115.2 541.9,116.1 539.4,117.0 536.9,117.8 534.4,118.6 531.9,119.3 529.4,120.0 526.9,120.7 524.4,121.4 521.9,122.0 519.4,122.6 516.9,123.1 514.4,123.6 511.9,124.1 509.4,124.6 506.9,125.1 504.4,125.5 501.9,126.0 499.4,126.5 496.9,126.9 494.4,127.4 491.9,127.9 489.4,128.3 486.9,128.7 484.4,129.1 481.9,129.5 479.4,129.8 476.9,130.1 474.4,130.4 471.9,130.7 469.4,131.1 466.9,131.7 464.4,132.3 461.9,133.3 459.4,134.8 456.9,136.3Z" fill="#4b116c"/><path d="M456.9,136.3 459.4,134.1 461.9,131.9 464.4,130.6 466.9,129.7 469.4,128.8 471.9,128.3 474.4,128.0 476.9,127.7 479.4,127.4 481.9,127.0 484.4,126.6 486.9,126.2 489.4,125.7 491.9,125.2 494.4,124.7 496.9,124.2 499.4,123.7 501.9,123.1 504.4,122.6 506.9,122.1 509.4,121.5 511.9,121.0 514.4,120.4 516.9,119.8 519.4,119.2 521.9,118.5 524.4,117.8 526.9,117.1 529.4,116.3 531.9,115.5 534.4,114.6 536.9,113.7 539.4,112.7 541.9,111.6 544.4,110.5 546.9,109.2 549.4,107.9 551.9,106.6 554.4,105.2 556.9,103.7 559.4,102.3 561.9,100.7 564.4,99.2 566.9,97.6 569.4,96.0 571.9,94.4 574.4,92.8 576.9,91.1 579.4,89.5 581.9,87.9 584.4,86.3 586.9,84.6 589.4,83.0 591.9,81.3 594.4,79.7 596.9,78.0 599.4,76.3 601.9,74.6 604.4,73.0 606.9,71.3 609.4,69.6 611.9,67.9 614.4,66.2 616.9,64.6 619.4,62.9 621.9,61.2 624.4,59.5 626.9,57.9 628.4,56.9 628.4,64.4 626.9,65.4 624.4,67.1 621.9,68.7 619.4,70.4 616.9,72.1 614.4,73.8 611.9,75.4 609.4,77.1 606.9,78.8 604.4,80.5 601.9,82.1 599.4,83.8 596.9,85.5 594.4,87.1 591.9,88.7 589.4,90.3 586.9,91.9 584.4,93.4 581.9,94.9 579.4,96.4 576.9,97.9 574.4,99.4 571.9,100.9 569.4,102.3 566.9,103.8 564.4,105.2 561.9,106.6 559.4,107.9 556.9,109.2 554.4,110.4 551.9,111.6 549.4,112.8 546.9,113.8 544.4,114.8 541.9,115.8 539.4,116.6 536.9,117.5 534.4,118.3 531.9,119.0 529.4,119.7 526.9,120.4 524.4,121.1 521.9,121.7 519.4,122.3 516.9,122.9 514.4,123.4 511.9,123.9 509.4,124.4 506.9,124.9 504.4,125.3 501.9,125.8 499.4,126.3 496.9,126.7 494.4,127.2 491.9,127.6 489.4,128.1 486.9,128.5 484.4,128.9 481.9,129.2 479.4,129.6 476.9,129.9 474.4,130.2 471.9,130.5 469.4,130.9 466.9,131.5 464.4,132.2 461.9,133.2 459.4,134.7 456.9,136.3Z" fill="#3e1169"/><path d="M456.9,136.3 459.4,134.1 461.9,132.1 464.4,130.7 466.9,129.9 469.4,129.1 471.9,128.6 474.4,128.2 476.9,127.9 479.4,127.6 481.9,127.2 484.4,126.8 486.9,126.4 489.4,125.9 491.9,125.4 494.4,125.0 496.9,124.4 499.4,123.9 501.9,123.4 504.4,122.9 506.9,122.4 509.4,121.8 511.9,121.3 514.4,120.7 516.9,120.1 519.4,119.5 521.9,118.9 524.4,118.2 526.9,117.4 529.4,116.7 531.9,115.8 534.4,115.0 536.9,114.1 539.4,113.1 541.9,112.0 544.4,110.9 546.9,109.7 549.4,108.4 551.9,107.1 554.4,105.7 556.9,104.3 559.4,102.9 561.9,101.4 564.4,99.8 566.9,98.3 569.4,96.7 571.9,95.1 574.4,93.4 576.9,91.8 579.4,90.2 581.9,88.5 584.4,86.9 586.9,85.2 589.4,83.5 591.9,81.9 594.4,80.2 596.9,78.5 599.4,76.8 601.9,75.1 604.4,73.4 606.9,71.7 609.4,70.1 611.9,68.4 614.4,66.7 616.9,65.0 619.4,63.3 621.9,61.7 624.4,60.0 626.9,58.3 628.4,57.3 628.4,63.4 626.9,64.4 624.4,66.1 621.9,67.8 619.4,69.4 616.9,71.1 614.4,72.8 611.9,74.5 609.4,76.2 606.9,77.8 604.4,79.5 601.9,81.2 599.4,82.9 596.9,84.6 594.4,86.2 591.9,87.9 589.4,89.5 586.9,91.1 584.4,92.7 581.9,94.2 579.4,95.8 576.9,97.3 574.4,98.8 571.9,100.3 569.4,101.8 566.9,103.3 564.4,104.7 561.9,106.1 559.4,107.4 556.9,108.7 554.4,110.0 551.9,111.2 549.4,112.4 546.9,113.4 544.4,114.5 541.9,115.4 539.4,116.3 536.9,117.2 534.4,117.9 531.9,118.7 529.4,119.4 526.9,120.1 524.4,120.8 521.9,121.5 519.4,122.1 516.9,122.6 514.4,123.2 511.9,123.7 509.4,124.1 506.9,124.6 504.4,125.1 501.9,125.6 499.4,126.0 496.9,126.5 494.4,126.9 491.9,127.4 489.4,127.8 486.9,128.3 484.4,128.7 481.9,129.0 479.4,129.4 476.9,129.7 474.4,130.0 471.9,130.4 469.4,130.8 466.9,131.4 464.4,132.1 461.9,133.0 459.4,134.6 456.9,136.3Z" fill="#351464"/><path d="M456.9,136.3 459.4,134.2 461.9,132.2 464.4,130.9 466.9,130.1 469.4,129.3 471.9,128.8 474.4,128.5 476.9,128.1 479.4,127.8 481.9,127.4 484.4,127.0 486.9,126.6 489.4,126.1 491.9,125.7 494.4,125.2 496.9,124.7 499.4,124.2 501.9,123.7 504.4,123.2 506.9,122.7 509.4,122.1 511.9,121.6 514.4,121.0 516.9,120.5 519.4,119.8 521.9,119.2 524.4,118.5 526.9,117.8 529.4,117.0 531.9,116.2 534.4,115.4 536.9,114.5 539.4,113.5 541.9,112.5 544.4,111.4 546.9,110.2 549.4,109.0 551.9,107.7 554.4,106.3 556.9,104.9 559.4,103.5 561.9,102.0 564.4,100.5 566.9,98.9 569.4,97.4 571.9,95.7 574.4,94.1 576.9,92.5 579.4,90.8 581.9,89.1 584.4,87.5 586.9,85.8 589.4,84.1 591.9,82.4 594.4,80.7 596.9,79.0 599.4,77.3 601.9,75.6 604.4,73.9 606.9,72.2 609.4,70.5 611.9,68.8 614.4,67.1 616.9,65.4 619.4,63.8 621.9,62.1 624.4,60.4 626.9,58.8 628.4,57.8 628.4,62.4 626.9,63.4 624.4,65.1 621.9,66.8 619.4,68.5 616.9,70.1 614.4,71.8 611.9,73.5 609.4,75.2 606.9,76.9 604.4,78.6 601.9,80.3 599.4,82.0 596.9,83.7 594.4,85.4 591.9,87.0 589.4,88.7 586.9,90.3 584.4,91.9 581.9,93.5 579.4,95.1 576.9,96.7 574.4,98.3 571.9,99.8 569.4,101.3 566.9,102.8 564.4,104.2 561.9,105.6 559.4,107.0 556.9,108.3 554.4,109.6 551.9,110.8 549.4,112.0 546.9,113.1 544.4,114.1 541.9,115.1 539.4,116.0 536.9,116.8 534.4,117.6 531.9,118.4 529.4,119.1 526.9,119.9 524.4,120.5 521.9,121.2 519.4,121.8 516.9,122.4 514.4,122.9 511.9,123.4 509.4,123.9 506.9,124.4 504.4,124.9 501.9,125.3 499.4,125.8 496.9,126.3 494.4,126.7 491.9,127.2 489.4,127.6 486.9,128.0 484.4,128.4 481.9,128.8 479.4,129.2 476.9,129.5 474.4,129.8 471.9,130.2 469.4,130.6 466.9,131.3 464.4,131.9 461.9,132.9 459.4,134.6 456.9,136.3Z" fill="#321861"/><path d="M456.9,136.3 459.4,134.3 461.9,132.3 464.4,131.1 466.9,130.3 469.4,129.5 471.9,129.0 474.4,128.7 476.9,128.3 479.4,128.0 481.9,127.6 484.4,127.2 486.9,126.8 489.4,126.3 491.9,125.9 494.4,125.4 496.9,124.9 499.4,124.5 501.9,124.0 504.4,123.5 506.9,122.9 509.4,122.4 511.9,121.9 514.4,121.4 516.9,120.8 519.4,120.2 521.9,119.5 524.4,118.8 526.9,118.1 529.4,117.4 531.9,116.6 534.4,115.7 536.9,114.9 539.4,113.9 541.9,112.9 544.4,111.8 546.9,110.7 549.4,109.5 551.9,108.2 554.4,106.9 556.9,105.5 559.4,104.1 561.9,102.6 564.4,101.1 566.9,99.6 569.4,98.0 571.9,96.4 574.4,94.8 576.9,93.1 579.4,91.5 581.9,89.8 584.4,88.1 586.9,86.4 589.4,84.7 591.9,83.0 594.4,81.3 596.9,79.5 599.4,77.8 601.9,76.1 604.4,74.4 606.9,72.7 609.4,71.0 611.9,69.3 614.4,67.6 616.9,65.9 619.4,64.2 621.9,62.5 624.4,60.9 626.9,59.2 628.4,58.2 628.4,61.5 626.9,62.5 624.4,64.1 621.9,65.8 619.4,67.5 616.9,69.2 614.4,70.8 611.9,72.5 609.4,74.2 606.9,75.9 604.4,77.7 601.9,79.4 599.4,81.1 596.9,82.8 594.4,84.5 591.9,86.2 589.4,87.9 586.9,89.5 584.4,91.2 581.9,92.8 579.4,94.5 576.9,96.1 574.4,97.7 571.9,99.3 569.4,100.8 566.9,102.3 564.4,103.8 561.9,105.2 559.4,106.5 556.9,107.9 554.4,109.1 551.9,110.4 549.4,111.6 546.9,112.7 544.4,113.7 541.9,114.7 539.4,115.6 536.9,116.5 534.4,117.3 531.9,118.1 529.4,118.9 526.9,119.6 524.4,120.3 521.9,120.9 519.4,121.5 516.9,122.1 514.4,122.7 511.9,123.2 509.4,123.7 506.9,124.2 504.4,124.6 501.9,125.1 499.4,125.6 496.9,126.0 494.4,126.5 491.9,126.9 489.4,127.4 486.9,127.8 484.4,128.2 481.9,128.6 479.4,128.9 476.9,129.3 474.4,129.6 471.9,130.0 469.4,130.5 466.9,131.1 464.4,131.8 461.9,132.8 459.4,134.5 456.9,136.3Z" fill="#2e185b"/><path d="M456.9,136.3 459.4,134.3 461.9,132.4 464.4,131.2 466.9,130.5 469.4,129.7 471.9,129.2 474.4,128.9 476.9,128.5 479.4,128.2 481.9,127.8 484.4,127.4 486.9,126.9 489.4,126.5 491.9,126.1 494.4,125.6 496.9,125.1 499.4,124.7 501.9,124.2 504.4,123.7 506.9,123.2 509.4,122.7 511.9,122.2 514.4,121.6 516.9,121.1 519.4,120.4 521.9,119.8 524.4,119.1 526.9,118.4 529.4,117.6 531.9,116.9 534.4,116.0 536.9,115.2 539.4,114.2 541.9,113.2 544.4,112.2 546.9,111.1 549.4,109.9 551.9,108.6 554.4,107.3 556.9,106.0 559.4,104.6 561.9,103.1 564.4,101.7 566.9,100.2 569.4,98.6 571.9,97.0 574.4,95.3 576.9,93.7 579.4,92.0 581.9,90.3 584.4,88.6 586.9,86.8 589.4,85.1 591.9,83.4 594.4,81.7 596.9,80.0 599.4,78.2 601.9,76.5 604.4,74.8 606.9,73.1 609.4,71.3 611.9,69.6 614.4,67.9 616.9,66.2 619.4,64.6 621.9,62.9 624.4,61.2 626.9,59.5 628.4,58.5 628.4,60.7 626.9,61.7 624.4,63.3 621.9,65.0 619.4,66.7 616.9,68.4 614.4,70.1 611.9,71.8 609.4,73.5 606.9,75.2 604.4,76.9 601.9,78.6 599.4,80.4 596.9,82.1 594.4,83.8 591.9,85.5 589.4,87.2 586.9,88.9 584.4,90.6 581.9,92.3 579.4,93.9 576.9,95.6 574.4,97.2 571.9,98.8 569.4,100.4 566.9,101.9 564.4,103.4 561.9,104.8 559.4,106.2 556.9,107.5 554.4,108.8 551.9,110.0 549.4,111.2 546.9,112.4 544.4,113.4 541.9,114.4 539.4,115.4 536.9,116.2 534.4,117.1 531.9,117.9 529.4,118.6 526.9,119.3 524.4,120.0 521.9,120.7 519.4,121.3 516.9,121.9 514.4,122.5 511.9,123.0 509.4,123.5 506.9,124.0 504.4,124.5 501.9,124.9 499.4,125.4 496.9,125.9 494.4,126.3 491.9,126.7 489.4,127.2 486.9,127.6 484.4,128.0 481.9,128.4 479.4,128.8 476.9,129.1 474.4,129.5 471.9,129.9 469.4,130.3 466.9,131.0 464.4,131.7 461.9,132.7 459.4,134.5 456.9,136.3Z" fill="#2b1754"/><path d="M456.9,136.3 459.4,134.4 461.9,132.5 464.4,131.4 466.9,130.6 469.4,129.9 471.9,129.4 474.4,129.0 476.9,128.7 479.4,128.3 481.9,127.9 484.4,127.5 486.9,127.1 489.4,126.7 491.9,126.2 494.4,125.8 496.9,125.3 499.4,124.9 501.9,124.4 504.4,123.9 506.9,123.4 509.4,122.9 511.9,122.4 514.4,121.9 516.9,121.3 519.4,120.7 521.9,120.1 524.4,119.4 526.9,118.7 529.4,117.9 531.9,117.1 534.4,116.3 536.9,115.5 539.4,114.5 541.9,113.6 544.4,112.5 546.9,111.4 549.4,110.2 551.9,109.0 554.4,107.7 556.9,106.4 559.4,105.0 561.9,103.6 564.4,102.2 566.9,100.7 569.4,99.1 571.9,97.5 574.4,95.8 576.9,94.2 579.4,92.5 581.9,90.7 584.4,89.0 586.9,87.3 589.4,85.6 591.9,83.8 594.4,82.1 596.9,80.3 599.4,78.6 601.9,76.9 604.4,75.1 606.9,73.4 609.4,71.7 611.9,70.0 614.4,68.3 616.9,66.6 619.4,64.9 621.9,63.2 624.4,61.5 626.9,59.9 628.4,58.9 628.4,59.9 626.9,60.9 624.4,62.6 621.9,64.3 619.4,66.0 616.9,67.6 614.4,69.3 611.9,71.0 609.4,72.8 606.9,74.5 604.4,76.2 601.9,77.9 599.4,79.7 596.9,81.4 594.4,83.1 591.9,84.9 589.4,86.6 586.9,88.3 584.4,90.0 581.9,91.7 579.4,93.4 576.9,95.1 574.4,96.8 571.9,98.4 569.4,100.0 566.9,101.5 564.4,103.0 561.9,104.4 559.4,105.8 556.9,107.2 554.4,108.5 551.9,109.7 549.4,110.9 546.9,112.1 544.4,113.1 541.9,114.2 539.4,115.1 536.9,116.0 534.4,116.8 531.9,117.6 529.4,118.4 526.9,119.1 524.4,119.8 521.9,120.5 519.4,121.1 516.9,121.7 514.4,122.3 511.9,122.8 509.4,123.3 506.9,123.8 504.4,124.3 501.9,124.8 499.4,125.2 496.9,125.7 494.4,126.1 491.9,126.6 489.4,127.0 486.9,127.4 484.4,127.8 481.9,128.2 479.4,128.6 476.9,129.0 474.4,129.4 471.9,129.7 469.4,130.2 466.9,130.9 464.4,131.6 461.9,132.7 459.4,134.5 456.9,136.3Z" fill="#29154f"/></g>
<path d="M456.9,136.3 459.4,134.4 461.9,132.6 464.4,131.5 466.9,130.8 469.4,130.1 471.9,129.6 474.4,129.2 476.9,128.8 479.4,128.5 481.9,128.1 484.4,127.7 486.9,127.2 489.4,126.8 491.9,126.4 494.4,126.0 496.9,125.5 499.4,125.1 501.9,124.6 504.4,124.1 506.9,123.6 509.4,123.1 511.9,122.6 514.4,122.1 516.9,121.5 519.4,120.9 521.9,120.3 524.4,119.6 526.9,118.9 529.4,118.2 531.9,117.4 534.4,116.6 536.9,115.7 539.4,114.8 541.9,113.9 544.4,112.9 546.9,111.8 549.4,110.6 551.9,109.4 554.4,108.2 556.9,106.8 559.4,105.5 561.9,104.1 564.4,102.7 566.9,101.2 569.4,99.6 571.9,98.0 574.4,96.3 576.9,94.7 579.4,92.9 581.9,91.2 584.4,89.5 586.9,87.7 589.4,86.0 591.9,84.2 594.4,82.5 596.9,80.7 599.4,79.0 601.9,77.2 604.4,75.5 606.9,73.8 609.4,72.0 611.9,70.3 614.4,68.6 616.9,66.9 619.4,65.2 621.9,63.5 624.4,61.9 626.9,60.2 628.4,59.2" fill="none" stroke="#0a0614" stroke-width="2.6"/>
<path d="M456.9,136.3 459.4,134.4 461.9,132.6 464.4,131.5 466.9,130.8 469.4,130.1 471.9,129.6 474.4,129.2 476.9,128.8 479.4,128.5 481.9,128.1 484.4,127.7 486.9,127.2 489.4,126.8 491.9,126.4 494.4,126.0 496.9,125.5 499.4,125.1 501.9,124.6 504.4,124.1 506.9,123.6 509.4,123.1 511.9,122.6 514.4,122.1 516.9,121.5 519.4,120.9 521.9,120.3 524.4,119.6 526.9,118.9 529.4,118.2 531.9,117.4 534.4,116.6 536.9,115.7 539.4,114.8 541.9,113.9 544.4,112.9 546.9,111.8 549.4,110.6 551.9,109.4 554.4,108.2 556.9,106.8 559.4,105.5 561.9,104.1 564.4,102.7 566.9,101.2 569.4,99.6 571.9,98.0 574.4,96.3 576.9,94.7 579.4,92.9 581.9,91.2 584.4,89.5 586.9,87.7 589.4,86.0 591.9,84.2 594.4,82.5 596.9,80.7 599.4,79.0 601.9,77.2 604.4,75.5 606.9,73.8 609.4,72.0 611.9,70.3 614.4,68.6 616.9,66.9 619.4,65.2 621.9,63.5 624.4,61.9 626.9,60.2 628.4,59.2" fill="none" stroke="#9e2619" stroke-width="1.0"/>
</g>
<line x1="456.9" y1="136.3" x2="628.4" y2="136.3" stroke="#cfcfcf" stroke-width="1"/>
<rect x="456.9" y="22.7" width="171.5" height="170.9" fill="none" stroke="#444" stroke-width="1.3"/>
<line x1="453.4" y1="22.6" x2="456.9" y2="22.6" stroke="#333" stroke-width="1"/>
<text x="450.9" y="24.9" font-size="8.8" text-anchor="end" font-weight="normal" fill="#111">6</text>
<line x1="453.4" y1="60.5" x2="456.9" y2="60.5" stroke="#333" stroke-width="1"/>
<text x="450.9" y="62.8" font-size="8.8" text-anchor="end" font-weight="normal" fill="#111">4</text>
<line x1="453.4" y1="98.4" x2="456.9" y2="98.4" stroke="#333" stroke-width="1"/>
<text x="450.9" y="100.7" font-size="8.8" text-anchor="end" font-weight="normal" fill="#111">2</text>
<line x1="453.4" y1="136.3" x2="456.9" y2="136.3" stroke="#333" stroke-width="1"/>
<text x="450.9" y="138.6" font-size="8.8" text-anchor="end" font-weight="normal" fill="#111">0</text>
<line x1="453.4" y1="174.2" x2="456.9" y2="174.2" stroke="#333" stroke-width="1"/>
<text x="450.9" y="176.5" font-size="8.8" text-anchor="end" font-weight="normal" fill="#111">2</text>
<line x1="462.5" y1="193.6" x2="462.5" y2="197.1" stroke="#333" stroke-width="1"/>
<text x="462.5" y="207.2" font-size="8.8" text-anchor="middle" font-weight="normal" fill="#111">1960</text>
<line x1="511.6" y1="193.6" x2="511.6" y2="197.1" stroke="#333" stroke-width="1"/>
<text x="511.6" y="207.2" font-size="8.8" text-anchor="middle" font-weight="normal" fill="#111">2000</text>
<line x1="560.8" y1="193.6" x2="560.8" y2="197.1" stroke="#333" stroke-width="1"/>
<text x="560.8" y="207.2" font-size="8.8" text-anchor="middle" font-weight="normal" fill="#111">2040</text>
<line x1="609.9" y1="193.6" x2="609.9" y2="197.1" stroke="#333" stroke-width="1"/>
<text x="609.9" y="207.2" font-size="8.8" text-anchor="middle" font-weight="normal" fill="#111">2080</text>
<text x="542.6" y="220.9" font-size="9" text-anchor="middle" font-weight="normal" fill="#111">Year</text>
<text x="433.4" y="108.2" font-size="8.6" text-anchor="middle" font-weight="normal" fill="#111" transform="rotate(-90 433.4 108.2)">Cumulative climate change index</text>
<text x="430.5" y="11.8" font-size="10" text-anchor="start" font-weight="bold" fill="#000">c</text>
<rect x="638.9" y="22.7" width="6.3" height="171.3" fill="url(#cbar)" stroke="#444" stroke-width="0.8"/>
<line x1="645" y1="194.0" x2="647.8" y2="194.0" stroke="#333" stroke-width="0.8"/>
<text x="648.6" y="196.9" font-size="8.8" text-anchor="start" font-weight="normal" fill="#111">0</text>
<line x1="645" y1="159.7" x2="647.8" y2="159.7" stroke="#333" stroke-width="0.8"/>
<text x="648.6" y="162.6" font-size="8.8" text-anchor="start" font-weight="normal" fill="#111">0.1</text>
<line x1="645" y1="125.5" x2="647.8" y2="125.5" stroke="#333" stroke-width="0.8"/>
<text x="648.6" y="128.4" font-size="8.8" text-anchor="start" font-weight="normal" fill="#111">0.2</text>
<line x1="645" y1="91.2" x2="647.8" y2="91.2" stroke="#333" stroke-width="0.8"/>
<text x="648.6" y="94.1" font-size="8.8" text-anchor="start" font-weight="normal" fill="#111">0.3</text>
<line x1="645" y1="57.0" x2="647.8" y2="57.0" stroke="#333" stroke-width="0.8"/>
<text x="648.6" y="59.9" font-size="8.8" text-anchor="start" font-weight="normal" fill="#111">0.4</text>
<line x1="645" y1="22.7" x2="647.8" y2="22.7" stroke="#333" stroke-width="0.8"/>
<text x="648.6" y="25.6" font-size="8.8" text-anchor="start" font-weight="normal" fill="#111">0.5</text>
<text x="668.0" y="108.7" font-size="8.5" text-anchor="middle" font-weight="normal" fill="#111" transform="rotate(90 668 108.7)">Fraction of global population</text>
<line x1="35.5" y1="398.8" x2="205.0" y2="398.8" stroke="#c8c8c8" stroke-width="1" stroke-dasharray="2.6,2.6"/>
<g clip-path="url(#clipd)">
<path d="M45.9,398.4 49.9,394.1 54.6,390.9 59.3,389.4 65.6,387.8 70.3,386.2 75.0,385.0 80.0,383.6 85.5,379.2 90.9,375.9 96.4,373.2 101.8,368.8 107.3,364.5 112.8,359.6 118.2,355.7 123.7,352.5 126.9,349.2 130.0,348.1 133.8,345.8 142.9,342.0 149.0,342.0 155.1,342.7 159.7,338.9 165.1,337.7 172.0,341.2 178.1,339.7 187.2,337.7 194.1,338.6" fill="none" stroke="#3a9fd0" stroke-width="1.15"/>
<path d="M45.9,398.4 49.1,393.3 53.0,389.4 57.7,387.0 62.4,385.4 68.7,383.1 73.4,382.3 77.4,380.7 80.0,379.8 85.5,375.9 90.9,372.7 96.4,368.8 101.8,365.6 106.2,362.3 108.4,361.2 112.8,359.6 118.2,356.3 123.7,351.9 126.9,348.1 130.0,347.6 133.8,343.8 138.3,342.7 144.4,339.7 149.0,338.1 155.1,339.2 159.7,337.4 164.3,335.5 168.9,335.8 173.5,333.6 181.1,333.6 187.2,333.6 190.3,334.8 194.1,334.3" fill="none" stroke="#f4bf2e" stroke-width="1.15"/>
<path d="M45.9,398.4 48.3,393.3 51.4,387.8 55.4,383.5 59.3,380.7 64.0,380.3 68.0,378.0 71.9,375.6 73.4,373.6 74.6,375.2 77.4,372.5 80.0,372.7 84.4,370.5 87.1,368.8 90.9,363.4 94.2,357.4 97.5,356.8 100.2,354.1 103.5,348.6 106.2,347.6 109.5,342.6 112.8,339.4 116.0,338.3 118.8,335.5 120.0,332.0 123.1,333.6 126.1,327.4 129.2,325.9 135.3,322.9 142.9,319.8 148.3,314.4 151.3,316.0 155.1,312.6 157.4,314.9 161.3,313.7 164.3,314.5 168.9,310.6 173.5,311.4 177.3,308.0 179.6,309.9 183.4,308.6 187.2,309.6 190.3,310.2 194.1,309.6" fill="none" stroke="#d9534f" stroke-width="1.15"/>
</g>
<rect x="34.5" y="256.2" width="171.5" height="170.8" fill="none" stroke="#9a9a9a" stroke-width="1.4"/>
<line x1="34.5" y1="262.3" x2="34.5" y2="421.6" stroke="#333" stroke-width="1.3"/>
<line x1="40.4" y1="427.0" x2="199.6" y2="427.0" stroke="#333" stroke-width="1.3"/>
<line x1="30.7" y1="285.1" x2="34.5" y2="285.1" stroke="#333" stroke-width="1"/>
<text x="29.1" y="287.4" font-size="8.8" text-anchor="end" font-weight="normal" fill="#111">2.5</text>
<line x1="30.7" y1="330.6" x2="34.5" y2="330.6" stroke="#333" stroke-width="1"/>
<text x="29.1" y="332.9" font-size="8.8" text-anchor="end" font-weight="normal" fill="#111">1.5</text>
<line x1="30.7" y1="376.1" x2="34.5" y2="376.1" stroke="#333" stroke-width="1"/>
<text x="29.1" y="378.4" font-size="8.8" text-anchor="end" font-weight="normal" fill="#111">0.5</text>
<line x1="30.7" y1="398.8" x2="34.5" y2="398.8" stroke="#333" stroke-width="1"/>
<text x="29.1" y="401.2" font-size="8.8" text-anchor="end" font-weight="normal" fill="#111">0</text>
<line x1="30.7" y1="421.6" x2="34.5" y2="421.6" stroke="#333" stroke-width="1"/>
<text x="29.1" y="423.9" font-size="8.8" text-anchor="end" font-weight="normal" fill="#111">0.5</text>
<line x1="40.4" y1="427.0" x2="40.4" y2="430.0" stroke="#333" stroke-width="1"/>
<text x="40.4" y="438.8" font-size="8.8" text-anchor="middle" font-weight="normal" fill="#111">1950</text>
<line x1="93.5" y1="427.0" x2="93.5" y2="430.0" stroke="#333" stroke-width="1"/>
<text x="93.5" y="438.8" font-size="8.8" text-anchor="middle" font-weight="normal" fill="#111">2000</text>
<line x1="146.5" y1="427.0" x2="146.5" y2="430.0" stroke="#333" stroke-width="1"/>
<text x="146.5" y="438.8" font-size="8.8" text-anchor="middle" font-weight="normal" fill="#111">2050</text>
<line x1="199.6" y1="427.0" x2="199.6" y2="430.0" stroke="#333" stroke-width="1"/>
<text x="199.6" y="438.8" font-size="8.8" text-anchor="middle" font-weight="normal" fill="#111">2100</text>
<text x="120.2" y="455.9" font-size="9" text-anchor="middle" font-weight="normal" fill="#111">Year</text>
<text x="11.0" y="341.5" font-size="8.6" text-anchor="middle" font-weight="normal" fill="#111" transform="rotate(-90 11 341.5)">Cumulative climate change index</text>
<text x="16.4" y="251.9" font-size="10" text-anchor="start" font-weight="bold" fill="#000">d</text>
<line x1="246.4" y1="398.8" x2="414.7" y2="398.8" stroke="#c8c8c8" stroke-width="1" stroke-dasharray="2.6,2.6"/>
<g clip-path="url(#clipe)">
<path d="M256.9,398.0 261.0,393.4 267.9,389.8 279.3,387.0 280.0,387.2 289.2,384.1 298.3,380.3 307.5,375.0 313.6,369.6 319.7,365.0 325.8,358.9 331.9,350.5 336.5,344.4 338.0,343.9 344.1,338.6 350.2,332.5 357.9,326.3 362.5,324.0 365.5,320.2 370.1,319.5 374.7,314.9 379.3,313.3 383.9,311.1 388.5,307.2 391.5,306.5 396.1,304.2 400.7,303.4 404.5,301.1" fill="none" stroke="#3a9fd0" stroke-width="1.15"/>
<path d="M256.9,398.0 261.0,391.6 267.9,387.5 279.3,383.6 280.0,384.1 289.2,380.3 298.3,375.7 307.5,371.1 312.1,368.1 316.6,364.3 321.2,359.7 325.8,357.4 331.9,352.1 336.5,347.5 338.0,347.7 342.6,343.2 347.2,340.9 353.3,333.2 359.4,327.9 365.5,323.3 368.6,322.5 374.7,316.4 379.3,317.2 383.9,312.6 386.9,310.3 390.0,307.2 393.0,309.5 399.2,307.2 404.5,304.2" fill="none" stroke="#f4bf2e" stroke-width="1.15"/>
<path d="M256.9,398.0 261.0,390.5 265.6,384.7 270.2,381.3 274.8,380.1 279.3,376.7 280.0,376.5 284.6,374.2 286.1,375.0 289.2,371.1 293.7,369.6 298.3,367.3 304.4,358.9 309.0,355.9 312.1,354.4 314.4,349.8 316.6,352.8 318.9,347.5 322.0,346.7 325.0,346.7 326.6,341.4 331.9,338.3 335.7,333.7 338.0,333.2 341.1,330.9 344.1,327.1 347.2,327.6 348.7,322.5 353.3,317.2 357.9,314.1 362.5,311.1 367.1,308.0 371.6,303.4 374.7,302.6 377.8,299.6 380.8,301.1 383.9,294.2 386.9,291.9 390.8,291.5 394.6,288.9 397.6,289.3 399.9,291.2 404.5,288.4" fill="none" stroke="#d9534f" stroke-width="1.15"/>
</g>
<rect x="245.4" y="256.2" width="170.3" height="170.8" fill="none" stroke="#9a9a9a" stroke-width="1.4"/>
<line x1="245.4" y1="262.3" x2="245.4" y2="421.6" stroke="#333" stroke-width="1.3"/>
<line x1="251.6" y1="427.0" x2="409.7" y2="427.0" stroke="#333" stroke-width="1.3"/>
<line x1="241.6" y1="285.1" x2="245.4" y2="285.1" stroke="#333" stroke-width="1"/>
<text x="240.0" y="287.4" font-size="8.8" text-anchor="end" font-weight="normal" fill="#111">2.5</text>
<line x1="241.6" y1="330.6" x2="245.4" y2="330.6" stroke="#333" stroke-width="1"/>
<text x="240.0" y="332.9" font-size="8.8" text-anchor="end" font-weight="normal" fill="#111">1.5</text>
<line x1="241.6" y1="376.1" x2="245.4" y2="376.1" stroke="#333" stroke-width="1"/>
<text x="240.0" y="378.4" font-size="8.8" text-anchor="end" font-weight="normal" fill="#111">0.5</text>
<line x1="241.6" y1="398.8" x2="245.4" y2="398.8" stroke="#333" stroke-width="1"/>
<text x="240.0" y="401.2" font-size="8.8" text-anchor="end" font-weight="normal" fill="#111">0</text>
<line x1="241.6" y1="421.6" x2="245.4" y2="421.6" stroke="#333" stroke-width="1"/>
<text x="240.0" y="423.9" font-size="8.8" text-anchor="end" font-weight="normal" fill="#111">0.5</text>
<line x1="251.6" y1="427.0" x2="251.6" y2="430.0" stroke="#333" stroke-width="1"/>
<text x="251.6" y="438.8" font-size="8.8" text-anchor="middle" font-weight="normal" fill="#111">1950</text>
<line x1="304.3" y1="427.0" x2="304.3" y2="430.0" stroke="#333" stroke-width="1"/>
<text x="304.3" y="438.8" font-size="8.8" text-anchor="middle" font-weight="normal" fill="#111">2000</text>
<line x1="357.0" y1="427.0" x2="357.0" y2="430.0" stroke="#333" stroke-width="1"/>
<text x="357.0" y="438.8" font-size="8.8" text-anchor="middle" font-weight="normal" fill="#111">2050</text>
<line x1="409.7" y1="427.0" x2="409.7" y2="430.0" stroke="#333" stroke-width="1"/>
<text x="409.7" y="438.8" font-size="8.8" text-anchor="middle" font-weight="normal" fill="#111">2100</text>
<text x="330.6" y="455.9" font-size="9" text-anchor="middle" font-weight="normal" fill="#111">Year</text>
<text x="221.9" y="341.5" font-size="8.6" text-anchor="middle" font-weight="normal" fill="#111" transform="rotate(-90 221.9 341.5)">Cumulative climate change index</text>
<text x="221.8" y="251.9" font-size="10" text-anchor="start" font-weight="bold" fill="#000">e</text>
<line x1="458.3" y1="398.8" x2="627.4" y2="398.8" stroke="#c8c8c8" stroke-width="1" stroke-dasharray="2.6,2.6"/>
<g clip-path="url(#clipf)">
<path d="M469.1,397.8 475.0,393.3 479.9,390.8 488.4,388.4 497.0,385.3 504.3,382.9 510.5,380.5 514.0,378.0 522.6,372.1 528.3,365.3 535.1,357.2 540.0,353.0 542.0,350.0 551.2,339.1 557.8,330.0 564.3,322.8 569.6,316.2 573.5,308.3 577.4,300.5 581.4,293.9 585.0,290.0 590.4,283.2 597.2,270.6 603.5,255.0" fill="none" stroke="#3a9fd0" stroke-width="1.15"/>
<path d="M469.1,397.8 473.8,392.1 479.9,387.8 488.4,384.7 495.8,382.3 503.1,379.8 509.2,377.4 514.0,373.7 522.6,368.7 528.3,361.8 535.1,356.1 540.0,351.9 543.3,349.0 551.2,337.2 557.8,328.7 564.3,321.5 566.9,315.6 570.9,311.0 573.5,305.1 576.1,299.2 580.0,295.2 585.0,290.0 590.4,280.9 596.1,268.3 602.5,255.0" fill="none" stroke="#f4bf2e" stroke-width="1.15"/>
<path d="M469.1,397.8 472.6,392.1 476.2,386.6 482.3,381.1 487.2,380.5 492.1,377.4 495.8,373.7 497.6,375.6 500.7,371.9 504.3,370.1 509.2,368.2 514.0,362.7 516.8,358.4 523.7,353.8 527.6,349.6 530.9,347.7 536.8,339.8 540.7,333.2 543.3,333.2 546.0,331.3 549.2,324.7 553.2,321.5 556.5,316.2 560.4,309.7 562.4,308.3 563.0,309.0 564.3,303.8 568.3,297.9 571.5,292.6 573.5,290.0 576.6,286.6 581.2,279.8 585.8,270.6 589.2,261.4 595.0,256.9 597.2,255.0" fill="none" stroke="#d9534f" stroke-width="1.15"/>
</g>
<rect x="457.3" y="256.2" width="171.1" height="170.8" fill="none" stroke="#9a9a9a" stroke-width="1.4"/>
<line x1="457.3" y1="262.3" x2="457.3" y2="421.6" stroke="#333" stroke-width="1.3"/>
<line x1="463.5" y1="427.0" x2="621.7" y2="427.0" stroke="#333" stroke-width="1.3"/>
<line x1="453.5" y1="285.1" x2="457.3" y2="285.1" stroke="#333" stroke-width="1"/>
<text x="451.9" y="287.4" font-size="8.8" text-anchor="end" font-weight="normal" fill="#111">2.5</text>
<line x1="453.5" y1="330.6" x2="457.3" y2="330.6" stroke="#333" stroke-width="1"/>
<text x="451.9" y="332.9" font-size="8.8" text-anchor="end" font-weight="normal" fill="#111">1.5</text>
<line x1="453.5" y1="376.1" x2="457.3" y2="376.1" stroke="#333" stroke-width="1"/>
<text x="451.9" y="378.4" font-size="8.8" text-anchor="end" font-weight="normal" fill="#111">0.5</text>
<line x1="453.5" y1="398.8" x2="457.3" y2="398.8" stroke="#333" stroke-width="1"/>
<text x="451.9" y="401.2" font-size="8.8" text-anchor="end" font-weight="normal" fill="#111">0</text>
<line x1="453.5" y1="421.6" x2="457.3" y2="421.6" stroke="#333" stroke-width="1"/>
<text x="451.9" y="423.9" font-size="8.8" text-anchor="end" font-weight="normal" fill="#111">0.5</text>
<line x1="463.5" y1="427.0" x2="463.5" y2="430.0" stroke="#333" stroke-width="1"/>
<text x="463.5" y="438.8" font-size="8.8" text-anchor="middle" font-weight="normal" fill="#111">1950</text>
<line x1="516.2" y1="427.0" x2="516.2" y2="430.0" stroke="#333" stroke-width="1"/>
<text x="516.2" y="438.8" font-size="8.8" text-anchor="middle" font-weight="normal" fill="#111">2000</text>
<line x1="569.0" y1="427.0" x2="569.0" y2="430.0" stroke="#333" stroke-width="1"/>
<text x="569.0" y="438.8" font-size="8.8" text-anchor="middle" font-weight="normal" fill="#111">2050</text>
<line x1="621.7" y1="427.0" x2="621.7" y2="430.0" stroke="#333" stroke-width="1"/>
<text x="621.7" y="438.8" font-size="8.8" text-anchor="middle" font-weight="normal" fill="#111">2100</text>
<text x="542.9" y="455.9" font-size="9" text-anchor="middle" font-weight="normal" fill="#111">Year</text>
<text x="433.8" y="341.5" font-size="8.6" text-anchor="middle" font-weight="normal" fill="#111" transform="rotate(-90 433.8 341.5)">Cumulative climate change index</text>
<text x="431.0" y="251.9" font-size="10" text-anchor="start" font-weight="bold" fill="#000">f</text>
<line x1="39.5" y1="265.4" x2="50.1" y2="265.4" stroke="#d9534f" stroke-width="1.1"/>
<text x="53.0" y="269.0" font-size="8.6" text-anchor="start" font-weight="normal" fill="#111">Low</text>
<line x1="39.5" y1="276.4" x2="50.1" y2="276.4" stroke="#f4bf2e" stroke-width="1.1"/>
<text x="53.0" y="280.1" font-size="8.6" text-anchor="start" font-weight="normal" fill="#111">Medium</text>
<line x1="39.5" y1="287.5" x2="50.1" y2="287.5" stroke="#3a9fd0" stroke-width="1.1"/>
<text x="53.0" y="291.1" font-size="8.6" text-anchor="start" font-weight="normal" fill="#111">High</text>
</svg></body></html>
